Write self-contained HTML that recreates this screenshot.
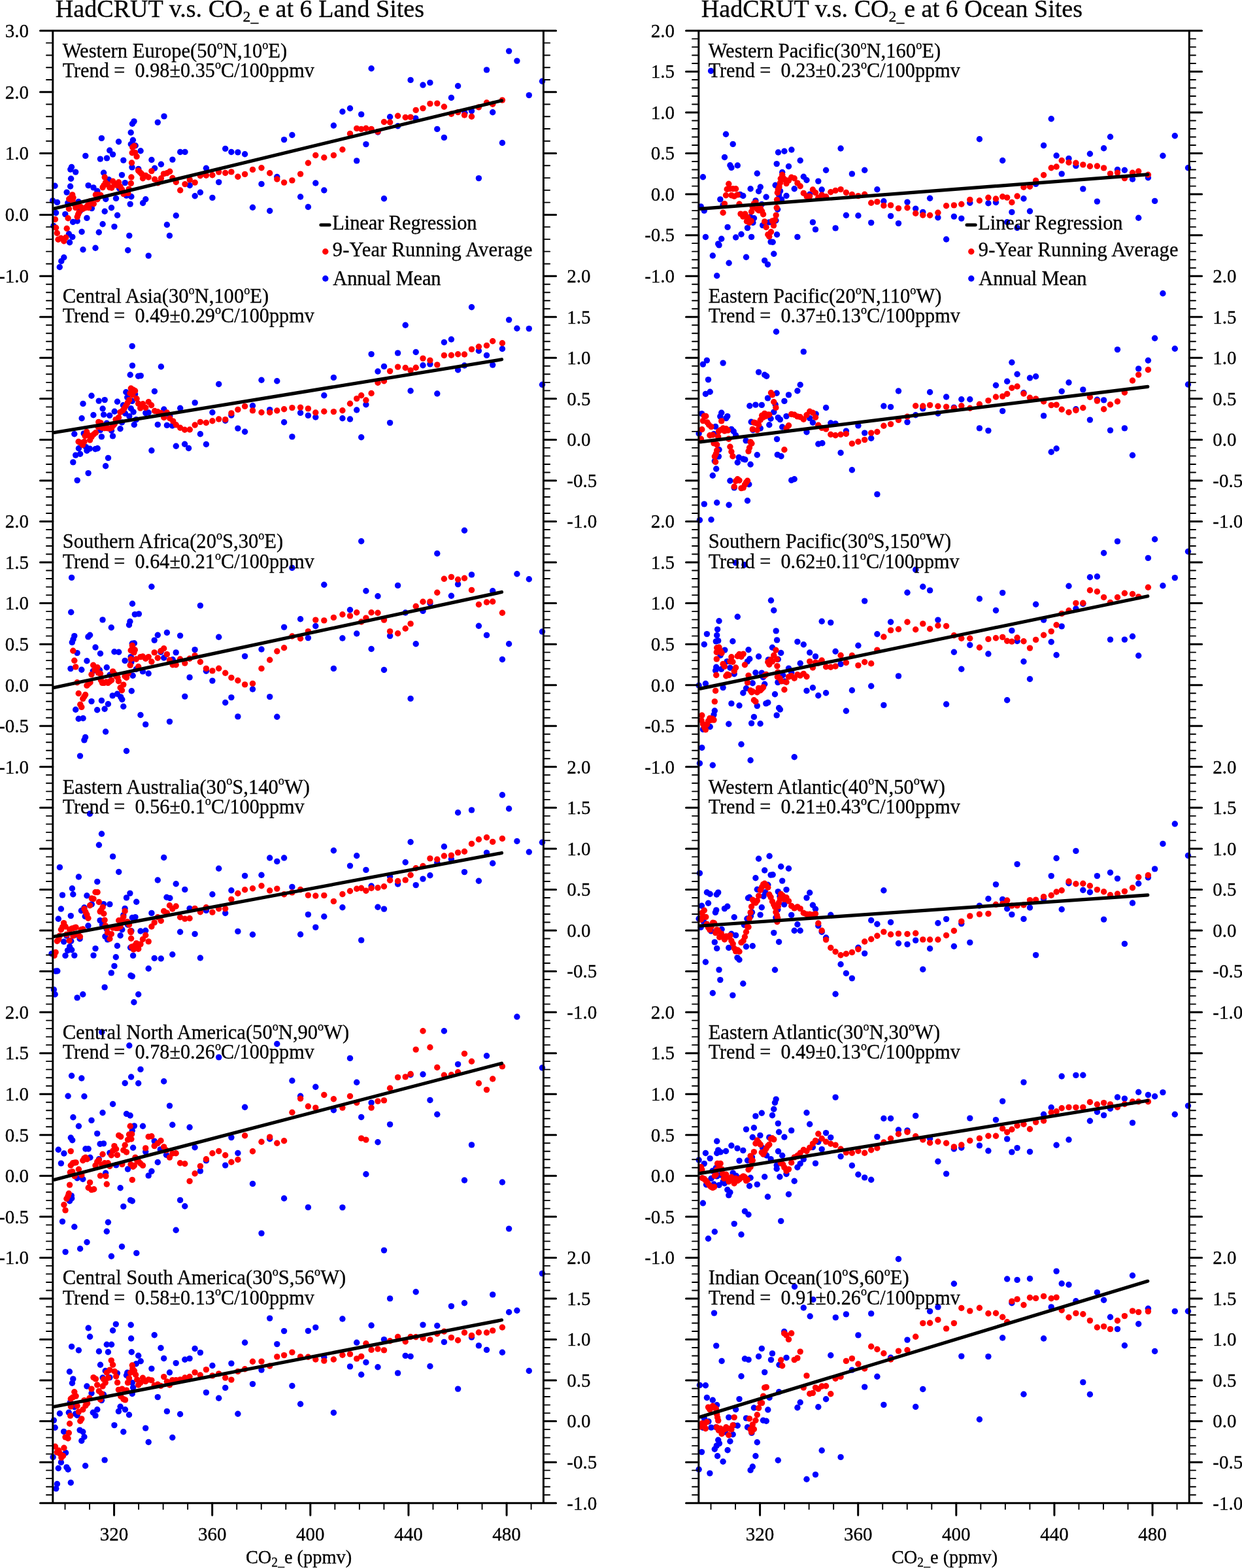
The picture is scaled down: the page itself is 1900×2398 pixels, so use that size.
<!DOCTYPE html>
<html lang="en"><head><meta charset="utf-8"><title>HadCRUT v.s. CO2_e</title>
<style>html,body{margin:0;padding:0;background:#fff}body{width:1900px;height:2398px;overflow:hidden}svg{display:block}text{font-family:"Liberation Serif","DejaVu Serif",serif;fill:#000;stroke:#000;stroke-width:0.3px}</style></head><body>
<svg width="1900" height="2398" viewBox="0 0 1900 2398">
<rect width="1900" height="2398" fill="#fff"/>
<g id="panel-L">
<g fill="#0000ff">
<circle cx="251" cy="177.9" r="4.7"/><circle cx="205.1" cy="185.6" r="4.7"/><circle cx="202.5" cy="189.3" r="4.7"/><circle cx="241.3" cy="187.1" r="4.7"/><circle cx="200.2" cy="202.7" r="4.7"/><circle cx="155.4" cy="211.4" r="4.7"/><circle cx="203.4" cy="214.2" r="4.7"/><circle cx="181.5" cy="216.8" r="4.7"/><circle cx="200.3" cy="220.5" r="4.7"/><circle cx="207.2" cy="222.7" r="4.7"/><circle cx="167.7" cy="230" r="4.7"/><circle cx="215.1" cy="230.7" r="4.7"/><circle cx="172.6" cy="236.1" r="4.7"/><circle cx="275.7" cy="232.5" r="4.7"/><circle cx="283" cy="232.4" r="4.7"/><circle cx="130.8" cy="238.4" r="4.7"/><circle cx="153.4" cy="243.1" r="4.7"/><circle cx="163.5" cy="241.9" r="4.7"/><circle cx="188.8" cy="245.1" r="4.7"/><circle cx="231.9" cy="244.5" r="4.7"/><circle cx="263.9" cy="244.1" r="4.7"/><circle cx="246.4" cy="251.3" r="4.7"/><circle cx="109.5" cy="255.5" r="4.7"/><circle cx="107.8" cy="259.1" r="4.7"/><circle cx="115.7" cy="263.1" r="4.7"/><circle cx="202" cy="255.9" r="4.7"/><circle cx="211.8" cy="258.4" r="4.7"/><circle cx="236.6" cy="257.2" r="4.7"/><circle cx="158.6" cy="264.2" r="4.7"/><circle cx="186.5" cy="267.6" r="4.7"/><circle cx="108.6" cy="273.3" r="4.7"/><circle cx="166.5" cy="274.7" r="4.7"/><circle cx="191.3" cy="279.6" r="4.7"/><circle cx="84" cy="284.2" r="4.7"/><circle cx="107.6" cy="285" r="4.7"/><circle cx="135.1" cy="283.6" r="4.7"/><circle cx="143" cy="286.9" r="4.7"/><circle cx="148.9" cy="292.3" r="4.7"/><circle cx="102.1" cy="294.1" r="4.7"/><circle cx="182.5" cy="288.1" r="4.7"/><circle cx="200.9" cy="300.8" r="4.7"/><circle cx="193.4" cy="299.1" r="4.7"/><circle cx="177.5" cy="303.4" r="4.7"/><circle cx="161.8" cy="304.5" r="4.7"/><circle cx="222.8" cy="304.7" r="4.7"/><circle cx="80.6" cy="306.9" r="4.7"/><circle cx="87.5" cy="309.4" r="4.7"/><circle cx="103.8" cy="310.4" r="4.7"/><circle cx="120.1" cy="308.5" r="4.7"/><circle cx="218.6" cy="310.5" r="4.7"/><circle cx="199.2" cy="312.1" r="4.7"/><circle cx="170.5" cy="317.8" r="4.7"/><circle cx="140.4" cy="318.6" r="4.7"/><circle cx="160.2" cy="323.3" r="4.7"/><circle cx="85.6" cy="325.5" r="4.7"/><circle cx="99.8" cy="327.6" r="4.7"/><circle cx="122.4" cy="322.7" r="4.7"/><circle cx="179.6" cy="329.2" r="4.7"/><circle cx="269.3" cy="329.7" r="4.7"/><circle cx="132.9" cy="333.4" r="4.7"/><circle cx="111.6" cy="339.5" r="4.7"/><circle cx="118.2" cy="338" r="4.7"/><circle cx="157.1" cy="342.7" r="4.7"/><circle cx="174.9" cy="346.6" r="4.7"/><circle cx="255.4" cy="343.7" r="4.7"/><circle cx="81.9" cy="345.5" r="4.7"/><circle cx="125.1" cy="354.5" r="4.7"/><circle cx="151.3" cy="355.2" r="4.7"/><circle cx="105.4" cy="357.8" r="4.7"/><circle cx="110.8" cy="362.4" r="4.7"/><circle cx="197.8" cy="360.4" r="4.7"/><circle cx="259.4" cy="360.4" r="4.7"/><circle cx="106.6" cy="370.8" r="4.7"/><circle cx="127" cy="381.7" r="4.7"/><circle cx="146" cy="379.2" r="4.7"/><circle cx="195.7" cy="382.8" r="4.7"/><circle cx="227.2" cy="391.1" r="4.7"/><circle cx="97.8" cy="393.7" r="4.7"/><circle cx="93.8" cy="399.4" r="4.7"/><circle cx="91.3" cy="408.5" r="4.7"/><circle cx="568.1" cy="104.8" r="4.7"/><circle cx="535.5" cy="165.8" r="4.7"/><circle cx="523.9" cy="170.7" r="4.7"/><circle cx="552.7" cy="174.9" r="4.7"/><circle cx="510.4" cy="192" r="4.7"/><circle cx="446.9" cy="206.5" r="4.7"/><circle cx="434.6" cy="213.6" r="4.7"/><circle cx="578" cy="202" r="4.7"/><circle cx="559.9" cy="220.6" r="4.7"/><circle cx="344.7" cy="227.4" r="4.7"/><circle cx="353.9" cy="232.5" r="4.7"/><circle cx="363.9" cy="232.9" r="4.7"/><circle cx="374.6" cy="235.7" r="4.7"/><circle cx="545.7" cy="245.9" r="4.7"/><circle cx="315.4" cy="257.3" r="4.7"/><circle cx="423.8" cy="270.5" r="4.7"/><circle cx="334.7" cy="278.6" r="4.7"/><circle cx="400" cy="281.4" r="4.7"/><circle cx="482.8" cy="280" r="4.7"/><circle cx="290.3" cy="283.5" r="4.7"/><circle cx="495.8" cy="291" r="4.7"/><circle cx="306.4" cy="294.2" r="4.7"/><circle cx="298.2" cy="299.8" r="4.7"/><circle cx="324.9" cy="302.4" r="4.7"/><circle cx="459.6" cy="301" r="4.7"/><circle cx="587.5" cy="303.7" r="4.7"/><circle cx="386.5" cy="317.2" r="4.7"/><circle cx="471.4" cy="316.5" r="4.7"/><circle cx="412.7" cy="322.5" r="4.7"/><circle cx="778.6" cy="78.1" r="4.7"/><circle cx="790.9" cy="93.1" r="4.7"/><circle cx="744.5" cy="106.9" r="4.7"/><circle cx="628.1" cy="122.4" r="4.7"/><circle cx="647" cy="130" r="4.7"/><circle cx="657.9" cy="126.4" r="4.7"/><circle cx="829.5" cy="124.2" r="4.7"/><circle cx="700.6" cy="131.5" r="4.7"/><circle cx="809.3" cy="145.6" r="4.7"/><circle cx="690.4" cy="149.5" r="4.7"/><circle cx="596.6" cy="178.8" r="4.7"/><circle cx="635.8" cy="180.9" r="4.7"/><circle cx="721.5" cy="169.8" r="4.7"/><circle cx="711" cy="172.8" r="4.7"/><circle cx="753.7" cy="171.8" r="4.7"/><circle cx="608.6" cy="192.7" r="4.7"/><circle cx="668.8" cy="197.4" r="4.7"/><circle cx="679.4" cy="210.4" r="4.7"/><circle cx="768.4" cy="218.5" r="4.7"/><circle cx="732.4" cy="272.6" r="4.7"/>
</g>
<g fill="#ff0000">
<circle cx="84.4" cy="335.5" r="4.7"/><circle cx="85.6" cy="348.3" r="4.7"/><circle cx="87.3" cy="356.5" r="4.7"/><circle cx="89" cy="366.2" r="4.7"/><circle cx="93.2" cy="364.3" r="4.7"/><circle cx="97.8" cy="368.7" r="4.7"/><circle cx="100.7" cy="363.3" r="4.7"/><circle cx="102.2" cy="349.5" r="4.7"/><circle cx="104.1" cy="333.7" r="4.7"/><circle cx="105.4" cy="319.2" r="4.7"/><circle cx="105.7" cy="304.2" r="4.7"/><circle cx="108.8" cy="301.7" r="4.7"/><circle cx="110.7" cy="297.9" r="4.7"/><circle cx="112" cy="302.3" r="4.7"/><circle cx="111.3" cy="307.9" r="4.7"/><circle cx="113.8" cy="312.3" r="4.7"/><circle cx="115.7" cy="317.6" r="4.7"/><circle cx="118.2" cy="314.8" r="4.7"/><circle cx="123.2" cy="316.1" r="4.7"/><circle cx="118.2" cy="331.7" r="4.7"/><circle cx="119.5" cy="328" r="4.7"/><circle cx="120.7" cy="325.2" r="4.7"/><circle cx="126.4" cy="319.8" r="4.7"/><circle cx="130.1" cy="317.9" r="4.7"/><circle cx="133.9" cy="314.2" r="4.7"/><circle cx="135.8" cy="317.6" r="4.7"/><circle cx="137.6" cy="307.9" r="4.7"/><circle cx="140.2" cy="310.4" r="4.7"/><circle cx="143.3" cy="311.7" r="4.7"/><circle cx="146.4" cy="297.9" r="4.7"/><circle cx="150.2" cy="297.9" r="4.7"/><circle cx="153.9" cy="298.5" r="4.7"/><circle cx="148.9" cy="304.8" r="4.7"/><circle cx="157.1" cy="286.6" r="4.7"/><circle cx="158.9" cy="283.5" r="4.7"/><circle cx="161.5" cy="279.1" r="4.7"/><circle cx="160.2" cy="271" r="4.7"/><circle cx="164.6" cy="281.6" r="4.7"/><circle cx="167.7" cy="286.6" r="4.7"/><circle cx="170.8" cy="287.2" r="4.7"/><circle cx="172.7" cy="277.2" r="4.7"/><circle cx="175.2" cy="282.2" r="4.7"/><circle cx="181.5" cy="278.8" r="4.7"/><circle cx="179" cy="283.5" r="4.7"/><circle cx="184" cy="285.4" r="4.7"/><circle cx="186.5" cy="289.7" r="4.7"/><circle cx="189" cy="296.6" r="4.7"/><circle cx="195.9" cy="295.4" r="4.7"/><circle cx="197.2" cy="289.1" r="4.7"/><circle cx="200.3" cy="280.4" r="4.7"/><circle cx="200.9" cy="271" r="4.7"/><circle cx="201.5" cy="249" r="4.7"/><circle cx="202.2" cy="233.7" r="4.7"/><circle cx="202.8" cy="225.2" r="4.7"/><circle cx="205.3" cy="223.3" r="4.7"/><circle cx="206.6" cy="233.4" r="4.7"/><circle cx="209.1" cy="239.4" r="4.7"/><circle cx="211.6" cy="260.9" r="4.7"/><circle cx="214.1" cy="263.4" r="4.7"/><circle cx="216.6" cy="265.9" r="4.7"/><circle cx="218.5" cy="272.8" r="4.7"/><circle cx="222.8" cy="268.4" r="4.7"/><circle cx="227.2" cy="271" r="4.7"/><circle cx="231.9" cy="261.6" r="4.7"/><circle cx="236.6" cy="274.1" r="4.7"/><circle cx="241.6" cy="279.7" r="4.7"/><circle cx="246.4" cy="272.8" r="4.7"/><circle cx="250.4" cy="265.9" r="4.7"/><circle cx="255.4" cy="264.7" r="4.7"/><circle cx="259.8" cy="262.2" r="4.7"/><circle cx="263.9" cy="272.2" r="4.7"/><circle cx="269.3" cy="278.5" r="4.7"/><circle cx="275.7" cy="291" r="4.7"/><circle cx="283" cy="281.6" r="4.7"/><circle cx="290.3" cy="274.9" r="4.7"/><circle cx="298.2" cy="279.1" r="4.7"/><circle cx="306.4" cy="268.7" r="4.7"/><circle cx="315.4" cy="268.2" r="4.7"/><circle cx="324.9" cy="267.7" r="4.7"/><circle cx="334.7" cy="263.1" r="4.7"/><circle cx="344.7" cy="264.5" r="4.7"/><circle cx="353.9" cy="262.9" r="4.7"/><circle cx="363.9" cy="270.3" r="4.7"/><circle cx="374.6" cy="266.4" r="4.7"/><circle cx="386.5" cy="259.4" r="4.7"/><circle cx="400" cy="256.8" r="4.7"/><circle cx="412.7" cy="264.7" r="4.7"/><circle cx="423.8" cy="274" r="4.7"/><circle cx="434.6" cy="279.1" r="4.7"/><circle cx="446.9" cy="275.9" r="4.7"/><circle cx="459.6" cy="266.1" r="4.7"/><circle cx="471.4" cy="249.2" r="4.7"/><circle cx="482.8" cy="237.5" r="4.7"/><circle cx="495.8" cy="241" r="4.7"/><circle cx="510.4" cy="237.5" r="4.7"/><circle cx="523.9" cy="228.7" r="4.7"/><circle cx="535.5" cy="204.4" r="4.7"/><circle cx="545.7" cy="196.4" r="4.7"/><circle cx="552.7" cy="197.4" r="4.7"/><circle cx="559.9" cy="196.2" r="4.7"/><circle cx="568.1" cy="197.4" r="4.7"/><circle cx="578" cy="201.4" r="4.7"/><circle cx="587.5" cy="186.5" r="4.7"/><circle cx="596.6" cy="187" r="4.7"/><circle cx="608.6" cy="177.2" r="4.7"/><circle cx="620.2" cy="179.5" r="4.7"/><circle cx="628.1" cy="179.1" r="4.7"/><circle cx="636.2" cy="168.4" r="4.7"/><circle cx="647" cy="165.6" r="4.7"/><circle cx="657.9" cy="158.6" r="4.7"/><circle cx="668.8" cy="158.1" r="4.7"/><circle cx="679.4" cy="163.3" r="4.7"/><circle cx="690.4" cy="174.2" r="4.7"/><circle cx="700.6" cy="171.6" r="4.7"/><circle cx="710.5" cy="176" r="4.7"/><circle cx="721.5" cy="178.3" r="4.7"/><circle cx="732.4" cy="164" r="4.7"/><circle cx="744.5" cy="157" r="4.7"/><circle cx="753.7" cy="159.3" r="4.7"/><circle cx="768.4" cy="153.1" r="4.7"/>
</g>
<line x1="83" y1="319" x2="767.5" y2="153.8" stroke="#000" stroke-width="5.2" stroke-linecap="round"/>
<g fill="#0000ff">
<circle cx="202.2" cy="529.4" r="4.7"/><circle cx="202.5" cy="559.1" r="4.7"/><circle cx="246.4" cy="560.8" r="4.7"/><circle cx="199.2" cy="573.2" r="4.7"/><circle cx="211.6" cy="575.2" r="4.7"/><circle cx="215.3" cy="574.6" r="4.7"/><circle cx="236.4" cy="598.5" r="4.7"/><circle cx="192.8" cy="599.8" r="4.7"/><circle cx="206.6" cy="602.8" r="4.7"/><circle cx="140" cy="605.2" r="4.7"/><circle cx="194.7" cy="607.8" r="4.7"/><circle cx="151.2" cy="613.1" r="4.7"/><circle cx="160.2" cy="611.6" r="4.7"/><circle cx="179.5" cy="614.3" r="4.7"/><circle cx="202.2" cy="613.4" r="4.7"/><circle cx="127" cy="617.4" r="4.7"/><circle cx="188.4" cy="619.7" r="4.7"/><circle cx="157.1" cy="625" r="4.7"/><circle cx="200.3" cy="624.7" r="4.7"/><circle cx="250.8" cy="626" r="4.7"/><circle cx="275.7" cy="624.3" r="4.7"/><circle cx="175.2" cy="629.3" r="4.7"/><circle cx="204.1" cy="630" r="4.7"/><circle cx="222.8" cy="631.6" r="4.7"/><circle cx="227.2" cy="631" r="4.7"/><circle cx="191.5" cy="632.2" r="4.7"/><circle cx="142.9" cy="634.7" r="4.7"/><circle cx="158.6" cy="634.1" r="4.7"/><circle cx="167.7" cy="635.4" r="4.7"/><circle cx="197.8" cy="636.6" r="4.7"/><circle cx="125.1" cy="639.7" r="4.7"/><circle cx="208.4" cy="641.6" r="4.7"/><circle cx="259.8" cy="636.6" r="4.7"/><circle cx="163.3" cy="647.3" r="4.7"/><circle cx="186.5" cy="646" r="4.7"/><circle cx="205.3" cy="649.5" r="4.7"/><circle cx="241.3" cy="649.4" r="4.7"/><circle cx="255.4" cy="650.4" r="4.7"/><circle cx="263.6" cy="651" r="4.7"/><circle cx="184" cy="655.8" r="4.7"/><circle cx="153.3" cy="657.9" r="4.7"/><circle cx="170.5" cy="658.5" r="4.7"/><circle cx="113.8" cy="663.7" r="4.7"/><circle cx="128.2" cy="662.9" r="4.7"/><circle cx="172.5" cy="666.9" r="4.7"/><circle cx="155.4" cy="667.9" r="4.7"/><circle cx="269.3" cy="682.2" r="4.7"/><circle cx="282.6" cy="679.2" r="4.7"/><circle cx="288.6" cy="685.5" r="4.7"/><circle cx="120.4" cy="685.7" r="4.7"/><circle cx="131.4" cy="683.6" r="4.7"/><circle cx="137.3" cy="686.1" r="4.7"/><circle cx="132.9" cy="689.2" r="4.7"/><circle cx="145.8" cy="686.7" r="4.7"/><circle cx="149.2" cy="685.7" r="4.7"/><circle cx="231.9" cy="689" r="4.7"/><circle cx="122.6" cy="694.3" r="4.7"/><circle cx="115.7" cy="696.1" r="4.7"/><circle cx="165.5" cy="700.4" r="4.7"/><circle cx="111.8" cy="706.9" r="4.7"/><circle cx="161.6" cy="712.7" r="4.7"/><circle cx="135.1" cy="723.6" r="4.7"/><circle cx="118.2" cy="734.6" r="4.7"/><circle cx="568.1" cy="541.6" r="4.7"/><circle cx="578" cy="568" r="4.7"/><circle cx="510.4" cy="577.4" r="4.7"/><circle cx="400" cy="581.3" r="4.7"/><circle cx="423.8" cy="582.7" r="4.7"/><circle cx="334.7" cy="587.5" r="4.7"/><circle cx="495.8" cy="604.7" r="4.7"/><circle cx="298.2" cy="615.9" r="4.7"/><circle cx="386.5" cy="620.5" r="4.7"/><circle cx="559.9" cy="618.7" r="4.7"/><circle cx="412.7" cy="626.6" r="4.7"/><circle cx="545.7" cy="627" r="4.7"/><circle cx="324.9" cy="630.8" r="4.7"/><circle cx="459.6" cy="631.4" r="4.7"/><circle cx="353.9" cy="635.1" r="4.7"/><circle cx="471.4" cy="635.4" r="4.7"/><circle cx="482.8" cy="638" r="4.7"/><circle cx="523.9" cy="639.8" r="4.7"/><circle cx="535.5" cy="641" r="4.7"/><circle cx="344.7" cy="643.3" r="4.7"/><circle cx="434.6" cy="645.8" r="4.7"/><circle cx="363.9" cy="655.1" r="4.7"/><circle cx="374.6" cy="660.3" r="4.7"/><circle cx="306.4" cy="663.7" r="4.7"/><circle cx="446.9" cy="667.9" r="4.7"/><circle cx="552.7" cy="668.8" r="4.7"/><circle cx="315.4" cy="679.5" r="4.7"/><circle cx="721.5" cy="469.8" r="4.7"/><circle cx="778.6" cy="489.1" r="4.7"/><circle cx="620.2" cy="497.2" r="4.7"/><circle cx="790.9" cy="502.3" r="4.7"/><circle cx="809.3" cy="502.6" r="4.7"/><circle cx="679.4" cy="523.5" r="4.7"/><circle cx="690.4" cy="519" r="4.7"/><circle cx="768.4" cy="533.5" r="4.7"/><circle cx="732.4" cy="536.5" r="4.7"/><circle cx="608.6" cy="539.9" r="4.7"/><circle cx="636.2" cy="538.5" r="4.7"/><circle cx="744.5" cy="543.4" r="4.7"/><circle cx="647" cy="558.7" r="4.7"/><circle cx="657.9" cy="556.9" r="4.7"/><circle cx="587.5" cy="560.4" r="4.7"/><circle cx="753.7" cy="558.1" r="4.7"/><circle cx="710.5" cy="559" r="4.7"/><circle cx="700.6" cy="565.7" r="4.7"/><circle cx="829.5" cy="588.3" r="4.7"/><circle cx="628.1" cy="597.8" r="4.7"/><circle cx="668.8" cy="602" r="4.7"/><circle cx="596.6" cy="646.6" r="4.7"/>
</g>
<g fill="#ff0000">
<circle cx="120.1" cy="675.5" r="4.7"/><circle cx="123.2" cy="677.3" r="4.7"/><circle cx="126.4" cy="680.5" r="4.7"/><circle cx="128.9" cy="675.5" r="4.7"/><circle cx="130.1" cy="666.7" r="4.7"/><circle cx="132.6" cy="660.4" r="4.7"/><circle cx="135.1" cy="665.4" r="4.7"/><circle cx="137.6" cy="673" r="4.7"/><circle cx="140.2" cy="667.9" r="4.7"/><circle cx="143.3" cy="664.2" r="4.7"/><circle cx="146.4" cy="661.7" r="4.7"/><circle cx="150.2" cy="652.9" r="4.7"/><circle cx="150.8" cy="645.4" r="4.7"/><circle cx="153.9" cy="646.6" r="4.7"/><circle cx="156.4" cy="654.2" r="4.7"/><circle cx="160.2" cy="654.8" r="4.7"/><circle cx="164" cy="654.8" r="4.7"/><circle cx="167.7" cy="655.4" r="4.7"/><circle cx="170.8" cy="654.2" r="4.7"/><circle cx="173.4" cy="650.4" r="4.7"/><circle cx="175.2" cy="648.5" r="4.7"/><circle cx="177.1" cy="641.6" r="4.7"/><circle cx="181.5" cy="638.5" r="4.7"/><circle cx="184" cy="630.4" r="4.7"/><circle cx="187.8" cy="627.8" r="4.7"/><circle cx="190.3" cy="624.1" r="4.7"/><circle cx="192.8" cy="620.3" r="4.7"/><circle cx="195.3" cy="615.9" r="4.7"/><circle cx="197.8" cy="611.6" r="4.7"/><circle cx="199" cy="601.5" r="4.7"/><circle cx="200.3" cy="594" r="4.7"/><circle cx="203.4" cy="595.9" r="4.7"/><circle cx="206.6" cy="597.8" r="4.7"/><circle cx="202.8" cy="604" r="4.7"/><circle cx="209.1" cy="609.7" r="4.7"/><circle cx="211.6" cy="617.2" r="4.7"/><circle cx="214.7" cy="624.1" r="4.7"/><circle cx="218.5" cy="617.8" r="4.7"/><circle cx="222.8" cy="623.5" r="4.7"/><circle cx="227.2" cy="614.7" r="4.7"/><circle cx="231.6" cy="619.7" r="4.7"/><circle cx="236.6" cy="628.5" r="4.7"/><circle cx="241.3" cy="629.7" r="4.7"/><circle cx="246.4" cy="631.6" r="4.7"/><circle cx="250.8" cy="638.5" r="4.7"/><circle cx="255.4" cy="631" r="4.7"/><circle cx="259.8" cy="639.7" r="4.7"/><circle cx="264.8" cy="644.1" r="4.7"/><circle cx="269.3" cy="649.8" r="4.7"/><circle cx="275.7" cy="654.2" r="4.7"/><circle cx="282.6" cy="657.3" r="4.7"/><circle cx="290.3" cy="657" r="4.7"/><circle cx="298.2" cy="650" r="4.7"/><circle cx="306.4" cy="645.4" r="4.7"/><circle cx="315.4" cy="646.5" r="4.7"/><circle cx="324.9" cy="643.8" r="4.7"/><circle cx="334.7" cy="641" r="4.7"/><circle cx="344.7" cy="641.6" r="4.7"/><circle cx="353.9" cy="631.9" r="4.7"/><circle cx="363.9" cy="626.4" r="4.7"/><circle cx="374.6" cy="621.4" r="4.7"/><circle cx="386.5" cy="627.9" r="4.7"/><circle cx="400" cy="630.7" r="4.7"/><circle cx="412.7" cy="630.7" r="4.7"/><circle cx="423.8" cy="628" r="4.7"/><circle cx="434.6" cy="625.7" r="4.7"/><circle cx="446.9" cy="623.6" r="4.7"/><circle cx="459.6" cy="623.1" r="4.7"/><circle cx="471.4" cy="624.9" r="4.7"/><circle cx="482.8" cy="631" r="4.7"/><circle cx="495.8" cy="629.3" r="4.7"/><circle cx="510.4" cy="629.6" r="4.7"/><circle cx="523.9" cy="627.7" r="4.7"/><circle cx="535.5" cy="617.3" r="4.7"/><circle cx="545.7" cy="609.6" r="4.7"/><circle cx="552.7" cy="604.7" r="4.7"/><circle cx="559.9" cy="612" r="4.7"/><circle cx="568.1" cy="601.5" r="4.7"/><circle cx="578" cy="585.3" r="4.7"/><circle cx="587.5" cy="582.7" r="4.7"/><circle cx="596.6" cy="567.6" r="4.7"/><circle cx="608.6" cy="561.1" r="4.7"/><circle cx="620.2" cy="562.5" r="4.7"/><circle cx="628.1" cy="566.4" r="4.7"/><circle cx="636.2" cy="562.3" r="4.7"/><circle cx="647" cy="548.1" r="4.7"/><circle cx="657.9" cy="551.1" r="4.7"/><circle cx="668.8" cy="557.9" r="4.7"/><circle cx="679.4" cy="543.5" r="4.7"/><circle cx="690.4" cy="543.2" r="4.7"/><circle cx="700.6" cy="541.8" r="4.7"/><circle cx="710.5" cy="542" r="4.7"/><circle cx="721.5" cy="534.1" r="4.7"/><circle cx="732.4" cy="530.2" r="4.7"/><circle cx="744.5" cy="528.4" r="4.7"/><circle cx="753.7" cy="521.8" r="4.7"/><circle cx="768.4" cy="524.8" r="4.7"/>
</g>
<line x1="83" y1="661.5" x2="767.5" y2="549.7" stroke="#000" stroke-width="5.2" stroke-linecap="round"/>
<g fill="#0000ff">
<circle cx="109.6" cy="883.4" r="4.7"/><circle cx="231.9" cy="897.3" r="4.7"/><circle cx="202.5" cy="923.3" r="4.7"/><circle cx="108.7" cy="936.2" r="4.7"/><circle cx="206.3" cy="939.6" r="4.7"/><circle cx="212.4" cy="938.9" r="4.7"/><circle cx="157" cy="947.9" r="4.7"/><circle cx="198.9" cy="950.5" r="4.7"/><circle cx="197.5" cy="955.8" r="4.7"/><circle cx="170.3" cy="959.7" r="4.7"/><circle cx="255.4" cy="967.5" r="4.7"/><circle cx="241.3" cy="971.2" r="4.7"/><circle cx="275.6" cy="972.1" r="4.7"/><circle cx="113.8" cy="972.6" r="4.7"/><circle cx="137.6" cy="971.2" r="4.7"/><circle cx="134.9" cy="973.9" r="4.7"/><circle cx="112" cy="977.7" r="4.7"/><circle cx="236.2" cy="979.1" r="4.7"/><circle cx="110.3" cy="982.4" r="4.7"/><circle cx="202.3" cy="984.2" r="4.7"/><circle cx="205.4" cy="983.8" r="4.7"/><circle cx="146" cy="990" r="4.7"/><circle cx="298.1" cy="993.6" r="4.7"/><circle cx="118.1" cy="998.6" r="4.7"/><circle cx="153.5" cy="999.5" r="4.7"/><circle cx="174.9" cy="996.8" r="4.7"/><circle cx="181.7" cy="997.2" r="4.7"/><circle cx="269.2" cy="997.9" r="4.7"/><circle cx="246" cy="997.2" r="4.7"/><circle cx="200.2" cy="1004.6" r="4.7"/><circle cx="250.7" cy="1006" r="4.7"/><circle cx="264.2" cy="1008.7" r="4.7"/><circle cx="132.9" cy="1010.7" r="4.7"/><circle cx="191.1" cy="1010.4" r="4.7"/><circle cx="200.9" cy="1012.7" r="4.7"/><circle cx="163.3" cy="1020.7" r="4.7"/><circle cx="108" cy="1022.6" r="4.7"/><circle cx="124.8" cy="1024.2" r="4.7"/><circle cx="208.3" cy="1023.5" r="4.7"/><circle cx="152.4" cy="1024.8" r="4.7"/><circle cx="142.3" cy="1026.2" r="4.7"/><circle cx="218.4" cy="1026.9" r="4.7"/><circle cx="227.2" cy="1030" r="4.7"/><circle cx="167.9" cy="1032.2" r="4.7"/><circle cx="203.2" cy="1033.2" r="4.7"/><circle cx="290.1" cy="1035.9" r="4.7"/><circle cx="201.3" cy="1056.8" r="4.7"/><circle cx="179.4" cy="1061.2" r="4.7"/><circle cx="172.2" cy="1063.9" r="4.7"/><circle cx="184.7" cy="1065.9" r="4.7"/><circle cx="186.8" cy="1069.7" r="4.7"/><circle cx="282.8" cy="1065.1" r="4.7"/><circle cx="140" cy="1072.6" r="4.7"/><circle cx="155.4" cy="1071.4" r="4.7"/><circle cx="165.4" cy="1076.7" r="4.7"/><circle cx="188.8" cy="1080.5" r="4.7"/><circle cx="115.7" cy="1085.3" r="4.7"/><circle cx="148.7" cy="1085.8" r="4.7"/><circle cx="160.1" cy="1084.2" r="4.7"/><circle cx="215" cy="1093.5" r="4.7"/><circle cx="120.2" cy="1099.2" r="4.7"/><circle cx="127.1" cy="1098.5" r="4.7"/><circle cx="259.5" cy="1103.6" r="4.7"/><circle cx="222.7" cy="1107.9" r="4.7"/><circle cx="161.6" cy="1119" r="4.7"/><circle cx="130.6" cy="1127.5" r="4.7"/><circle cx="128.9" cy="1131.9" r="4.7"/><circle cx="193.5" cy="1148.5" r="4.7"/><circle cx="122.5" cy="1156.1" r="4.7"/><circle cx="306.4" cy="926.1" r="4.7"/><circle cx="315.4" cy="1026.2" r="4.7"/><circle cx="324.9" cy="1041.1" r="4.7"/><circle cx="334.7" cy="974.2" r="4.7"/><circle cx="344.7" cy="1074.5" r="4.7"/><circle cx="353.9" cy="1066.6" r="4.7"/><circle cx="363.9" cy="1095.9" r="4.7"/><circle cx="374.6" cy="1003.6" r="4.7"/><circle cx="386.5" cy="1054" r="4.7"/><circle cx="400" cy="993" r="4.7"/><circle cx="412.7" cy="1065.6" r="4.7"/><circle cx="423.8" cy="1096.3" r="4.7"/><circle cx="434.6" cy="959.1" r="4.7"/><circle cx="446.9" cy="868.5" r="4.7"/><circle cx="459.6" cy="946.8" r="4.7"/><circle cx="471.4" cy="975.6" r="4.7"/><circle cx="482.8" cy="957.5" r="4.7"/><circle cx="495.8" cy="894.3" r="4.7"/><circle cx="510.4" cy="1022.4" r="4.7"/><circle cx="523.9" cy="976" r="4.7"/><circle cx="535.5" cy="932.8" r="4.7"/><circle cx="545.7" cy="969" r="4.7"/><circle cx="552.7" cy="827.7" r="4.7"/><circle cx="559.9" cy="903.8" r="4.7"/><circle cx="568.1" cy="992.5" r="4.7"/><circle cx="578" cy="911.7" r="4.7"/><circle cx="587.5" cy="1024.5" r="4.7"/><circle cx="596.6" cy="972.6" r="4.7"/><circle cx="608.6" cy="895.4" r="4.7"/><circle cx="620.2" cy="937" r="4.7"/><circle cx="628.1" cy="1068.4" r="4.7"/><circle cx="636.2" cy="984.8" r="4.7"/><circle cx="647" cy="934.4" r="4.7"/><circle cx="657.9" cy="922.6" r="4.7"/><circle cx="668.8" cy="846.5" r="4.7"/><circle cx="690.4" cy="911.2" r="4.7"/><circle cx="700.6" cy="893.6" r="4.7"/><circle cx="710.5" cy="811.2" r="4.7"/><circle cx="721.5" cy="878.9" r="4.7"/><circle cx="732.4" cy="957.2" r="4.7"/><circle cx="744.5" cy="971.4" r="4.7"/><circle cx="753.7" cy="903.8" r="4.7"/><circle cx="768.4" cy="1008.5" r="4.7"/><circle cx="778.6" cy="984.8" r="4.7"/><circle cx="790.9" cy="877.8" r="4.7"/><circle cx="809.3" cy="885.7" r="4.7"/><circle cx="829.5" cy="966" r="4.7"/>
</g>
<g fill="#ff0000">
<circle cx="111.8" cy="995.2" r="4.7"/><circle cx="113.8" cy="1010.3" r="4.7"/><circle cx="115.7" cy="1019.9" r="4.7"/><circle cx="118.1" cy="1043.7" r="4.7"/><circle cx="120.2" cy="1060.5" r="4.7"/><circle cx="122.8" cy="1077.4" r="4.7"/><circle cx="124.8" cy="1081.4" r="4.7"/><circle cx="126.8" cy="1068.6" r="4.7"/><circle cx="128.9" cy="1065.2" r="4.7"/><circle cx="130.6" cy="1062.5" r="4.7"/><circle cx="132.9" cy="1048.4" r="4.7"/><circle cx="135.6" cy="1045.7" r="4.7"/><circle cx="138" cy="1043.7" r="4.7"/><circle cx="140" cy="1031.6" r="4.7"/><circle cx="142.7" cy="1017.2" r="4.7"/><circle cx="145" cy="1024.2" r="4.7"/><circle cx="147" cy="1021.5" r="4.7"/><circle cx="149.1" cy="1020.8" r="4.7"/><circle cx="150.4" cy="1028.9" r="4.7"/><circle cx="153.5" cy="1030.2" r="4.7"/><circle cx="154.4" cy="1040.3" r="4.7"/><circle cx="156.5" cy="1044.4" r="4.7"/><circle cx="159.2" cy="1044.4" r="4.7"/><circle cx="162.5" cy="1043" r="4.7"/><circle cx="165.2" cy="1044.4" r="4.7"/><circle cx="167.9" cy="1042.3" r="4.7"/><circle cx="170.6" cy="1040.3" r="4.7"/><circle cx="172.6" cy="1026.9" r="4.7"/><circle cx="175.3" cy="1030.9" r="4.7"/><circle cx="178" cy="1034.3" r="4.7"/><circle cx="180" cy="1036.3" r="4.7"/><circle cx="181.4" cy="1041.7" r="4.7"/><circle cx="188.8" cy="1047.1" r="4.7"/><circle cx="184.1" cy="1051.8" r="4.7"/><circle cx="186.5" cy="1055.8" r="4.7"/><circle cx="191.1" cy="1034.3" r="4.7"/><circle cx="193.5" cy="1036.3" r="4.7"/><circle cx="196.2" cy="1029.6" r="4.7"/><circle cx="199.2" cy="1017.4" r="4.7"/><circle cx="200.2" cy="1008" r="4.7"/><circle cx="202.3" cy="987.1" r="4.7"/><circle cx="202.9" cy="990.5" r="4.7"/><circle cx="200.2" cy="994.8" r="4.7"/><circle cx="206.3" cy="993.9" r="4.7"/><circle cx="204.9" cy="997.9" r="4.7"/><circle cx="208.3" cy="1008" r="4.7"/><circle cx="215" cy="1004.6" r="4.7"/><circle cx="218.4" cy="1004" r="4.7"/><circle cx="222.7" cy="1007.3" r="4.7"/><circle cx="227.2" cy="1004.6" r="4.7"/><circle cx="231.9" cy="1012" r="4.7"/><circle cx="211.7" cy="1019.5" r="4.7"/><circle cx="236.2" cy="997.9" r="4.7"/><circle cx="241.3" cy="1006.3" r="4.7"/><circle cx="246" cy="995.5" r="4.7"/><circle cx="250.7" cy="991.8" r="4.7"/><circle cx="255.4" cy="1000.6" r="4.7"/><circle cx="259.5" cy="1009.4" r="4.7"/><circle cx="264.2" cy="1016.8" r="4.7"/><circle cx="269.2" cy="1016.8" r="4.7"/><circle cx="275.6" cy="1008" r="4.7"/><circle cx="282.8" cy="1014.1" r="4.7"/><circle cx="290.1" cy="1007.3" r="4.7"/><circle cx="298.1" cy="1002.6" r="4.7"/><circle cx="306.4" cy="1012.2" r="4.7"/><circle cx="315.4" cy="1022.4" r="4.7"/><circle cx="324.9" cy="1025.9" r="4.7"/><circle cx="334.7" cy="1022.2" r="4.7"/><circle cx="344.7" cy="1029.2" r="4.7"/><circle cx="353.9" cy="1036.4" r="4.7"/><circle cx="363.9" cy="1040.8" r="4.7"/><circle cx="374.6" cy="1046.9" r="4.7"/><circle cx="386.5" cy="1045.4" r="4.7"/><circle cx="400" cy="1022.4" r="4.7"/><circle cx="412.7" cy="1009.2" r="4.7"/><circle cx="423.8" cy="996" r="4.7"/><circle cx="434.6" cy="990.7" r="4.7"/><circle cx="446.9" cy="973" r="4.7"/><circle cx="459.6" cy="976.5" r="4.7"/><circle cx="471.4" cy="965.6" r="4.7"/><circle cx="482.8" cy="948.1" r="4.7"/><circle cx="495.8" cy="948.9" r="4.7"/><circle cx="510.4" cy="944.4" r="4.7"/><circle cx="523.9" cy="939.8" r="4.7"/><circle cx="535.5" cy="941.9" r="4.7"/><circle cx="545.7" cy="936.8" r="4.7"/><circle cx="552.7" cy="951" r="4.7"/><circle cx="559.9" cy="945.1" r="4.7"/><circle cx="568.1" cy="936.8" r="4.7"/><circle cx="578" cy="937.2" r="4.7"/><circle cx="587.5" cy="948.1" r="4.7"/><circle cx="596.6" cy="965.6" r="4.7"/><circle cx="608.6" cy="968.8" r="4.7"/><circle cx="620.2" cy="961.2" r="4.7"/><circle cx="628.1" cy="953.9" r="4.7"/><circle cx="636.2" cy="927.2" r="4.7"/><circle cx="647" cy="920.3" r="4.7"/><circle cx="657.9" cy="920.1" r="4.7"/><circle cx="668.8" cy="906.3" r="4.7"/><circle cx="679.4" cy="885.2" r="4.7"/><circle cx="690.4" cy="882.4" r="4.7"/><circle cx="700.6" cy="886.2" r="4.7"/><circle cx="710.5" cy="884.3" r="4.7"/><circle cx="721.5" cy="902.4" r="4.7"/><circle cx="732.4" cy="924.5" r="4.7"/><circle cx="744.5" cy="921" r="4.7"/><circle cx="753.7" cy="920" r="4.7"/><circle cx="768.4" cy="937.2" r="4.7"/>
</g>
<line x1="83" y1="1051.5" x2="767.5" y2="905.5" stroke="#000" stroke-width="5.2" stroke-linecap="round"/>
<g fill="#0000ff">
<circle cx="155.5" cy="1275.3" r="4.7"/><circle cx="151.4" cy="1292.3" r="4.7"/><circle cx="172.6" cy="1309.9" r="4.7"/><circle cx="250.7" cy="1311.5" r="4.7"/><circle cx="91.4" cy="1326.4" r="4.7"/><circle cx="181.7" cy="1333.5" r="4.7"/><circle cx="120.4" cy="1341" r="4.7"/><circle cx="241.3" cy="1346" r="4.7"/><circle cx="148.8" cy="1348.4" r="4.7"/><circle cx="269.2" cy="1351.7" r="4.7"/><circle cx="110.4" cy="1358.8" r="4.7"/><circle cx="282.8" cy="1360.4" r="4.7"/><circle cx="198.9" cy="1366.1" r="4.7"/><circle cx="95.5" cy="1368.9" r="4.7"/><circle cx="111.8" cy="1367.8" r="4.7"/><circle cx="132.9" cy="1369.8" r="4.7"/><circle cx="193.5" cy="1372.9" r="4.7"/><circle cx="255" cy="1372.3" r="4.7"/><circle cx="259.9" cy="1373.5" r="4.7"/><circle cx="208.7" cy="1379.3" r="4.7"/><circle cx="158.5" cy="1382.6" r="4.7"/><circle cx="167.9" cy="1382.9" r="4.7"/><circle cx="140.3" cy="1382.9" r="4.7"/><circle cx="93.4" cy="1390" r="4.7"/><circle cx="191.1" cy="1389.4" r="4.7"/><circle cx="128.9" cy="1388" r="4.7"/><circle cx="124.4" cy="1392.7" r="4.7"/><circle cx="231.9" cy="1396.4" r="4.7"/><circle cx="290.1" cy="1389.4" r="4.7"/><circle cx="108.3" cy="1400.6" r="4.7"/><circle cx="188.8" cy="1399.5" r="4.7"/><circle cx="130.2" cy="1401.5" r="4.7"/><circle cx="202.3" cy="1403.5" r="4.7"/><circle cx="207" cy="1402.6" r="4.7"/><circle cx="89.3" cy="1405.3" r="4.7"/><circle cx="153.1" cy="1407.6" r="4.7"/><circle cx="134.9" cy="1415.8" r="4.7"/><circle cx="156.5" cy="1414.3" r="4.7"/><circle cx="186.8" cy="1421.7" r="4.7"/><circle cx="195.5" cy="1414.3" r="4.7"/><circle cx="200.9" cy="1423.7" r="4.7"/><circle cx="215" cy="1424" r="4.7"/><circle cx="222.7" cy="1423.3" r="4.7"/><circle cx="163.2" cy="1421" r="4.7"/><circle cx="275.6" cy="1425.2" r="4.7"/><circle cx="298.1" cy="1428.4" r="4.7"/><circle cx="184.1" cy="1430.8" r="4.7"/><circle cx="160.9" cy="1432.1" r="4.7"/><circle cx="164.5" cy="1436.9" r="4.7"/><circle cx="122.1" cy="1435.8" r="4.7"/><circle cx="101.9" cy="1431.1" r="4.7"/><circle cx="115.4" cy="1429.8" r="4.7"/><circle cx="97.6" cy="1440.1" r="4.7"/><circle cx="108.7" cy="1439.2" r="4.7"/><circle cx="179.4" cy="1446.5" r="4.7"/><circle cx="106.6" cy="1447.7" r="4.7"/><circle cx="146" cy="1450.6" r="4.7"/><circle cx="103.5" cy="1453.6" r="4.7"/><circle cx="109.7" cy="1452.7" r="4.7"/><circle cx="199.6" cy="1449.3" r="4.7"/><circle cx="79" cy="1458.5" r="4.7"/><circle cx="100" cy="1461.4" r="4.7"/><circle cx="113.8" cy="1461.1" r="4.7"/><circle cx="143" cy="1461.1" r="4.7"/><circle cx="203.6" cy="1461.4" r="4.7"/><circle cx="177.3" cy="1463.7" r="4.7"/><circle cx="263.8" cy="1459.8" r="4.7"/><circle cx="236.2" cy="1465.5" r="4.7"/><circle cx="246.3" cy="1466" r="4.7"/><circle cx="174.9" cy="1477.4" r="4.7"/><circle cx="227.2" cy="1481.3" r="4.7"/><circle cx="85.1" cy="1485.3" r="4.7"/><circle cx="87.8" cy="1485" r="4.7"/><circle cx="170.3" cy="1487.9" r="4.7"/><circle cx="200" cy="1492" r="4.7"/><circle cx="202.3" cy="1493.1" r="4.7"/><circle cx="160.1" cy="1509.9" r="4.7"/><circle cx="82.4" cy="1513.5" r="4.7"/><circle cx="84.2" cy="1520.7" r="4.7"/><circle cx="126.8" cy="1520.8" r="4.7"/><circle cx="211.7" cy="1520.7" r="4.7"/><circle cx="118.1" cy="1525.9" r="4.7"/><circle cx="204.9" cy="1532.8" r="4.7"/><circle cx="137.4" cy="1244.5" r="4.7"/><circle cx="306.4" cy="1465" r="4.7"/><circle cx="315.4" cy="1392.4" r="4.7"/><circle cx="324.9" cy="1367.8" r="4.7"/><circle cx="334.7" cy="1328.3" r="4.7"/><circle cx="344.7" cy="1396.5" r="4.7"/><circle cx="353.9" cy="1361.7" r="4.7"/><circle cx="363.9" cy="1424.4" r="4.7"/><circle cx="374.6" cy="1339.4" r="4.7"/><circle cx="386.5" cy="1429.3" r="4.7"/><circle cx="400" cy="1338.3" r="4.7"/><circle cx="412.7" cy="1312" r="4.7"/><circle cx="423.8" cy="1317.4" r="4.7"/><circle cx="434.6" cy="1312" r="4.7"/><circle cx="446.9" cy="1356.4" r="4.7"/><circle cx="459.6" cy="1429" r="4.7"/><circle cx="471.4" cy="1398.6" r="4.7"/><circle cx="482.8" cy="1418.1" r="4.7"/><circle cx="495.8" cy="1401.7" r="4.7"/><circle cx="510.4" cy="1300.7" r="4.7"/><circle cx="523.9" cy="1387.7" r="4.7"/><circle cx="535.5" cy="1324.1" r="4.7"/><circle cx="545.7" cy="1308.7" r="4.7"/><circle cx="552.7" cy="1437.9" r="4.7"/><circle cx="559.9" cy="1330.4" r="4.7"/><circle cx="568.1" cy="1355" r="4.7"/><circle cx="578" cy="1387.2" r="4.7"/><circle cx="587.5" cy="1390.1" r="4.7"/><circle cx="596.6" cy="1340.6" r="4.7"/><circle cx="608.6" cy="1352" r="4.7"/><circle cx="620.2" cy="1318.8" r="4.7"/><circle cx="628.1" cy="1287.7" r="4.7"/><circle cx="636.2" cy="1353.6" r="4.7"/><circle cx="647" cy="1344.1" r="4.7"/><circle cx="657.9" cy="1338.7" r="4.7"/><circle cx="668.8" cy="1319.2" r="4.7"/><circle cx="679.4" cy="1294.8" r="4.7"/><circle cx="690.4" cy="1313.9" r="4.7"/><circle cx="700.6" cy="1242.8" r="4.7"/><circle cx="710.5" cy="1333.6" r="4.7"/><circle cx="721.5" cy="1238.9" r="4.7"/><circle cx="732.4" cy="1347.3" r="4.7"/><circle cx="744.5" cy="1304.1" r="4.7"/><circle cx="753.7" cy="1320.2" r="4.7"/><circle cx="768.4" cy="1215.7" r="4.7"/><circle cx="778.6" cy="1236.8" r="4.7"/><circle cx="790.9" cy="1286.5" r="4.7"/><circle cx="809.3" cy="1303" r="4.7"/><circle cx="829.5" cy="1288.3" r="4.7"/>
</g>
<g fill="#ff0000">
<circle cx="83.1" cy="1461.4" r="4.7"/><circle cx="85.1" cy="1456.4" r="4.7"/><circle cx="87.4" cy="1439.2" r="4.7"/><circle cx="89.8" cy="1436.5" r="4.7"/><circle cx="91.2" cy="1431.1" r="4.7"/><circle cx="93.4" cy="1421.7" r="4.7"/><circle cx="95.5" cy="1417.7" r="4.7"/><circle cx="97.6" cy="1411.6" r="4.7"/><circle cx="100" cy="1417" r="4.7"/><circle cx="101.9" cy="1429.1" r="4.7"/><circle cx="106" cy="1438.5" r="4.7"/><circle cx="106.6" cy="1421.4" r="4.7"/><circle cx="110.4" cy="1419.9" r="4.7"/><circle cx="111.8" cy="1431.1" r="4.7"/><circle cx="113.8" cy="1419" r="4.7"/><circle cx="116.1" cy="1418.3" r="4.7"/><circle cx="119.4" cy="1429.1" r="4.7"/><circle cx="122.4" cy="1432.5" r="4.7"/><circle cx="124.2" cy="1421.7" r="4.7"/><circle cx="126.8" cy="1421" r="4.7"/><circle cx="128.9" cy="1390" r="4.7"/><circle cx="130.9" cy="1394.8" r="4.7"/><circle cx="132.9" cy="1398.8" r="4.7"/><circle cx="134.9" cy="1404.2" r="4.7"/><circle cx="137.6" cy="1384.7" r="4.7"/><circle cx="140.3" cy="1373.9" r="4.7"/><circle cx="143" cy="1374.6" r="4.7"/><circle cx="146" cy="1364.5" r="4.7"/><circle cx="149.1" cy="1364.5" r="4.7"/><circle cx="151.4" cy="1379.5" r="4.7"/><circle cx="157.1" cy="1387.4" r="4.7"/><circle cx="154.4" cy="1392.1" r="4.7"/><circle cx="153.1" cy="1394.1" r="4.7"/><circle cx="158.8" cy="1397.2" r="4.7"/><circle cx="160.1" cy="1407.1" r="4.7"/><circle cx="161.2" cy="1415.6" r="4.7"/><circle cx="163.2" cy="1419" r="4.7"/><circle cx="164.5" cy="1426.4" r="4.7"/><circle cx="170.3" cy="1428.4" r="4.7"/><circle cx="167.9" cy="1435.8" r="4.7"/><circle cx="172.6" cy="1419" r="4.7"/><circle cx="177.3" cy="1419.4" r="4.7"/><circle cx="180" cy="1419.4" r="4.7"/><circle cx="184.1" cy="1417" r="4.7"/><circle cx="181.7" cy="1407.8" r="4.7"/><circle cx="186.8" cy="1406.9" r="4.7"/><circle cx="188.8" cy="1402.2" r="4.7"/><circle cx="191.1" cy="1393.4" r="4.7"/><circle cx="194.8" cy="1409.6" r="4.7"/><circle cx="197.5" cy="1414.3" r="4.7"/><circle cx="199.6" cy="1423.7" r="4.7"/><circle cx="200.2" cy="1425.7" r="4.7"/><circle cx="200.6" cy="1435.2" r="4.7"/><circle cx="201.6" cy="1448" r="4.7"/><circle cx="204.3" cy="1452" r="4.7"/><circle cx="206.3" cy="1445.9" r="4.7"/><circle cx="208.7" cy="1442.6" r="4.7"/><circle cx="211.7" cy="1451.3" r="4.7"/><circle cx="212.4" cy="1445.9" r="4.7"/><circle cx="215" cy="1443.9" r="4.7"/><circle cx="218.4" cy="1436.5" r="4.7"/><circle cx="222.7" cy="1430.2" r="4.7"/><circle cx="227.2" cy="1439.9" r="4.7"/><circle cx="231.9" cy="1417" r="4.7"/><circle cx="236.2" cy="1410.9" r="4.7"/><circle cx="241.3" cy="1402.8" r="4.7"/><circle cx="246.3" cy="1408.2" r="4.7"/><circle cx="250.7" cy="1393.4" r="4.7"/><circle cx="255.4" cy="1396.1" r="4.7"/><circle cx="259.5" cy="1384.7" r="4.7"/><circle cx="263.8" cy="1390" r="4.7"/><circle cx="269.2" cy="1386" r="4.7"/><circle cx="275.6" cy="1402.8" r="4.7"/><circle cx="282.8" cy="1405.1" r="4.7"/><circle cx="290.1" cy="1404.5" r="4.7"/><circle cx="298.1" cy="1389.4" r="4.7"/><circle cx="306.4" cy="1394.7" r="4.7"/><circle cx="315.4" cy="1387.7" r="4.7"/><circle cx="324.9" cy="1395.1" r="4.7"/><circle cx="334.7" cy="1389.8" r="4.7"/><circle cx="344.7" cy="1389.8" r="4.7"/><circle cx="353.9" cy="1375.4" r="4.7"/><circle cx="363.9" cy="1366.3" r="4.7"/><circle cx="374.6" cy="1360.8" r="4.7"/><circle cx="386.5" cy="1358.7" r="4.7"/><circle cx="400" cy="1354.7" r="4.7"/><circle cx="412.7" cy="1362" r="4.7"/><circle cx="423.8" cy="1359.1" r="4.7"/><circle cx="434.6" cy="1367.8" r="4.7"/><circle cx="446.9" cy="1364.9" r="4.7"/><circle cx="459.6" cy="1360.5" r="4.7"/><circle cx="471.4" cy="1369.1" r="4.7"/><circle cx="482.8" cy="1370" r="4.7"/><circle cx="495.8" cy="1369.4" r="4.7"/><circle cx="510.4" cy="1378.4" r="4.7"/><circle cx="523.9" cy="1367.5" r="4.7"/><circle cx="535.5" cy="1362.7" r="4.7"/><circle cx="545.7" cy="1359.2" r="4.7"/><circle cx="552.7" cy="1358.2" r="4.7"/><circle cx="559.9" cy="1362.2" r="4.7"/><circle cx="568.1" cy="1358.2" r="4.7"/><circle cx="578" cy="1357.8" r="4.7"/><circle cx="587.5" cy="1355.7" r="4.7"/><circle cx="596.6" cy="1346.2" r="4.7"/><circle cx="608.6" cy="1347.5" r="4.7"/><circle cx="620.2" cy="1345.9" r="4.7"/><circle cx="628.1" cy="1338.3" r="4.7"/><circle cx="636.2" cy="1327.8" r="4.7"/><circle cx="647" cy="1324.5" r="4.7"/><circle cx="657.9" cy="1312.9" r="4.7"/><circle cx="668.8" cy="1314.3" r="4.7"/><circle cx="679.4" cy="1309" r="4.7"/><circle cx="690.4" cy="1308.1" r="4.7"/><circle cx="700.6" cy="1303.9" r="4.7"/><circle cx="710.5" cy="1302.2" r="4.7"/><circle cx="721.5" cy="1290.4" r="4.7"/><circle cx="732.4" cy="1283.7" r="4.7"/><circle cx="744.5" cy="1280.7" r="4.7"/><circle cx="753.7" cy="1287.4" r="4.7"/><circle cx="768.4" cy="1282.5" r="4.7"/>
</g>
<line x1="83" y1="1432.3" x2="767.5" y2="1304.5" stroke="#000" stroke-width="5.2" stroke-linecap="round"/>
<g fill="#0000ff">
<circle cx="197.8" cy="1599" r="4.7"/><circle cx="215" cy="1635.4" r="4.7"/><circle cx="109.6" cy="1645.2" r="4.7"/><circle cx="124.8" cy="1649" r="4.7"/><circle cx="200.6" cy="1647" r="4.7"/><circle cx="191.2" cy="1656.5" r="4.7"/><circle cx="211.7" cy="1656.7" r="4.7"/><circle cx="250.7" cy="1653.8" r="4.7"/><circle cx="104.1" cy="1676.3" r="4.7"/><circle cx="128.9" cy="1676.7" r="4.7"/><circle cx="172.6" cy="1688.5" r="4.7"/><circle cx="259.5" cy="1691.1" r="4.7"/><circle cx="157" cy="1701.7" r="4.7"/><circle cx="193.5" cy="1703.5" r="4.7"/><circle cx="199.2" cy="1706" r="4.7"/><circle cx="111.9" cy="1708.8" r="4.7"/><circle cx="140" cy="1713.4" r="4.7"/><circle cx="120.4" cy="1722.3" r="4.7"/><circle cx="205.4" cy="1721.9" r="4.7"/><circle cx="218.5" cy="1722.3" r="4.7"/><circle cx="263.8" cy="1720.2" r="4.7"/><circle cx="290.1" cy="1724" r="4.7"/><circle cx="202.3" cy="1729" r="4.7"/><circle cx="148.7" cy="1733.6" r="4.7"/><circle cx="108.3" cy="1740" r="4.7"/><circle cx="110.7" cy="1743.8" r="4.7"/><circle cx="236.2" cy="1745.1" r="4.7"/><circle cx="153.1" cy="1749.5" r="4.7"/><circle cx="158.5" cy="1748.9" r="4.7"/><circle cx="203.6" cy="1755.2" r="4.7"/><circle cx="89.3" cy="1758.2" r="4.7"/><circle cx="130.9" cy="1757" r="4.7"/><circle cx="135.2" cy="1757" r="4.7"/><circle cx="298.1" cy="1754.8" r="4.7"/><circle cx="245.3" cy="1757.9" r="4.7"/><circle cx="97.9" cy="1764" r="4.7"/><circle cx="167.9" cy="1763.1" r="4.7"/><circle cx="222.7" cy="1761.6" r="4.7"/><circle cx="254.5" cy="1766.3" r="4.7"/><circle cx="137.9" cy="1770.2" r="4.7"/><circle cx="151.4" cy="1772.8" r="4.7"/><circle cx="93.4" cy="1779.1" r="4.7"/><circle cx="241.3" cy="1777.5" r="4.7"/><circle cx="177.6" cy="1781.9" r="4.7"/><circle cx="195.5" cy="1788" r="4.7"/><circle cx="231.9" cy="1791.2" r="4.7"/><circle cx="161.6" cy="1794" r="4.7"/><circle cx="227.2" cy="1797.9" r="4.7"/><circle cx="118.1" cy="1801.7" r="4.7"/><circle cx="126.8" cy="1803.3" r="4.7"/><circle cx="184.1" cy="1816.7" r="4.7"/><circle cx="109.3" cy="1828.6" r="4.7"/><circle cx="109.7" cy="1832.7" r="4.7"/><circle cx="106.6" cy="1836.7" r="4.7"/><circle cx="199.6" cy="1835.4" r="4.7"/><circle cx="202.3" cy="1836.7" r="4.7"/><circle cx="275.6" cy="1835.4" r="4.7"/><circle cx="188.8" cy="1845.1" r="4.7"/><circle cx="282.8" cy="1844.8" r="4.7"/><circle cx="95.5" cy="1868.1" r="4.7"/><circle cx="165.4" cy="1869.3" r="4.7"/><circle cx="113.8" cy="1876.3" r="4.7"/><circle cx="163.3" cy="1883.2" r="4.7"/><circle cx="269.2" cy="1881.2" r="4.7"/><circle cx="306.4" cy="1790.9" r="4.7"/><circle cx="315.4" cy="1774.9" r="4.7"/><circle cx="334.7" cy="1616.9" r="4.7"/><circle cx="344.7" cy="1782.1" r="4.7"/><circle cx="353.9" cy="1739.6" r="4.7"/><circle cx="363.9" cy="1763.5" r="4.7"/><circle cx="374.6" cy="1693.3" r="4.7"/><circle cx="386.5" cy="1810.4" r="4.7"/><circle cx="400" cy="1886.1" r="4.7"/><circle cx="412.7" cy="1741.7" r="4.7"/><circle cx="423.8" cy="1596.5" r="4.7"/><circle cx="434.6" cy="1832.7" r="4.7"/><circle cx="446.9" cy="1652.7" r="4.7"/><circle cx="459.6" cy="1676.2" r="4.7"/><circle cx="471.4" cy="1846.4" r="4.7"/><circle cx="482.8" cy="1662.3" r="4.7"/><circle cx="510.4" cy="1697.8" r="4.7"/><circle cx="523.9" cy="1846.6" r="4.7"/><circle cx="535.5" cy="1618.4" r="4.7"/><circle cx="545.7" cy="1655.3" r="4.7"/><circle cx="552.7" cy="1708.5" r="4.7"/><circle cx="559.9" cy="1795.7" r="4.7"/><circle cx="568.1" cy="1686.4" r="4.7"/><circle cx="578" cy="1746.8" r="4.7"/><circle cx="587.5" cy="1912.1" r="4.7"/><circle cx="596.6" cy="1719.6" r="4.7"/><circle cx="628.1" cy="1643.7" r="4.7"/><circle cx="647" cy="1643" r="4.7"/><circle cx="657.9" cy="1682.5" r="4.7"/><circle cx="668.8" cy="1704.3" r="4.7"/><circle cx="679.4" cy="1576.8" r="4.7"/><circle cx="700.6" cy="1627.6" r="4.7"/><circle cx="710.5" cy="1805" r="4.7"/><circle cx="721.5" cy="1750.9" r="4.7"/><circle cx="744.5" cy="1614.7" r="4.7"/><circle cx="768.4" cy="1808" r="4.7"/><circle cx="778.6" cy="1879.1" r="4.7"/><circle cx="790.9" cy="1555" r="4.7"/><circle cx="829.5" cy="1633" r="4.7"/><circle cx="133" cy="1899.7" r="4.7"/><circle cx="122.6" cy="1909.7" r="4.7"/><circle cx="100.1" cy="1914.6" r="4.7"/><circle cx="186.5" cy="1906.5" r="4.7"/><circle cx="208.8" cy="1916.4" r="4.7"/><circle cx="170.4" cy="1921.3" r="4.7"/><circle cx="155.8" cy="1578.4" r="4.7"/>
</g>
<g fill="#ff0000">
<circle cx="108.3" cy="1760.6" r="4.7"/><circle cx="106.6" cy="1812.1" r="4.7"/><circle cx="105.3" cy="1825.3" r="4.7"/><circle cx="104" cy="1829.3" r="4.7"/><circle cx="101.9" cy="1833.3" r="4.7"/><circle cx="97.9" cy="1842.5" r="4.7"/><circle cx="100" cy="1850.9" r="4.7"/><circle cx="108.3" cy="1782.2" r="4.7"/><circle cx="111.4" cy="1778.8" r="4.7"/><circle cx="113.8" cy="1778.1" r="4.7"/><circle cx="116.1" cy="1777.9" r="4.7"/><circle cx="107.3" cy="1793" r="4.7"/><circle cx="110.7" cy="1791.9" r="4.7"/><circle cx="120.4" cy="1788.2" r="4.7"/><circle cx="114.1" cy="1798.6" r="4.7"/><circle cx="124.8" cy="1797" r="4.7"/><circle cx="126.8" cy="1774.8" r="4.7"/><circle cx="128.9" cy="1771.4" r="4.7"/><circle cx="130.9" cy="1770.1" r="4.7"/><circle cx="133.2" cy="1772.8" r="4.7"/><circle cx="137.6" cy="1808.4" r="4.7"/><circle cx="135.2" cy="1816.5" r="4.7"/><circle cx="140" cy="1819.6" r="4.7"/><circle cx="143.7" cy="1818.8" r="4.7"/><circle cx="146" cy="1782.4" r="4.7"/><circle cx="148.7" cy="1776.8" r="4.7"/><circle cx="151.4" cy="1774.1" r="4.7"/><circle cx="153.5" cy="1798.1" r="4.7"/><circle cx="155.8" cy="1781.5" r="4.7"/><circle cx="157" cy="1765.3" r="4.7"/><circle cx="160.1" cy="1778.8" r="4.7"/><circle cx="161.9" cy="1798.6" r="4.7"/><circle cx="163.3" cy="1811" r="4.7"/><circle cx="165.2" cy="1778.8" r="4.7"/><circle cx="167.9" cy="1783.5" r="4.7"/><circle cx="170.3" cy="1766.7" r="4.7"/><circle cx="172.6" cy="1760" r="4.7"/><circle cx="174.9" cy="1752.6" r="4.7"/><circle cx="177.6" cy="1757.3" r="4.7"/><circle cx="179.4" cy="1766.4" r="4.7"/><circle cx="181.7" cy="1736.4" r="4.7"/><circle cx="184.7" cy="1738.4" r="4.7"/><circle cx="186.8" cy="1780.6" r="4.7"/><circle cx="188.8" cy="1759" r="4.7"/><circle cx="191.2" cy="1751.2" r="4.7"/><circle cx="193.5" cy="1762" r="4.7"/><circle cx="195.5" cy="1743.1" r="4.7"/><circle cx="197.5" cy="1735" r="4.7"/><circle cx="199.2" cy="1722.3" r="4.7"/><circle cx="201.6" cy="1734.4" r="4.7"/><circle cx="200.9" cy="1742" r="4.7"/><circle cx="200" cy="1780.8" r="4.7"/><circle cx="202.3" cy="1804.4" r="4.7"/><circle cx="203.6" cy="1784.2" r="4.7"/><circle cx="205.4" cy="1782.4" r="4.7"/><circle cx="207" cy="1770.1" r="4.7"/><circle cx="209.7" cy="1774.8" r="4.7"/><circle cx="212.4" cy="1776.8" r="4.7"/><circle cx="215" cy="1779.5" r="4.7"/><circle cx="218.5" cy="1782.4" r="4.7"/><circle cx="222.7" cy="1755.9" r="4.7"/><circle cx="227.2" cy="1738.4" r="4.7"/><circle cx="231.9" cy="1737.7" r="4.7"/><circle cx="236.2" cy="1752.6" r="4.7"/><circle cx="241.3" cy="1748.5" r="4.7"/><circle cx="246" cy="1744.5" r="4.7"/><circle cx="250.7" cy="1753.9" r="4.7"/><circle cx="254.5" cy="1759.3" r="4.7"/><circle cx="259.5" cy="1770.1" r="4.7"/><circle cx="263.8" cy="1764" r="4.7"/><circle cx="269.2" cy="1763.7" r="4.7"/><circle cx="275.6" cy="1778.8" r="4.7"/><circle cx="282.8" cy="1779.8" r="4.7"/><circle cx="290.1" cy="1806.4" r="4.7"/><circle cx="298.1" cy="1794.7" r="4.7"/><circle cx="306.4" cy="1783.4" r="4.7"/><circle cx="315.4" cy="1772.8" r="4.7"/><circle cx="324.9" cy="1763.7" r="4.7"/><circle cx="334.7" cy="1760.5" r="4.7"/><circle cx="344.7" cy="1766.7" r="4.7"/><circle cx="353.9" cy="1777.2" r="4.7"/><circle cx="363.9" cy="1773.5" r="4.7"/><circle cx="374.6" cy="1736.8" r="4.7"/><circle cx="386.5" cy="1760.7" r="4.7"/><circle cx="400" cy="1746.3" r="4.7"/><circle cx="412.7" cy="1738.9" r="4.7"/><circle cx="423.8" cy="1748.2" r="4.7"/><circle cx="434.6" cy="1744.7" r="4.7"/><circle cx="446.9" cy="1701.2" r="4.7"/><circle cx="459.6" cy="1680.1" r="4.7"/><circle cx="471.4" cy="1692" r="4.7"/><circle cx="482.8" cy="1694.1" r="4.7"/><circle cx="495.8" cy="1674.5" r="4.7"/><circle cx="510.4" cy="1680.8" r="4.7"/><circle cx="523.9" cy="1694.1" r="4.7"/><circle cx="535.5" cy="1676.4" r="4.7"/><circle cx="545.7" cy="1686.4" r="4.7"/><circle cx="552.7" cy="1740.9" r="4.7"/><circle cx="559.9" cy="1743.1" r="4.7"/><circle cx="568.1" cy="1694.1" r="4.7"/><circle cx="578" cy="1684.1" r="4.7"/><circle cx="587.5" cy="1682.9" r="4.7"/><circle cx="596.6" cy="1664.3" r="4.7"/><circle cx="608.6" cy="1647.6" r="4.7"/><circle cx="620.2" cy="1646.9" r="4.7"/><circle cx="628.1" cy="1642.5" r="4.7"/><circle cx="636.2" cy="1605.1" r="4.7"/><circle cx="647" cy="1576.8" r="4.7"/><circle cx="657.9" cy="1601.7" r="4.7"/><circle cx="668.8" cy="1632.5" r="4.7"/><circle cx="679.4" cy="1644.3" r="4.7"/><circle cx="690.4" cy="1643.7" r="4.7"/><circle cx="700.6" cy="1639.7" r="4.7"/><circle cx="710.5" cy="1611.4" r="4.7"/><circle cx="721.5" cy="1623.2" r="4.7"/><circle cx="732.4" cy="1656.7" r="4.7"/><circle cx="744.5" cy="1666.6" r="4.7"/><circle cx="753.7" cy="1650" r="4.7"/><circle cx="768.4" cy="1630.9" r="4.7"/>
</g>
<line x1="83" y1="1804.2" x2="767.5" y2="1626.2" stroke="#000" stroke-width="5.2" stroke-linecap="round"/>
<g fill="#0000ff">
<circle cx="177.3" cy="2025.1" r="4.7"/><circle cx="200.2" cy="2026.2" r="4.7"/><circle cx="135.2" cy="2031" r="4.7"/><circle cx="172.6" cy="2034.7" r="4.7"/><circle cx="236.2" cy="2041.7" r="4.7"/><circle cx="137.6" cy="2044.2" r="4.7"/><circle cx="200.6" cy="2047" r="4.7"/><circle cx="163.3" cy="2056.2" r="4.7"/><circle cx="170.6" cy="2056.2" r="4.7"/><circle cx="109.6" cy="2059.4" r="4.7"/><circle cx="120.4" cy="2065" r="4.7"/><circle cx="246" cy="2061.5" r="4.7"/><circle cx="151.4" cy="2066.8" r="4.7"/><circle cx="165.4" cy="2067.7" r="4.7"/><circle cx="201.3" cy="2067.8" r="4.7"/><circle cx="298.1" cy="2062.5" r="4.7"/><circle cx="211.7" cy="2073.2" r="4.7"/><circle cx="250.7" cy="2077.5" r="4.7"/><circle cx="282.8" cy="2079.2" r="4.7"/><circle cx="290.1" cy="2077.6" r="4.7"/><circle cx="215.3" cy="2081.7" r="4.7"/><circle cx="208.3" cy="2085.7" r="4.7"/><circle cx="269.2" cy="2084.6" r="4.7"/><circle cx="153.5" cy="2087.3" r="4.7"/><circle cx="231.9" cy="2093.1" r="4.7"/><circle cx="106.4" cy="2097.8" r="4.7"/><circle cx="161.2" cy="2096.5" r="4.7"/><circle cx="179.4" cy="2100.1" r="4.7"/><circle cx="194.8" cy="2099.2" r="4.7"/><circle cx="259.5" cy="2099" r="4.7"/><circle cx="193.5" cy="2103.2" r="4.7"/><circle cx="157.1" cy="2107" r="4.7"/><circle cx="167.9" cy="2106.6" r="4.7"/><circle cx="111.8" cy="2108.9" r="4.7"/><circle cx="110.4" cy="2115.3" r="4.7"/><circle cx="132.9" cy="2120" r="4.7"/><circle cx="202.3" cy="2114.6" r="4.7"/><circle cx="203.6" cy="2122.1" r="4.7"/><circle cx="140" cy="2130.8" r="4.7"/><circle cx="158.5" cy="2132.8" r="4.7"/><circle cx="202.3" cy="2131.5" r="4.7"/><circle cx="241.3" cy="2136.6" r="4.7"/><circle cx="155.5" cy="2141.6" r="4.7"/><circle cx="107.3" cy="2144.9" r="4.7"/><circle cx="113.8" cy="2151.7" r="4.7"/><circle cx="184.1" cy="2151.3" r="4.7"/><circle cx="148.8" cy="2155.7" r="4.7"/><circle cx="191.5" cy="2155.7" r="4.7"/><circle cx="181.4" cy="2158.4" r="4.7"/><circle cx="142.3" cy="2160.2" r="4.7"/><circle cx="91.4" cy="2161.8" r="4.7"/><circle cx="105.3" cy="2160.2" r="4.7"/><circle cx="115.4" cy="2162.2" r="4.7"/><circle cx="118.1" cy="2164.5" r="4.7"/><circle cx="146" cy="2164.9" r="4.7"/><circle cx="197.5" cy="2163.8" r="4.7"/><circle cx="255.4" cy="2158.4" r="4.7"/><circle cx="275.6" cy="2162.7" r="4.7"/><circle cx="82.4" cy="2172.1" r="4.7"/><circle cx="174.9" cy="2179.6" r="4.7"/><circle cx="84.2" cy="2183.3" r="4.7"/><circle cx="222.7" cy="2184.1" r="4.7"/><circle cx="97.6" cy="2189.4" r="4.7"/><circle cx="122.1" cy="2187.1" r="4.7"/><circle cx="126.8" cy="2189.8" r="4.7"/><circle cx="188.8" cy="2189.8" r="4.7"/><circle cx="128.9" cy="2197.5" r="4.7"/><circle cx="263.8" cy="2198.5" r="4.7"/><circle cx="124.8" cy="2203.5" r="4.7"/><circle cx="227.2" cy="2205.5" r="4.7"/><circle cx="100.6" cy="2221.7" r="4.7"/><circle cx="81.1" cy="2228.4" r="4.7"/><circle cx="93.4" cy="2236.5" r="4.7"/><circle cx="160.1" cy="2232.9" r="4.7"/><circle cx="130.6" cy="2241.8" r="4.7"/><circle cx="89.3" cy="2245.5" r="4.7"/><circle cx="101.9" cy="2243.9" r="4.7"/><circle cx="104.1" cy="2247.3" r="4.7"/><circle cx="108.3" cy="2267.5" r="4.7"/><circle cx="87.4" cy="2269.5" r="4.7"/><circle cx="85.8" cy="2276.6" r="4.7"/><circle cx="306.4" cy="2068.6" r="4.7"/><circle cx="315.4" cy="2129.6" r="4.7"/><circle cx="324.9" cy="2088.5" r="4.7"/><circle cx="334.7" cy="2138.3" r="4.7"/><circle cx="344.7" cy="2122.4" r="4.7"/><circle cx="353.9" cy="2085.1" r="4.7"/><circle cx="363.9" cy="2162.2" r="4.7"/><circle cx="374.6" cy="2053.2" r="4.7"/><circle cx="386.5" cy="2116.6" r="4.7"/><circle cx="400" cy="2095.1" r="4.7"/><circle cx="412.7" cy="2016.1" r="4.7"/><circle cx="423.8" cy="2055.6" r="4.7"/><circle cx="434.6" cy="2035.6" r="4.7"/><circle cx="446.9" cy="2119.5" r="4.7"/><circle cx="459.6" cy="2147.3" r="4.7"/><circle cx="471.4" cy="2035.4" r="4.7"/><circle cx="482.8" cy="2030.1" r="4.7"/><circle cx="495.8" cy="2075.5" r="4.7"/><circle cx="510.4" cy="2160.5" r="4.7"/><circle cx="523.9" cy="2017" r="4.7"/><circle cx="535.5" cy="2089.9" r="4.7"/><circle cx="545.7" cy="2053.3" r="4.7"/><circle cx="552.7" cy="2102.3" r="4.7"/><circle cx="559.9" cy="2083.5" r="4.7"/><circle cx="568.1" cy="2027" r="4.7"/><circle cx="578" cy="2090.7" r="4.7"/><circle cx="587.5" cy="2048.6" r="4.7"/><circle cx="596.6" cy="1985.9" r="4.7"/><circle cx="608.6" cy="2099.9" r="4.7"/><circle cx="620.2" cy="2073.4" r="4.7"/><circle cx="628.1" cy="2074.4" r="4.7"/><circle cx="636.2" cy="1975.7" r="4.7"/><circle cx="647" cy="2026.1" r="4.7"/><circle cx="657.9" cy="2089.5" r="4.7"/><circle cx="668.8" cy="2027.5" r="4.7"/><circle cx="679.4" cy="2052.4" r="4.7"/><circle cx="690.4" cy="1997.6" r="4.7"/><circle cx="700.6" cy="2124.1" r="4.7"/><circle cx="710.5" cy="1992.7" r="4.7"/><circle cx="721.5" cy="2045.1" r="4.7"/><circle cx="732.4" cy="2057.9" r="4.7"/><circle cx="744.5" cy="2064.4" r="4.7"/><circle cx="753.7" cy="1979.9" r="4.7"/><circle cx="768.4" cy="2068.3" r="4.7"/><circle cx="778.6" cy="2006.8" r="4.7"/><circle cx="790.9" cy="2004.3" r="4.7"/><circle cx="809.3" cy="2096.5" r="4.7"/><circle cx="829.5" cy="1947.6" r="4.7"/>
</g>
<g fill="#ff0000">
<circle cx="84.4" cy="2212.3" r="4.7"/><circle cx="87.1" cy="2221" r="4.7"/><circle cx="89.8" cy="2218.3" r="4.7"/><circle cx="91.8" cy="2223.1" r="4.7"/><circle cx="93.9" cy="2229.1" r="4.7"/><circle cx="96.5" cy="2226.4" r="4.7"/><circle cx="97.9" cy="2214.3" r="4.7"/><circle cx="100" cy="2197.9" r="4.7"/><circle cx="104.1" cy="2199.8" r="4.7"/><circle cx="105.3" cy="2191.4" r="4.7"/><circle cx="106.6" cy="2177.3" r="4.7"/><circle cx="107.6" cy="2165.1" r="4.7"/><circle cx="108.3" cy="2151" r="4.7"/><circle cx="108.3" cy="2139.2" r="4.7"/><circle cx="111.4" cy="2136.9" r="4.7"/><circle cx="113.8" cy="2128.8" r="4.7"/><circle cx="116.1" cy="2135.1" r="4.7"/><circle cx="118.1" cy="2150.1" r="4.7"/><circle cx="120.4" cy="2159.1" r="4.7"/><circle cx="122.8" cy="2173.2" r="4.7"/><circle cx="124.8" cy="2169.9" r="4.7"/><circle cx="126.8" cy="2155.7" r="4.7"/><circle cx="128.9" cy="2141.6" r="4.7"/><circle cx="130.9" cy="2149.7" r="4.7"/><circle cx="133.6" cy="2146.3" r="4.7"/><circle cx="136.9" cy="2138.2" r="4.7"/><circle cx="140" cy="2124.1" r="4.7"/><circle cx="143" cy="2106.6" r="4.7"/><circle cx="146.4" cy="2108.9" r="4.7"/><circle cx="148.7" cy="2118" r="4.7"/><circle cx="151.4" cy="2127.4" r="4.7"/><circle cx="153.5" cy="2140.2" r="4.7"/><circle cx="155.5" cy="2131.5" r="4.7"/><circle cx="157.1" cy="2120" r="4.7"/><circle cx="158.5" cy="2109.3" r="4.7"/><circle cx="161.2" cy="2114.6" r="4.7"/><circle cx="163.3" cy="2099.2" r="4.7"/><circle cx="165.4" cy="2107.2" r="4.7"/><circle cx="167.9" cy="2095.1" r="4.7"/><circle cx="170.3" cy="2080.6" r="4.7"/><circle cx="172.6" cy="2087.3" r="4.7"/><circle cx="175.3" cy="2097.4" r="4.7"/><circle cx="177.6" cy="2105" r="4.7"/><circle cx="179.6" cy="2114.4" r="4.7"/><circle cx="181.4" cy="2125.4" r="4.7"/><circle cx="184.7" cy="2135.5" r="4.7"/><circle cx="186.8" cy="2124.1" r="4.7"/><circle cx="188.8" cy="2139.6" r="4.7"/><circle cx="191.5" cy="2140.9" r="4.7"/><circle cx="193.5" cy="2126.1" r="4.7"/><circle cx="195.5" cy="2114.6" r="4.7"/><circle cx="197.5" cy="2107.9" r="4.7"/><circle cx="199.6" cy="2099.2" r="4.7"/><circle cx="202.3" cy="2088" r="4.7"/><circle cx="202.9" cy="2093.1" r="4.7"/><circle cx="205.4" cy="2096.5" r="4.7"/><circle cx="207.6" cy="2102.5" r="4.7"/><circle cx="209.7" cy="2109.9" r="4.7"/><circle cx="211.7" cy="2118" r="4.7"/><circle cx="215" cy="2114.6" r="4.7"/><circle cx="218.4" cy="2107.2" r="4.7"/><circle cx="222.7" cy="2112.6" r="4.7"/><circle cx="227.2" cy="2109.9" r="4.7"/><circle cx="231.9" cy="2110.9" r="4.7"/><circle cx="236.2" cy="2118.7" r="4.7"/><circle cx="241.3" cy="2117.3" r="4.7"/><circle cx="246" cy="2119.4" r="4.7"/><circle cx="250.7" cy="2105.6" r="4.7"/><circle cx="255.4" cy="2112.9" r="4.7"/><circle cx="259.5" cy="2118" r="4.7"/><circle cx="263.8" cy="2110.6" r="4.7"/><circle cx="269.2" cy="2110.6" r="4.7"/><circle cx="275.6" cy="2109.9" r="4.7"/><circle cx="282.8" cy="2107" r="4.7"/><circle cx="290.1" cy="2105.5" r="4.7"/><circle cx="298.1" cy="2098.9" r="4.7"/><circle cx="306.4" cy="2103" r="4.7"/><circle cx="315.4" cy="2094.6" r="4.7"/><circle cx="324.9" cy="2103.9" r="4.7"/><circle cx="334.7" cy="2100.9" r="4.7"/><circle cx="344.7" cy="2107.1" r="4.7"/><circle cx="353.9" cy="2110.1" r="4.7"/><circle cx="363.9" cy="2097.4" r="4.7"/><circle cx="374.6" cy="2093.7" r="4.7"/><circle cx="386.5" cy="2082.3" r="4.7"/><circle cx="400" cy="2082.1" r="4.7"/><circle cx="412.7" cy="2089" r="4.7"/><circle cx="423.8" cy="2074.9" r="4.7"/><circle cx="434.6" cy="2072.6" r="4.7"/><circle cx="446.9" cy="2068.1" r="4.7"/><circle cx="459.6" cy="2074.9" r="4.7"/><circle cx="471.4" cy="2075.3" r="4.7"/><circle cx="482.8" cy="2079" r="4.7"/><circle cx="495.8" cy="2081.1" r="4.7"/><circle cx="510.4" cy="2079" r="4.7"/><circle cx="523.9" cy="2072.3" r="4.7"/><circle cx="535.5" cy="2070.9" r="4.7"/><circle cx="545.7" cy="2077.9" r="4.7"/><circle cx="552.7" cy="2074.4" r="4.7"/><circle cx="559.9" cy="2054.7" r="4.7"/><circle cx="568.1" cy="2064.4" r="4.7"/><circle cx="578" cy="2063" r="4.7"/><circle cx="587.5" cy="2064.9" r="4.7"/><circle cx="596.6" cy="2050.7" r="4.7"/><circle cx="608.6" cy="2044.5" r="4.7"/><circle cx="620.2" cy="2051.7" r="4.7"/><circle cx="628.1" cy="2044.5" r="4.7"/><circle cx="636.2" cy="2044.7" r="4.7"/><circle cx="647" cy="2046.5" r="4.7"/><circle cx="657.9" cy="2048.9" r="4.7"/><circle cx="668.8" cy="2039.8" r="4.7"/><circle cx="679.4" cy="2036.3" r="4.7"/><circle cx="690.4" cy="2045.6" r="4.7"/><circle cx="700.6" cy="2049.8" r="4.7"/><circle cx="710.5" cy="2038" r="4.7"/><circle cx="721.5" cy="2042.4" r="4.7"/><circle cx="732.4" cy="2037.7" r="4.7"/><circle cx="744.5" cy="2038" r="4.7"/><circle cx="753.7" cy="2034.9" r="4.7"/><circle cx="768.4" cy="2030" r="4.7"/>
</g>
<line x1="83" y1="2151.2" x2="767.5" y2="2018.8" stroke="#000" stroke-width="5.2" stroke-linecap="round"/>
<g stroke="#000" fill="none">
<path stroke-width="3" d="M80.8 46.9V2298.7M831.4 46.9V2298.7M61.5 46.9H850.6M61.5 2298.7H850.6" stroke-linecap="round"/>
<path stroke-width="3" stroke-linecap="round" d="M61.5 140.72H80.8M831.4 140.72H850.6M61.5 234.55H80.8M831.4 234.55H850.6M61.5 328.38H80.8M831.4 328.38H850.6M61.5 422.20H80.8M831.4 422.20H850.6M61.5 484.75H80.8M831.4 484.75H850.6M61.5 547.30H80.8M831.4 547.30H850.6M61.5 609.85H80.8M831.4 609.85H850.6M61.5 672.40H80.8M831.4 672.40H850.6M61.5 734.95H80.8M831.4 734.95H850.6M61.5 797.50H80.8M831.4 797.50H850.6M61.5 860.05H80.8M831.4 860.05H850.6M61.5 922.60H80.8M831.4 922.60H850.6M61.5 985.15H80.8M831.4 985.15H850.6M61.5 1047.70H80.8M831.4 1047.70H850.6M61.5 1110.25H80.8M831.4 1110.25H850.6M61.5 1172.80H80.8M831.4 1172.80H850.6M61.5 1235.35H80.8M831.4 1235.35H850.6M61.5 1297.90H80.8M831.4 1297.90H850.6M61.5 1360.45H80.8M831.4 1360.45H850.6M61.5 1423.00H80.8M831.4 1423.00H850.6M61.5 1485.55H80.8M831.4 1485.55H850.6M61.5 1548.10H80.8M831.4 1548.10H850.6M61.5 1610.65H80.8M831.4 1610.65H850.6M61.5 1673.20H80.8M831.4 1673.20H850.6M61.5 1735.75H80.8M831.4 1735.75H850.6M61.5 1798.30H80.8M831.4 1798.30H850.6M61.5 1860.85H80.8M831.4 1860.85H850.6M61.5 1923.40H80.8M831.4 1923.40H850.6M61.5 1985.95H80.8M831.4 1985.95H850.6M61.5 2048.50H80.8M831.4 2048.50H850.6M61.5 2111.05H80.8M831.4 2111.05H850.6M61.5 2173.60H80.8M831.4 2173.60H850.6M61.5 2236.15H80.8M831.4 2236.15H850.6M174.57 2298.7V2317.3M324.69 2298.7V2317.3M474.81 2298.7V2317.3M624.94 2298.7V2317.3M775.06 2298.7V2317.3"/>
<path stroke-width="1.9" stroke-linecap="round" d="M71 65.66H80.8M831.4 65.66H841.1M71 84.43H80.8M831.4 84.43H841.1M71 103.19H80.8M831.4 103.19H841.1M71 121.96H80.8M831.4 121.96H841.1M71 159.49H80.8M831.4 159.49H841.1M71 178.25H80.8M831.4 178.25H841.1M71 197.02H80.8M831.4 197.02H841.1M71 215.79H80.8M831.4 215.79H841.1M71 253.32H80.8M831.4 253.32H841.1M71 272.08H80.8M831.4 272.08H841.1M71 290.85H80.8M831.4 290.85H841.1M71 309.61H80.8M831.4 309.61H841.1M71 347.14H80.8M831.4 347.14H841.1M71 365.90H80.8M831.4 365.90H841.1M71 384.67H80.8M831.4 384.67H841.1M71 403.43H80.8M831.4 403.43H841.1M71 434.71H80.8M831.4 434.71H841.1M71 447.22H80.8M831.4 447.22H841.1M71 459.73H80.8M831.4 459.73H841.1M71 472.24H80.8M831.4 472.24H841.1M71 497.26H80.8M831.4 497.26H841.1M71 509.77H80.8M831.4 509.77H841.1M71 522.28H80.8M831.4 522.28H841.1M71 534.79H80.8M831.4 534.79H841.1M71 559.81H80.8M831.4 559.81H841.1M71 572.32H80.8M831.4 572.32H841.1M71 584.83H80.8M831.4 584.83H841.1M71 597.34H80.8M831.4 597.34H841.1M71 622.36H80.8M831.4 622.36H841.1M71 634.87H80.8M831.4 634.87H841.1M71 647.38H80.8M831.4 647.38H841.1M71 659.89H80.8M831.4 659.89H841.1M71 684.91H80.8M831.4 684.91H841.1M71 697.42H80.8M831.4 697.42H841.1M71 709.93H80.8M831.4 709.93H841.1M71 722.44H80.8M831.4 722.44H841.1M71 747.46H80.8M831.4 747.46H841.1M71 759.97H80.8M831.4 759.97H841.1M71 772.48H80.8M831.4 772.48H841.1M71 784.99H80.8M831.4 784.99H841.1M71 810.01H80.8M831.4 810.01H841.1M71 822.52H80.8M831.4 822.52H841.1M71 835.03H80.8M831.4 835.03H841.1M71 847.54H80.8M831.4 847.54H841.1M71 872.56H80.8M831.4 872.56H841.1M71 885.07H80.8M831.4 885.07H841.1M71 897.58H80.8M831.4 897.58H841.1M71 910.09H80.8M831.4 910.09H841.1M71 935.11H80.8M831.4 935.11H841.1M71 947.62H80.8M831.4 947.62H841.1M71 960.13H80.8M831.4 960.13H841.1M71 972.64H80.8M831.4 972.64H841.1M71 997.66H80.8M831.4 997.66H841.1M71 1010.17H80.8M831.4 1010.17H841.1M71 1022.68H80.8M831.4 1022.68H841.1M71 1035.19H80.8M831.4 1035.19H841.1M71 1060.21H80.8M831.4 1060.21H841.1M71 1072.72H80.8M831.4 1072.72H841.1M71 1085.23H80.8M831.4 1085.23H841.1M71 1097.74H80.8M831.4 1097.74H841.1M71 1122.76H80.8M831.4 1122.76H841.1M71 1135.27H80.8M831.4 1135.27H841.1M71 1147.78H80.8M831.4 1147.78H841.1M71 1160.29H80.8M831.4 1160.29H841.1M71 1185.31H80.8M831.4 1185.31H841.1M71 1197.82H80.8M831.4 1197.82H841.1M71 1210.33H80.8M831.4 1210.33H841.1M71 1222.84H80.8M831.4 1222.84H841.1M71 1247.86H80.8M831.4 1247.86H841.1M71 1260.37H80.8M831.4 1260.37H841.1M71 1272.88H80.8M831.4 1272.88H841.1M71 1285.39H80.8M831.4 1285.39H841.1M71 1310.41H80.8M831.4 1310.41H841.1M71 1322.92H80.8M831.4 1322.92H841.1M71 1335.43H80.8M831.4 1335.43H841.1M71 1347.94H80.8M831.4 1347.94H841.1M71 1372.96H80.8M831.4 1372.96H841.1M71 1385.47H80.8M831.4 1385.47H841.1M71 1397.98H80.8M831.4 1397.98H841.1M71 1410.49H80.8M831.4 1410.49H841.1M71 1435.51H80.8M831.4 1435.51H841.1M71 1448.02H80.8M831.4 1448.02H841.1M71 1460.53H80.8M831.4 1460.53H841.1M71 1473.04H80.8M831.4 1473.04H841.1M71 1498.06H80.8M831.4 1498.06H841.1M71 1510.57H80.8M831.4 1510.57H841.1M71 1523.08H80.8M831.4 1523.08H841.1M71 1535.59H80.8M831.4 1535.59H841.1M71 1560.61H80.8M831.4 1560.61H841.1M71 1573.12H80.8M831.4 1573.12H841.1M71 1585.63H80.8M831.4 1585.63H841.1M71 1598.14H80.8M831.4 1598.14H841.1M71 1623.16H80.8M831.4 1623.16H841.1M71 1635.67H80.8M831.4 1635.67H841.1M71 1648.18H80.8M831.4 1648.18H841.1M71 1660.69H80.8M831.4 1660.69H841.1M71 1685.71H80.8M831.4 1685.71H841.1M71 1698.22H80.8M831.4 1698.22H841.1M71 1710.73H80.8M831.4 1710.73H841.1M71 1723.24H80.8M831.4 1723.24H841.1M71 1748.26H80.8M831.4 1748.26H841.1M71 1760.77H80.8M831.4 1760.77H841.1M71 1773.28H80.8M831.4 1773.28H841.1M71 1785.79H80.8M831.4 1785.79H841.1M71 1810.81H80.8M831.4 1810.81H841.1M71 1823.32H80.8M831.4 1823.32H841.1M71 1835.83H80.8M831.4 1835.83H841.1M71 1848.34H80.8M831.4 1848.34H841.1M71 1873.36H80.8M831.4 1873.36H841.1M71 1885.87H80.8M831.4 1885.87H841.1M71 1898.38H80.8M831.4 1898.38H841.1M71 1910.89H80.8M831.4 1910.89H841.1M71 1935.91H80.8M831.4 1935.91H841.1M71 1948.42H80.8M831.4 1948.42H841.1M71 1960.93H80.8M831.4 1960.93H841.1M71 1973.44H80.8M831.4 1973.44H841.1M71 1998.46H80.8M831.4 1998.46H841.1M71 2010.97H80.8M831.4 2010.97H841.1M71 2023.48H80.8M831.4 2023.48H841.1M71 2035.99H80.8M831.4 2035.99H841.1M71 2061.01H80.8M831.4 2061.01H841.1M71 2073.52H80.8M831.4 2073.52H841.1M71 2086.03H80.8M831.4 2086.03H841.1M71 2098.54H80.8M831.4 2098.54H841.1M71 2123.56H80.8M831.4 2123.56H841.1M71 2136.07H80.8M831.4 2136.07H841.1M71 2148.58H80.8M831.4 2148.58H841.1M71 2161.09H80.8M831.4 2161.09H841.1M71 2186.11H80.8M831.4 2186.11H841.1M71 2198.62H80.8M831.4 2198.62H841.1M71 2211.13H80.8M831.4 2211.13H841.1M71 2223.64H80.8M831.4 2223.64H841.1M71 2248.66H80.8M831.4 2248.66H841.1M71 2261.17H80.8M831.4 2261.17H841.1M71 2273.68H80.8M831.4 2273.68H841.1M71 2286.19H80.8M831.4 2286.19H841.1M99.52 2298.7V2308M137.05 2298.7V2308M212.11 2298.7V2308M249.63 2298.7V2308M287.17 2298.7V2308M362.23 2298.7V2308M399.75 2298.7V2308M437.29 2298.7V2308M512.35 2298.7V2308M549.88 2298.7V2308M587.40 2298.7V2308M662.47 2298.7V2308M700.00 2298.7V2308M737.52 2298.7V2308M812.59 2298.7V2308"/>
</g>
<g class="ticklabels">
<text transform="translate(44.05 56.7) scale(0.9709 1)" font-size="29.87" text-anchor="end">3.0</text>
<text transform="translate(44.05 150.53) scale(0.9709 1)" font-size="29.87" text-anchor="end">2.0</text>
<text transform="translate(44.05 244.35) scale(0.9709 1)" font-size="29.87" text-anchor="end">1.0</text>
<text transform="translate(44.05 338.18) scale(0.9709 1)" font-size="29.87" text-anchor="end">0.0</text>
<text transform="translate(44.05 432) scale(0.9709 1)" font-size="29.87" text-anchor="end">-1.0</text>
<text transform="translate(867.35 432) scale(0.9709 1)" font-size="29.87">2.0</text>
<text transform="translate(867.35 494.55) scale(0.9709 1)" font-size="29.87">1.5</text>
<text transform="translate(867.35 557.1) scale(0.9709 1)" font-size="29.87">1.0</text>
<text transform="translate(867.35 619.65) scale(0.9709 1)" font-size="29.87">0.5</text>
<text transform="translate(867.35 682.2) scale(0.9709 1)" font-size="29.87">0.0</text>
<text transform="translate(867.35 744.75) scale(0.9709 1)" font-size="29.87">-0.5</text>
<text transform="translate(867.35 807.3) scale(0.9709 1)" font-size="29.87">-1.0</text>
<text transform="translate(44.05 807.3) scale(0.9709 1)" font-size="29.87" text-anchor="end">2.0</text>
<text transform="translate(44.05 869.85) scale(0.9709 1)" font-size="29.87" text-anchor="end">1.5</text>
<text transform="translate(44.05 932.4) scale(0.9709 1)" font-size="29.87" text-anchor="end">1.0</text>
<text transform="translate(44.05 994.95) scale(0.9709 1)" font-size="29.87" text-anchor="end">0.5</text>
<text transform="translate(44.05 1057.5) scale(0.9709 1)" font-size="29.87" text-anchor="end">0.0</text>
<text transform="translate(44.05 1120.05) scale(0.9709 1)" font-size="29.87" text-anchor="end">-0.5</text>
<text transform="translate(44.05 1182.6) scale(0.9709 1)" font-size="29.87" text-anchor="end">-1.0</text>
<text transform="translate(867.35 1182.6) scale(0.9709 1)" font-size="29.87">2.0</text>
<text transform="translate(867.35 1245.15) scale(0.9709 1)" font-size="29.87">1.5</text>
<text transform="translate(867.35 1307.7) scale(0.9709 1)" font-size="29.87">1.0</text>
<text transform="translate(867.35 1370.25) scale(0.9709 1)" font-size="29.87">0.5</text>
<text transform="translate(867.35 1432.8) scale(0.9709 1)" font-size="29.87">0.0</text>
<text transform="translate(867.35 1495.35) scale(0.9709 1)" font-size="29.87">-0.5</text>
<text transform="translate(867.35 1557.9) scale(0.9709 1)" font-size="29.87">-1.0</text>
<text transform="translate(44.05 1557.9) scale(0.9709 1)" font-size="29.87" text-anchor="end">2.0</text>
<text transform="translate(44.05 1620.45) scale(0.9709 1)" font-size="29.87" text-anchor="end">1.5</text>
<text transform="translate(44.05 1683) scale(0.9709 1)" font-size="29.87" text-anchor="end">1.0</text>
<text transform="translate(44.05 1745.55) scale(0.9709 1)" font-size="29.87" text-anchor="end">0.5</text>
<text transform="translate(44.05 1808.1) scale(0.9709 1)" font-size="29.87" text-anchor="end">0.0</text>
<text transform="translate(44.05 1870.65) scale(0.9709 1)" font-size="29.87" text-anchor="end">-0.5</text>
<text transform="translate(44.05 1933.2) scale(0.9709 1)" font-size="29.87" text-anchor="end">-1.0</text>
<text transform="translate(867.35 1933.2) scale(0.9709 1)" font-size="29.87">2.0</text>
<text transform="translate(867.35 1995.75) scale(0.9709 1)" font-size="29.87">1.5</text>
<text transform="translate(867.35 2058.3) scale(0.9709 1)" font-size="29.87">1.0</text>
<text transform="translate(867.35 2120.85) scale(0.9709 1)" font-size="29.87">0.5</text>
<text transform="translate(867.35 2183.4) scale(0.9709 1)" font-size="29.87">0.0</text>
<text transform="translate(867.35 2245.95) scale(0.9709 1)" font-size="29.87">-0.5</text>
<text transform="translate(867.35 2308.5) scale(0.9709 1)" font-size="29.87">-1.0</text>
<text transform="translate(174.57 2356.3) scale(0.9709 1)" font-size="29.87" text-anchor="middle">320</text>
<text transform="translate(324.69 2356.3) scale(0.9709 1)" font-size="29.87" text-anchor="middle">360</text>
<text transform="translate(474.81 2356.3) scale(0.9709 1)" font-size="29.87" text-anchor="middle">400</text>
<text transform="translate(624.94 2356.3) scale(0.9709 1)" font-size="29.87" text-anchor="middle">440</text>
<text transform="translate(775.06 2356.3) scale(0.9709 1)" font-size="29.87" text-anchor="middle">480</text>
</g>
<text transform="translate(457.05 2391.2) scale(0.9709 1)" font-size="29.25" text-anchor="middle">CO<tspan font-size="20.18" dy="4.5">2</tspan><tspan font-size="20.18" dy="-1.7">_</tspan><tspan dy="-2.8">e (ppmv)</tspan></text>
<text transform="translate(84.85 26.3) scale(0.9804 1)" font-size="38.86">HadCRUT v.s. CO<tspan font-size="24.09" dy="7">2_</tspan><tspan dy="-7">e at 6 Land Sites</tspan></text>
<g class="annotations">
<text transform="translate(95.65 87.7) scale(0.9709 1)" font-size="31.51">Western Europe(50<tspan font-size="18.76" dy="-13.2">o</tspan><tspan dy="13.2">N,10</tspan><tspan font-size="18.76" dy="-13.2">o</tspan><tspan dy="13.2">E)</tspan></text>
<text transform="translate(95.65 118.1) scale(0.9709 1)" font-size="31.14" xml:space="preserve">Trend =  0.98±0.35<tspan font-size="18.76" dy="-13.2">o</tspan><tspan dy="13.2">C/100ppmv</tspan></text>
<text transform="translate(95.65 463) scale(0.9709 1)" font-size="31.51">Central Asia(30<tspan font-size="18.76" dy="-13.2">o</tspan><tspan dy="13.2">N,100</tspan><tspan font-size="18.76" dy="-13.2">o</tspan><tspan dy="13.2">E)</tspan></text>
<text transform="translate(95.65 493.4) scale(0.9709 1)" font-size="31.14" xml:space="preserve">Trend =  0.49±0.29<tspan font-size="18.76" dy="-13.2">o</tspan><tspan dy="13.2">C/100ppmv</tspan></text>
<text transform="translate(95.65 838.3) scale(0.9709 1)" font-size="31.51">Southern Africa(20<tspan font-size="18.76" dy="-13.2">o</tspan><tspan dy="13.2">S,30</tspan><tspan font-size="18.76" dy="-13.2">o</tspan><tspan dy="13.2">E)</tspan></text>
<text transform="translate(95.65 868.7) scale(0.9709 1)" font-size="31.14" xml:space="preserve">Trend =  0.64±0.21<tspan font-size="18.76" dy="-13.2">o</tspan><tspan dy="13.2">C/100ppmv</tspan></text>
<text transform="translate(95.65 1213.6) scale(0.9709 1)" font-size="31.51">Eastern Australia(30<tspan font-size="18.76" dy="-13.2">o</tspan><tspan dy="13.2">S,140</tspan><tspan font-size="18.76" dy="-13.2">o</tspan><tspan dy="13.2">W)</tspan></text>
<text transform="translate(95.65 1244) scale(0.9709 1)" font-size="31.14" xml:space="preserve">Trend =  0.56±0.1<tspan font-size="18.76" dy="-13.2">o</tspan><tspan dy="13.2">C/100ppmv</tspan></text>
<text transform="translate(95.65 1588.9) scale(0.9709 1)" font-size="31.51">Central North America(50<tspan font-size="18.76" dy="-13.2">o</tspan><tspan dy="13.2">N,90</tspan><tspan font-size="18.76" dy="-13.2">o</tspan><tspan dy="13.2">W)</tspan></text>
<text transform="translate(95.65 1619.3) scale(0.9709 1)" font-size="31.14" xml:space="preserve">Trend =  0.78±0.26<tspan font-size="18.76" dy="-13.2">o</tspan><tspan dy="13.2">C/100ppmv</tspan></text>
<text transform="translate(95.65 1964.2) scale(0.9709 1)" font-size="31.51">Central South America(30<tspan font-size="18.76" dy="-13.2">o</tspan><tspan dy="13.2">S,56</tspan><tspan font-size="18.76" dy="-13.2">o</tspan><tspan dy="13.2">W)</tspan></text>
<text transform="translate(95.65 1994.6) scale(0.9709 1)" font-size="31.14" xml:space="preserve">Trend =  0.58±0.13<tspan font-size="18.76" dy="-13.2">o</tspan><tspan dy="13.2">C/100ppmv</tspan></text>
</g>
<g class="legend">
<line x1="490.9" y1="343.9" x2="504.1" y2="343.9" stroke="#000" stroke-width="5" stroke-linecap="round"/>
<text transform="translate(508.25 351) scale(1.0000 1)" font-size="30.50" letter-spacing="-0.09">Linear Regression</text>
<circle cx="497.8" cy="384.8" r="4.7" fill="#ff0000"/>
<text transform="translate(508.75 392.4) scale(1.0000 1)" font-size="30.50" letter-spacing="0.21">9-Year Running Average</text>
<circle cx="497.8" cy="426" r="4.7" fill="#0000ff"/>
<text transform="translate(509.25 436.4) scale(1.0000 1)" font-size="30.50" letter-spacing="-0.15">Annual Mean</text>
</g>
</g>
<g id="panel-R">
<g fill="#0000ff">
<circle cx="1110.5" cy="205.3" r="4.7"/><circle cx="1121.2" cy="220.4" r="4.7"/><circle cx="1286.1" cy="227" r="4.7"/><circle cx="1190.5" cy="233" r="4.7"/><circle cx="1199.9" cy="231.2" r="4.7"/><circle cx="1210.9" cy="229" r="4.7"/><circle cx="1108.5" cy="240.5" r="4.7"/><circle cx="1224.2" cy="245.5" r="4.7"/><circle cx="1188.2" cy="250.6" r="4.7"/><circle cx="1116.9" cy="252.7" r="4.7"/><circle cx="1118.9" cy="256.4" r="4.7"/><circle cx="1128.3" cy="253" r="4.7"/><circle cx="1206.5" cy="254.5" r="4.7"/><circle cx="1263.6" cy="260.3" r="4.7"/><circle cx="1196.7" cy="263.5" r="4.7"/><circle cx="1158.3" cy="265.3" r="4.7"/><circle cx="1075.4" cy="270.8" r="4.7"/><circle cx="1229.3" cy="270.3" r="4.7"/><circle cx="1234" cy="275.5" r="4.7"/><circle cx="1251.8" cy="277.1" r="4.7"/><circle cx="1186.2" cy="283.3" r="4.7"/><circle cx="1163.3" cy="286" r="4.7"/><circle cx="1148.1" cy="288.7" r="4.7"/><circle cx="1160.6" cy="292.5" r="4.7"/><circle cx="1215.2" cy="288.7" r="4.7"/><circle cx="1257.2" cy="290" r="4.7"/><circle cx="1193.6" cy="292.1" r="4.7"/><circle cx="1132.4" cy="297.5" r="4.7"/><circle cx="1136.8" cy="299.5" r="4.7"/><circle cx="1203" cy="299.5" r="4.7"/><circle cx="1238.7" cy="297.2" r="4.7"/><circle cx="1172.1" cy="301.2" r="4.7"/><circle cx="1191.6" cy="298.1" r="4.7"/><circle cx="1101.8" cy="304.9" r="4.7"/><circle cx="1195.6" cy="304.9" r="4.7"/><circle cx="1155.9" cy="306.9" r="4.7"/><circle cx="1165.3" cy="312.5" r="4.7"/><circle cx="1072.2" cy="315.9" r="4.7"/><circle cx="1106.1" cy="313.6" r="4.7"/><circle cx="1077.3" cy="322.1" r="4.7"/><circle cx="1189.6" cy="320.3" r="4.7"/><circle cx="1147.8" cy="331.8" r="4.7"/><circle cx="1153.5" cy="333.8" r="4.7"/><circle cx="1151.9" cy="340.5" r="4.7"/><circle cx="1186.9" cy="337.2" r="4.7"/><circle cx="1176.8" cy="339.9" r="4.7"/><circle cx="1243.4" cy="339.9" r="4.7"/><circle cx="1166.7" cy="344.6" r="4.7"/><circle cx="1113.1" cy="347.4" r="4.7"/><circle cx="1143.5" cy="348.6" r="4.7"/><circle cx="1247.5" cy="350.9" r="4.7"/><circle cx="1278.1" cy="348.9" r="4.7"/><circle cx="1134" cy="358.3" r="4.7"/><circle cx="1188.6" cy="358.7" r="4.7"/><circle cx="1079.4" cy="362.5" r="4.7"/><circle cx="1125.6" cy="363" r="4.7"/><circle cx="1149.6" cy="362.4" r="4.7"/><circle cx="1219.9" cy="362.4" r="4.7"/><circle cx="1103.7" cy="365.2" r="4.7"/><circle cx="1179.1" cy="369.9" r="4.7"/><circle cx="1182.2" cy="370.2" r="4.7"/><circle cx="1098.7" cy="372.9" r="4.7"/><circle cx="1100" cy="374.9" r="4.7"/><circle cx="1090.3" cy="391" r="4.7"/><circle cx="1183.8" cy="388.3" r="4.7"/><circle cx="1141.5" cy="393.2" r="4.7"/><circle cx="1169.7" cy="398.4" r="4.7"/><circle cx="1115.1" cy="402.2" r="4.7"/><circle cx="1174.5" cy="404.5" r="4.7"/><circle cx="1096.7" cy="421.7" r="4.7"/><circle cx="1087.6" cy="108.5" r="4.7"/><circle cx="1294.4" cy="329.3" r="4.7"/><circle cx="1303.4" cy="265.9" r="4.7"/><circle cx="1312.9" cy="329.8" r="4.7"/><circle cx="1322.7" cy="260.3" r="4.7"/><circle cx="1332.7" cy="340.6" r="4.7"/><circle cx="1341.9" cy="289.8" r="4.7"/><circle cx="1351.9" cy="307.7" r="4.7"/><circle cx="1362.6" cy="330.4" r="4.7"/><circle cx="1374.5" cy="341.6" r="4.7"/><circle cx="1388" cy="309.1" r="4.7"/><circle cx="1400.7" cy="319.1" r="4.7"/><circle cx="1411.8" cy="324.4" r="4.7"/><circle cx="1422.6" cy="303.3" r="4.7"/><circle cx="1434.9" cy="332.7" r="4.7"/><circle cx="1447.6" cy="366" r="4.7"/><circle cx="1459.4" cy="331.1" r="4.7"/><circle cx="1470.8" cy="334.1" r="4.7"/><circle cx="1483.8" cy="310.3" r="4.7"/><circle cx="1498.4" cy="212.7" r="4.7"/><circle cx="1511.9" cy="310.7" r="4.7"/><circle cx="1523.5" cy="309.5" r="4.7"/><circle cx="1533.7" cy="245.5" r="4.7"/><circle cx="1540.7" cy="339.7" r="4.7"/><circle cx="1547.9" cy="324.4" r="4.7"/><circle cx="1556.1" cy="348.5" r="4.7"/><circle cx="1566" cy="303.7" r="4.7"/><circle cx="1575.5" cy="323" r="4.7"/><circle cx="1584.6" cy="281.4" r="4.7"/><circle cx="1596.6" cy="222.5" r="4.7"/><circle cx="1608.2" cy="181.8" r="4.7"/><circle cx="1616.1" cy="238" r="4.7"/><circle cx="1624.2" cy="265.9" r="4.7"/><circle cx="1635" cy="242.4" r="4.7"/><circle cx="1645.9" cy="253.6" r="4.7"/><circle cx="1656.8" cy="288.9" r="4.7"/><circle cx="1667.4" cy="235.2" r="4.7"/><circle cx="1678.4" cy="308.1" r="4.7"/><circle cx="1688.6" cy="226.7" r="4.7"/><circle cx="1698.5" cy="209.3" r="4.7"/><circle cx="1709.5" cy="259.4" r="4.7"/><circle cx="1720.4" cy="260.3" r="4.7"/><circle cx="1732.5" cy="274" r="4.7"/><circle cx="1741.7" cy="333.2" r="4.7"/><circle cx="1756.4" cy="271.7" r="4.7"/><circle cx="1766.6" cy="307.4" r="4.7"/><circle cx="1778.9" cy="238.3" r="4.7"/><circle cx="1797.3" cy="207.8" r="4.7"/><circle cx="1817.5" cy="256.8" r="4.7"/>
</g>
<g fill="#ff0000">
<circle cx="1106.1" cy="325.3" r="4.7"/><circle cx="1108.4" cy="311.6" r="4.7"/><circle cx="1110.5" cy="298.8" r="4.7"/><circle cx="1112.2" cy="289.4" r="4.7"/><circle cx="1114.8" cy="281.3" r="4.7"/><circle cx="1116.9" cy="288.7" r="4.7"/><circle cx="1118.9" cy="298.8" r="4.7"/><circle cx="1121.2" cy="288.7" r="4.7"/><circle cx="1123.2" cy="300.1" r="4.7"/><circle cx="1125.6" cy="288.7" r="4.7"/><circle cx="1128.3" cy="297.9" r="4.7"/><circle cx="1131" cy="312" r="4.7"/><circle cx="1133" cy="327.1" r="4.7"/><circle cx="1136.7" cy="331.1" r="4.7"/><circle cx="1139.8" cy="327.1" r="4.7"/><circle cx="1142.4" cy="338.5" r="4.7"/><circle cx="1143.8" cy="332.5" r="4.7"/><circle cx="1146.5" cy="340.5" r="4.7"/><circle cx="1149.2" cy="337.9" r="4.7"/><circle cx="1149.6" cy="323.7" r="4.7"/><circle cx="1151.3" cy="317" r="4.7"/><circle cx="1153.4" cy="311.6" r="4.7"/><circle cx="1155.9" cy="309.6" r="4.7"/><circle cx="1158.3" cy="319.7" r="4.7"/><circle cx="1160.6" cy="321.7" r="4.7"/><circle cx="1163.3" cy="318.3" r="4.7"/><circle cx="1165.6" cy="323" r="4.7"/><circle cx="1167.6" cy="327.8" r="4.7"/><circle cx="1169.7" cy="338.9" r="4.7"/><circle cx="1172.1" cy="347.5" r="4.7"/><circle cx="1174.8" cy="358.7" r="4.7"/><circle cx="1176.8" cy="361.7" r="4.7"/><circle cx="1179.5" cy="354.7" r="4.7"/><circle cx="1181.5" cy="337.9" r="4.7"/><circle cx="1183.5" cy="344.9" r="4.7"/><circle cx="1185.5" cy="336.5" r="4.7"/><circle cx="1187.2" cy="329.1" r="4.7"/><circle cx="1188.2" cy="317.7" r="4.7"/><circle cx="1188.6" cy="305.5" r="4.7"/><circle cx="1189.3" cy="294.8" r="4.7"/><circle cx="1190.3" cy="290" r="4.7"/><circle cx="1192" cy="286" r="4.7"/><circle cx="1193.4" cy="279.9" r="4.7"/><circle cx="1194.3" cy="273.2" r="4.7"/><circle cx="1196.7" cy="267.2" r="4.7"/><circle cx="1198.3" cy="272.5" r="4.7"/><circle cx="1200.4" cy="274.6" r="4.7"/><circle cx="1203" cy="280.6" r="4.7"/><circle cx="1206.5" cy="275.9" r="4.7"/><circle cx="1210.7" cy="271.2" r="4.7"/><circle cx="1215.2" cy="272.8" r="4.7"/><circle cx="1219.9" cy="279.9" r="4.7"/><circle cx="1224.2" cy="284.7" r="4.7"/><circle cx="1229.3" cy="295.4" r="4.7"/><circle cx="1234" cy="300.1" r="4.7"/><circle cx="1238.7" cy="300.1" r="4.7"/><circle cx="1243.4" cy="290" r="4.7"/><circle cx="1247.5" cy="294.8" r="4.7"/><circle cx="1251.8" cy="302.2" r="4.7"/><circle cx="1257.2" cy="298.1" r="4.7"/><circle cx="1263.6" cy="300.8" r="4.7"/><circle cx="1270.8" cy="293.8" r="4.7"/><circle cx="1278.1" cy="291.4" r="4.7"/><circle cx="1286.1" cy="289.6" r="4.7"/><circle cx="1294.4" cy="294.5" r="4.7"/><circle cx="1303.4" cy="297.5" r="4.7"/><circle cx="1312.9" cy="299.6" r="4.7"/><circle cx="1322.7" cy="297.2" r="4.7"/><circle cx="1332.7" cy="310.3" r="4.7"/><circle cx="1341.9" cy="308.6" r="4.7"/><circle cx="1351.9" cy="314.4" r="4.7"/><circle cx="1362.6" cy="313.9" r="4.7"/><circle cx="1374.5" cy="318.6" r="4.7"/><circle cx="1388" cy="317.7" r="4.7"/><circle cx="1400.7" cy="326.3" r="4.7"/><circle cx="1411.8" cy="329" r="4.7"/><circle cx="1422.6" cy="329.3" r="4.7"/><circle cx="1434.9" cy="325.3" r="4.7"/><circle cx="1447.6" cy="314.7" r="4.7"/><circle cx="1459.4" cy="313.9" r="4.7"/><circle cx="1470.8" cy="312.3" r="4.7"/><circle cx="1483.8" cy="305.4" r="4.7"/><circle cx="1498.4" cy="306.7" r="4.7"/><circle cx="1511.9" cy="302.3" r="4.7"/><circle cx="1523.5" cy="304" r="4.7"/><circle cx="1533.7" cy="300.7" r="4.7"/><circle cx="1540.7" cy="302.1" r="4.7"/><circle cx="1547.9" cy="309.5" r="4.7"/><circle cx="1556.1" cy="300" r="4.7"/><circle cx="1566" cy="286.3" r="4.7"/><circle cx="1575.5" cy="285.2" r="4.7"/><circle cx="1584.6" cy="276.1" r="4.7"/><circle cx="1596.6" cy="267.8" r="4.7"/><circle cx="1608.2" cy="256.8" r="4.7"/><circle cx="1616.1" cy="255" r="4.7"/><circle cx="1624.2" cy="245.5" r="4.7"/><circle cx="1635" cy="248.5" r="4.7"/><circle cx="1645.9" cy="249.2" r="4.7"/><circle cx="1656.8" cy="251.9" r="4.7"/><circle cx="1667.4" cy="254.3" r="4.7"/><circle cx="1678.4" cy="254" r="4.7"/><circle cx="1688.6" cy="256.9" r="4.7"/><circle cx="1698.5" cy="265.6" r="4.7"/><circle cx="1709.5" cy="264.1" r="4.7"/><circle cx="1720.4" cy="272.6" r="4.7"/><circle cx="1732.5" cy="264.3" r="4.7"/><circle cx="1741.7" cy="262" r="4.7"/><circle cx="1756.4" cy="267.3" r="4.7"/>
</g>
<line x1="1071.2" y1="319.3" x2="1755.8" y2="266.8" stroke="#000" stroke-width="5.2" stroke-linecap="round"/>
<g fill="#0000ff">
<circle cx="1229.3" cy="537.9" r="4.7"/><circle cx="1081.4" cy="551.1" r="4.7"/><circle cx="1075.4" cy="557.1" r="4.7"/><circle cx="1106.1" cy="555.1" r="4.7"/><circle cx="1160.6" cy="569.1" r="4.7"/><circle cx="1169.7" cy="573.2" r="4.7"/><circle cx="1172.7" cy="575.2" r="4.7"/><circle cx="1083.5" cy="580.6" r="4.7"/><circle cx="1224.2" cy="588.5" r="4.7"/><circle cx="1219.9" cy="597.8" r="4.7"/><circle cx="1086.2" cy="599.2" r="4.7"/><circle cx="1079.4" cy="602.5" r="4.7"/><circle cx="1188.2" cy="601.2" r="4.7"/><circle cx="1206.5" cy="603.9" r="4.7"/><circle cx="1174.5" cy="608.9" r="4.7"/><circle cx="1199.9" cy="613.4" r="4.7"/><circle cx="1186.2" cy="618.7" r="4.7"/><circle cx="1146.8" cy="620.8" r="4.7"/><circle cx="1155.9" cy="619.1" r="4.7"/><circle cx="1165.3" cy="619.4" r="4.7"/><circle cx="1263.6" cy="623.5" r="4.7"/><circle cx="1183.8" cy="630.1" r="4.7"/><circle cx="1073.5" cy="632.6" r="4.7"/><circle cx="1103.7" cy="631.2" r="4.7"/><circle cx="1101.8" cy="636.9" r="4.7"/><circle cx="1112.8" cy="636.6" r="4.7"/><circle cx="1110.8" cy="639.6" r="4.7"/><circle cx="1248.2" cy="633.1" r="4.7"/><circle cx="1203" cy="636.6" r="4.7"/><circle cx="1190.3" cy="638.6" r="4.7"/><circle cx="1193.4" cy="641.6" r="4.7"/><circle cx="1179.1" cy="640.2" r="4.7"/><circle cx="1238.7" cy="639.6" r="4.7"/><circle cx="1149.2" cy="645.2" r="4.7"/><circle cx="1243.4" cy="646.3" r="4.7"/><circle cx="1270.8" cy="647" r="4.7"/><circle cx="1278.1" cy="647.9" r="4.7"/><circle cx="1176.8" cy="649.7" r="4.7"/><circle cx="1094.6" cy="652.4" r="4.7"/><circle cx="1196.7" cy="653" r="4.7"/><circle cx="1118.9" cy="656.4" r="4.7"/><circle cx="1163.3" cy="655" r="4.7"/><circle cx="1151.9" cy="657.7" r="4.7"/><circle cx="1122.3" cy="659.8" r="4.7"/><circle cx="1069.1" cy="662.9" r="4.7"/><circle cx="1092" cy="663.8" r="4.7"/><circle cx="1125.6" cy="665.8" r="4.7"/><circle cx="1234" cy="660.8" r="4.7"/><circle cx="1188.6" cy="671.6" r="4.7"/><circle cx="1141.1" cy="673.9" r="4.7"/><circle cx="1251.8" cy="679" r="4.7"/><circle cx="1257.9" cy="677.7" r="4.7"/><circle cx="1100" cy="687.8" r="4.7"/><circle cx="1286.1" cy="692.5" r="4.7"/><circle cx="1158.3" cy="695.7" r="4.7"/><circle cx="1189.3" cy="695.4" r="4.7"/><circle cx="1195" cy="697.7" r="4.7"/><circle cx="1099.4" cy="698.1" r="4.7"/><circle cx="1130.3" cy="699.5" r="4.7"/><circle cx="1136.8" cy="701.9" r="4.7"/><circle cx="1139.8" cy="702.9" r="4.7"/><circle cx="1093.3" cy="705.1" r="4.7"/><circle cx="1128.3" cy="707.3" r="4.7"/><circle cx="1148.1" cy="710.3" r="4.7"/><circle cx="1095.7" cy="717" r="4.7"/><circle cx="1090.3" cy="727.2" r="4.7"/><circle cx="1116.9" cy="735.2" r="4.7"/><circle cx="1210.7" cy="734.5" r="4.7"/><circle cx="1215.2" cy="732.7" r="4.7"/><circle cx="1145.8" cy="740.8" r="4.7"/><circle cx="1123.2" cy="745.9" r="4.7"/><circle cx="1143.5" cy="765.7" r="4.7"/><circle cx="1096.7" cy="768.8" r="4.7"/><circle cx="1077.3" cy="770.9" r="4.7"/><circle cx="1115.1" cy="772.2" r="4.7"/><circle cx="1070.4" cy="795.4" r="4.7"/><circle cx="1088" cy="794.7" r="4.7"/><circle cx="1187.5" cy="507.2" r="4.7"/><circle cx="1294.4" cy="659.1" r="4.7"/><circle cx="1303.4" cy="718.8" r="4.7"/><circle cx="1312.9" cy="650.9" r="4.7"/><circle cx="1322.7" cy="662.1" r="4.7"/><circle cx="1332.7" cy="670.2" r="4.7"/><circle cx="1341.9" cy="755.9" r="4.7"/><circle cx="1351.9" cy="621" r="4.7"/><circle cx="1362.6" cy="622.4" r="4.7"/><circle cx="1374.5" cy="598" r="4.7"/><circle cx="1388" cy="645.6" r="4.7"/><circle cx="1400.7" cy="634.7" r="4.7"/><circle cx="1411.8" cy="624.9" r="4.7"/><circle cx="1422.6" cy="599.8" r="4.7"/><circle cx="1434.9" cy="632.2" r="4.7"/><circle cx="1447.6" cy="607" r="4.7"/><circle cx="1459.4" cy="623.1" r="4.7"/><circle cx="1470.8" cy="610.8" r="4.7"/><circle cx="1483.8" cy="610.8" r="4.7"/><circle cx="1498.4" cy="654.9" r="4.7"/><circle cx="1511.9" cy="658.6" r="4.7"/><circle cx="1523.5" cy="589.2" r="4.7"/><circle cx="1533.7" cy="628.6" r="4.7"/><circle cx="1540.7" cy="583.2" r="4.7"/><circle cx="1547.9" cy="554.3" r="4.7"/><circle cx="1556.1" cy="572.2" r="4.7"/><circle cx="1566" cy="600.8" r="4.7"/><circle cx="1575.5" cy="578" r="4.7"/><circle cx="1584.6" cy="575.7" r="4.7"/><circle cx="1596.6" cy="635.9" r="4.7"/><circle cx="1608.2" cy="691.3" r="4.7"/><circle cx="1616.1" cy="686" r="4.7"/><circle cx="1624.2" cy="598.5" r="4.7"/><circle cx="1635" cy="585" r="4.7"/><circle cx="1645.9" cy="625.7" r="4.7"/><circle cx="1656.8" cy="595.9" r="4.7"/><circle cx="1667.4" cy="642.1" r="4.7"/><circle cx="1678.4" cy="611.3" r="4.7"/><circle cx="1688.6" cy="611.9" r="4.7"/><circle cx="1698.5" cy="658.1" r="4.7"/><circle cx="1709.5" cy="534.6" r="4.7"/><circle cx="1720.4" cy="654.9" r="4.7"/><circle cx="1732.5" cy="696.2" r="4.7"/><circle cx="1741.7" cy="563.9" r="4.7"/><circle cx="1756.4" cy="551.3" r="4.7"/><circle cx="1766.6" cy="517.2" r="4.7"/><circle cx="1778.9" cy="448.7" r="4.7"/><circle cx="1797.3" cy="533.2" r="4.7"/><circle cx="1817.5" cy="588" r="4.7"/>
</g>
<g fill="#ff0000">
<circle cx="1072.4" cy="671.2" r="4.7"/><circle cx="1073.8" cy="656.7" r="4.7"/><circle cx="1075.4" cy="643.6" r="4.7"/><circle cx="1077.3" cy="636.2" r="4.7"/><circle cx="1079.8" cy="636.5" r="4.7"/><circle cx="1081.9" cy="645.9" r="4.7"/><circle cx="1084.5" cy="649.7" r="4.7"/><circle cx="1088" cy="652.6" r="4.7"/><circle cx="1085.9" cy="665.8" r="4.7"/><circle cx="1090.3" cy="665.1" r="4.7"/><circle cx="1092" cy="677.9" r="4.7"/><circle cx="1096.7" cy="680" r="4.7"/><circle cx="1098.7" cy="667.8" r="4.7"/><circle cx="1099.4" cy="659.8" r="4.7"/><circle cx="1102.1" cy="657.7" r="4.7"/><circle cx="1103.7" cy="643.9" r="4.7"/><circle cx="1106.1" cy="655" r="4.7"/><circle cx="1108.4" cy="659.1" r="4.7"/><circle cx="1110.8" cy="655.7" r="4.7"/><circle cx="1113.5" cy="658.1" r="4.7"/><circle cx="1114.8" cy="671.2" r="4.7"/><circle cx="1116.9" cy="683.3" r="4.7"/><circle cx="1118.9" cy="690.7" r="4.7"/><circle cx="1120.9" cy="697.7" r="4.7"/><circle cx="1123.2" cy="744.3" r="4.7"/><circle cx="1125.6" cy="735.8" r="4.7"/><circle cx="1128.3" cy="732.7" r="4.7"/><circle cx="1131" cy="734.8" r="4.7"/><circle cx="1134" cy="746.6" r="4.7"/><circle cx="1137.1" cy="745.9" r="4.7"/><circle cx="1139.4" cy="741.2" r="4.7"/><circle cx="1141.5" cy="737.9" r="4.7"/><circle cx="1143.5" cy="735.2" r="4.7"/><circle cx="1145" cy="690.1" r="4.7"/><circle cx="1146.5" cy="684.7" r="4.7"/><circle cx="1148.1" cy="675.9" r="4.7"/><circle cx="1149.9" cy="678.3" r="4.7"/><circle cx="1151.3" cy="656.4" r="4.7"/><circle cx="1153.4" cy="646.3" r="4.7"/><circle cx="1155.9" cy="647" r="4.7"/><circle cx="1158.3" cy="657.7" r="4.7"/><circle cx="1160.6" cy="649.7" r="4.7"/><circle cx="1163.3" cy="642.3" r="4.7"/><circle cx="1165.6" cy="635.5" r="4.7"/><circle cx="1167.6" cy="638.2" r="4.7"/><circle cx="1169.7" cy="632.4" r="4.7"/><circle cx="1172.1" cy="636.2" r="4.7"/><circle cx="1174.8" cy="634.2" r="4.7"/><circle cx="1176.8" cy="634.2" r="4.7"/><circle cx="1179.5" cy="600.8" r="4.7"/><circle cx="1181.5" cy="603.9" r="4.7"/><circle cx="1183.8" cy="614.8" r="4.7"/><circle cx="1186.9" cy="623.4" r="4.7"/><circle cx="1199.9" cy="687.8" r="4.7"/><circle cx="1203" cy="655" r="4.7"/><circle cx="1206.5" cy="650.7" r="4.7"/><circle cx="1210.7" cy="633.5" r="4.7"/><circle cx="1215.2" cy="634.2" r="4.7"/><circle cx="1219.9" cy="636.9" r="4.7"/><circle cx="1224.2" cy="637.8" r="4.7"/><circle cx="1229.3" cy="641.2" r="4.7"/><circle cx="1234" cy="634.8" r="4.7"/><circle cx="1238.7" cy="629.2" r="4.7"/><circle cx="1243.4" cy="631.2" r="4.7"/><circle cx="1247.5" cy="638.2" r="4.7"/><circle cx="1251.8" cy="650.3" r="4.7"/><circle cx="1257.2" cy="654.4" r="4.7"/><circle cx="1263.6" cy="656.1" r="4.7"/><circle cx="1270.8" cy="664.5" r="4.7"/><circle cx="1278.1" cy="665.8" r="4.7"/><circle cx="1286.1" cy="664.5" r="4.7"/><circle cx="1094.6" cy="706.5" r="4.7"/><circle cx="1093.3" cy="698.1" r="4.7"/><circle cx="1095.3" cy="694.1" r="4.7"/><circle cx="1096.7" cy="688.7" r="4.7"/><circle cx="1294.4" cy="663.5" r="4.7"/><circle cx="1303.4" cy="678.4" r="4.7"/><circle cx="1312.9" cy="675.5" r="4.7"/><circle cx="1322.7" cy="672.6" r="4.7"/><circle cx="1332.7" cy="662.1" r="4.7"/><circle cx="1341.9" cy="660.5" r="4.7"/><circle cx="1351.9" cy="651.2" r="4.7"/><circle cx="1362.6" cy="648.6" r="4.7"/><circle cx="1374.5" cy="642.4" r="4.7"/><circle cx="1388" cy="637.2" r="4.7"/><circle cx="1400.7" cy="620.7" r="4.7"/><circle cx="1411.8" cy="621" r="4.7"/><circle cx="1422.6" cy="619.6" r="4.7"/><circle cx="1434.9" cy="621.2" r="4.7"/><circle cx="1447.6" cy="622.1" r="4.7"/><circle cx="1459.4" cy="624.2" r="4.7"/><circle cx="1470.8" cy="620.7" r="4.7"/><circle cx="1483.8" cy="624.3" r="4.7"/><circle cx="1498.4" cy="618.2" r="4.7"/><circle cx="1511.9" cy="612.6" r="4.7"/><circle cx="1523.5" cy="607" r="4.7"/><circle cx="1533.7" cy="606.1" r="4.7"/><circle cx="1540.7" cy="602.4" r="4.7"/><circle cx="1547.9" cy="593.3" r="4.7"/><circle cx="1556.1" cy="591" r="4.7"/><circle cx="1566" cy="602" r="4.7"/><circle cx="1575.5" cy="608.2" r="4.7"/><circle cx="1584.6" cy="609.9" r="4.7"/><circle cx="1596.6" cy="614" r="4.7"/><circle cx="1608.2" cy="619.6" r="4.7"/><circle cx="1616.1" cy="619.1" r="4.7"/><circle cx="1624.2" cy="626.3" r="4.7"/><circle cx="1635" cy="630.5" r="4.7"/><circle cx="1645.9" cy="627.5" r="4.7"/><circle cx="1656.8" cy="623.8" r="4.7"/><circle cx="1667.4" cy="607.3" r="4.7"/><circle cx="1678.4" cy="613.1" r="4.7"/><circle cx="1688.6" cy="625.7" r="4.7"/><circle cx="1698.5" cy="618.7" r="4.7"/><circle cx="1709.5" cy="614" r="4.7"/><circle cx="1720.4" cy="600.3" r="4.7"/><circle cx="1732.5" cy="582" r="4.7"/><circle cx="1741.7" cy="573.1" r="4.7"/><circle cx="1756.4" cy="565.5" r="4.7"/>
</g>
<line x1="1071.2" y1="675.8" x2="1755.8" y2="591.4" stroke="#000" stroke-width="5.2" stroke-linecap="round"/>
<g fill="#0000ff">
<circle cx="1179.5" cy="918.3" r="4.7"/><circle cx="1183.8" cy="933.5" r="4.7"/><circle cx="1128.3" cy="943.2" r="4.7"/><circle cx="1100" cy="949.8" r="4.7"/><circle cx="1257.2" cy="950.2" r="4.7"/><circle cx="1270.8" cy="952.1" r="4.7"/><circle cx="1097.6" cy="962.6" r="4.7"/><circle cx="1187.2" cy="964.9" r="4.7"/><circle cx="1081.4" cy="969.6" r="4.7"/><circle cx="1096.7" cy="971.6" r="4.7"/><circle cx="1098.7" cy="979.9" r="4.7"/><circle cx="1095.3" cy="980.9" r="4.7"/><circle cx="1188.6" cy="978.9" r="4.7"/><circle cx="1120.9" cy="980.7" r="4.7"/><circle cx="1219.9" cy="981.4" r="4.7"/><circle cx="1229.3" cy="985.7" r="4.7"/><circle cx="1077.3" cy="985.5" r="4.7"/><circle cx="1181.5" cy="990.3" r="4.7"/><circle cx="1108.8" cy="994.1" r="4.7"/><circle cx="1145" cy="993.8" r="4.7"/><circle cx="1194.7" cy="998.5" r="4.7"/><circle cx="1238.7" cy="998" r="4.7"/><circle cx="1278.1" cy="996.2" r="4.7"/><circle cx="1247.5" cy="1003.9" r="4.7"/><circle cx="1160.6" cy="1004" r="4.7"/><circle cx="1102.1" cy="1002.2" r="4.7"/><circle cx="1146.8" cy="1007.8" r="4.7"/><circle cx="1143.5" cy="1011.6" r="4.7"/><circle cx="1190.3" cy="1008.2" r="4.7"/><circle cx="1175.4" cy="1008.9" r="4.7"/><circle cx="1112.2" cy="1011.6" r="4.7"/><circle cx="1224.2" cy="1014.5" r="4.7"/><circle cx="1286.1" cy="1015.6" r="4.7"/><circle cx="1095.7" cy="1020.3" r="4.7"/><circle cx="1116.9" cy="1021.3" r="4.7"/><circle cx="1103.4" cy="1023.4" r="4.7"/><circle cx="1094.6" cy="1025.5" r="4.7"/><circle cx="1206.5" cy="1022.1" r="4.7"/><circle cx="1155.9" cy="1028.8" r="4.7"/><circle cx="1165.3" cy="1029.1" r="4.7"/><circle cx="1123.2" cy="1030.8" r="4.7"/><circle cx="1210.7" cy="1028.4" r="4.7"/><circle cx="1197.7" cy="1032.5" r="4.7"/><circle cx="1167.4" cy="1035.8" r="4.7"/><circle cx="1079.4" cy="1045.5" r="4.7"/><circle cx="1069.1" cy="1048.3" r="4.7"/><circle cx="1151.3" cy="1044.8" r="4.7"/><circle cx="1169.7" cy="1046.2" r="4.7"/><circle cx="1189.9" cy="1043.6" r="4.7"/><circle cx="1200.4" cy="1041.9" r="4.7"/><circle cx="1106.1" cy="1051.6" r="4.7"/><circle cx="1141.5" cy="1052.7" r="4.7"/><circle cx="1243.4" cy="1051.7" r="4.7"/><circle cx="1234" cy="1056.4" r="4.7"/><circle cx="1136.8" cy="1059.7" r="4.7"/><circle cx="1263.6" cy="1059.7" r="4.7"/><circle cx="1185.5" cy="1061.8" r="4.7"/><circle cx="1251.8" cy="1063.8" r="4.7"/><circle cx="1118.9" cy="1075.9" r="4.7"/><circle cx="1131" cy="1079" r="4.7"/><circle cx="1174.8" cy="1074.5" r="4.7"/><circle cx="1171.8" cy="1075.9" r="4.7"/><circle cx="1158.3" cy="1079.6" r="4.7"/><circle cx="1191.6" cy="1082.7" r="4.7"/><circle cx="1193.4" cy="1085" r="4.7"/><circle cx="1093.3" cy="1087" r="4.7"/><circle cx="1092" cy="1093.1" r="4.7"/><circle cx="1188.2" cy="1093.9" r="4.7"/><circle cx="1153.4" cy="1096.4" r="4.7"/><circle cx="1114.8" cy="1107.2" r="4.7"/><circle cx="1149.6" cy="1106.1" r="4.7"/><circle cx="1163.1" cy="1106.8" r="4.7"/><circle cx="1086.2" cy="1111.5" r="4.7"/><circle cx="1075.4" cy="1115.5" r="4.7"/><circle cx="1134" cy="1138.2" r="4.7"/><circle cx="1073.8" cy="1143.5" r="4.7"/><circle cx="1215.2" cy="1157.7" r="4.7"/><circle cx="1148.1" cy="1162.7" r="4.7"/><circle cx="1070.4" cy="1167.4" r="4.7"/><circle cx="1090.3" cy="1170.2" r="4.7"/><circle cx="1125.4" cy="860.6" r="4.7"/><circle cx="1138.9" cy="863.7" r="4.7"/><circle cx="1294.4" cy="1087.2" r="4.7"/><circle cx="1303.4" cy="1055.7" r="4.7"/><circle cx="1312.9" cy="987.2" r="4.7"/><circle cx="1322.7" cy="919.1" r="4.7"/><circle cx="1332.7" cy="1049.2" r="4.7"/><circle cx="1341.9" cy="969.7" r="4.7"/><circle cx="1351.9" cy="1078.4" r="4.7"/><circle cx="1362.6" cy="951.2" r="4.7"/><circle cx="1374.5" cy="1033.9" r="4.7"/><circle cx="1388" cy="906.3" r="4.7"/><circle cx="1400.7" cy="871.3" r="4.7"/><circle cx="1411.8" cy="897.3" r="4.7"/><circle cx="1422.6" cy="902.9" r="4.7"/><circle cx="1434.9" cy="948.1" r="4.7"/><circle cx="1447.6" cy="1077" r="4.7"/><circle cx="1459.4" cy="997.2" r="4.7"/><circle cx="1470.8" cy="1023.2" r="4.7"/><circle cx="1483.8" cy="986.5" r="4.7"/><circle cx="1498.4" cy="915.7" r="4.7"/><circle cx="1511.9" cy="1000" r="4.7"/><circle cx="1523.5" cy="933.5" r="4.7"/><circle cx="1533.7" cy="906.6" r="4.7"/><circle cx="1540.7" cy="1070.7" r="4.7"/><circle cx="1547.9" cy="964.4" r="4.7"/><circle cx="1556.1" cy="980.5" r="4.7"/><circle cx="1566" cy="1011.8" r="4.7"/><circle cx="1575.5" cy="1038.5" r="4.7"/><circle cx="1584.6" cy="924.3" r="4.7"/><circle cx="1596.6" cy="948.1" r="4.7"/><circle cx="1608.2" cy="981.8" r="4.7"/><circle cx="1616.1" cy="1001.8" r="4.7"/><circle cx="1624.2" cy="957.9" r="4.7"/><circle cx="1635" cy="896.2" r="4.7"/><circle cx="1645.9" cy="930.8" r="4.7"/><circle cx="1656.8" cy="923.5" r="4.7"/><circle cx="1667.4" cy="882.7" r="4.7"/><circle cx="1678.4" cy="881.7" r="4.7"/><circle cx="1688.6" cy="845.7" r="4.7"/><circle cx="1698.5" cy="978.1" r="4.7"/><circle cx="1709.5" cy="827.9" r="4.7"/><circle cx="1720.4" cy="978.1" r="4.7"/><circle cx="1732.5" cy="973.2" r="4.7"/><circle cx="1741.7" cy="1002.7" r="4.7"/><circle cx="1756.4" cy="853.4" r="4.7"/><circle cx="1766.6" cy="824.8" r="4.7"/><circle cx="1778.9" cy="895.7" r="4.7"/><circle cx="1797.3" cy="883.6" r="4.7"/><circle cx="1817.5" cy="843.5" r="4.7"/>
</g>
<g fill="#ff0000">
<circle cx="1073.8" cy="1094" r="4.7"/><circle cx="1073.1" cy="1101.8" r="4.7"/><circle cx="1075.4" cy="1107.2" r="4.7"/><circle cx="1077.3" cy="1111.9" r="4.7"/><circle cx="1079.4" cy="1115.9" r="4.7"/><circle cx="1081.4" cy="1107.9" r="4.7"/><circle cx="1083.5" cy="1102.9" r="4.7"/><circle cx="1085.9" cy="1098.4" r="4.7"/><circle cx="1088" cy="1101.1" r="4.7"/><circle cx="1092" cy="1101.1" r="4.7"/><circle cx="1089.9" cy="1099.1" r="4.7"/><circle cx="1093.3" cy="1072.9" r="4.7"/><circle cx="1094.6" cy="1056.4" r="4.7"/><circle cx="1095.7" cy="1032.5" r="4.7"/><circle cx="1096.3" cy="1007.9" r="4.7"/><circle cx="1096.3" cy="997.4" r="4.7"/><circle cx="1096.7" cy="990.7" r="4.7"/><circle cx="1100" cy="990" r="4.7"/><circle cx="1102.1" cy="995.4" r="4.7"/><circle cx="1104.1" cy="998.8" r="4.7"/><circle cx="1106.1" cy="1015.4" r="4.7"/><circle cx="1108.4" cy="1019.3" r="4.7"/><circle cx="1110.8" cy="1033.8" r="4.7"/><circle cx="1112.8" cy="1031.4" r="4.7"/><circle cx="1115.1" cy="1032.5" r="4.7"/><circle cx="1116.9" cy="1011.6" r="4.7"/><circle cx="1118.9" cy="1004.8" r="4.7"/><circle cx="1120.9" cy="1012.3" r="4.7"/><circle cx="1123.2" cy="1026.4" r="4.7"/><circle cx="1125.6" cy="1021" r="4.7"/><circle cx="1128.3" cy="1003.5" r="4.7"/><circle cx="1131" cy="1000.5" r="4.7"/><circle cx="1134" cy="1004.2" r="4.7"/><circle cx="1137.1" cy="1000.1" r="4.7"/><circle cx="1139.4" cy="1016.7" r="4.7"/><circle cx="1143.5" cy="1043.9" r="4.7"/><circle cx="1145" cy="1033.1" r="4.7"/><circle cx="1148.1" cy="1056" r="4.7"/><circle cx="1149.9" cy="1058.7" r="4.7"/><circle cx="1153.4" cy="1070.8" r="4.7"/><circle cx="1155.9" cy="1072.9" r="4.7"/><circle cx="1151.3" cy="1057.4" r="4.7"/><circle cx="1158.3" cy="1058.7" r="4.7"/><circle cx="1160.6" cy="1052.4" r="4.7"/><circle cx="1163.3" cy="1055.7" r="4.7"/><circle cx="1165.6" cy="1053.3" r="4.7"/><circle cx="1167.6" cy="1050.9" r="4.7"/><circle cx="1169.7" cy="1033.1" r="4.7"/><circle cx="1172.1" cy="1031.5" r="4.7"/><circle cx="1174.8" cy="1012.5" r="4.7"/><circle cx="1176.8" cy="1016.3" r="4.7"/><circle cx="1179.1" cy="1008.9" r="4.7"/><circle cx="1181.5" cy="1011.6" r="4.7"/><circle cx="1183.8" cy="1002.2" r="4.7"/><circle cx="1186.9" cy="994.3" r="4.7"/><circle cx="1188.6" cy="1008.2" r="4.7"/><circle cx="1188.9" cy="1018.6" r="4.7"/><circle cx="1189.9" cy="1028.1" r="4.7"/><circle cx="1189.3" cy="1035.1" r="4.7"/><circle cx="1192.9" cy="1037.2" r="4.7"/><circle cx="1195.6" cy="1041.9" r="4.7"/><circle cx="1199.9" cy="1054.7" r="4.7"/><circle cx="1203" cy="1043.2" r="4.7"/><circle cx="1206.5" cy="1035.1" r="4.7"/><circle cx="1210.7" cy="1033.8" r="4.7"/><circle cx="1215.2" cy="1037.2" r="4.7"/><circle cx="1219.9" cy="1031.8" r="4.7"/><circle cx="1224.2" cy="1033.1" r="4.7"/><circle cx="1229.3" cy="1030.4" r="4.7"/><circle cx="1234" cy="1034.7" r="4.7"/><circle cx="1238.7" cy="1011.6" r="4.7"/><circle cx="1243.4" cy="1021" r="4.7"/><circle cx="1247.5" cy="1013.2" r="4.7"/><circle cx="1251.8" cy="1014.3" r="4.7"/><circle cx="1257.2" cy="1010" r="4.7"/><circle cx="1263.6" cy="1019.7" r="4.7"/><circle cx="1270.8" cy="1020.3" r="4.7"/><circle cx="1278.1" cy="1019" r="4.7"/><circle cx="1286.1" cy="1002.2" r="4.7"/><circle cx="1294.4" cy="1013.4" r="4.7"/><circle cx="1303.4" cy="1002.5" r="4.7"/><circle cx="1312.9" cy="1017.6" r="4.7"/><circle cx="1322.7" cy="1012.5" r="4.7"/><circle cx="1332.7" cy="1014.8" r="4.7"/><circle cx="1341.9" cy="994.1" r="4.7"/><circle cx="1351.9" cy="974" r="4.7"/><circle cx="1362.6" cy="963.9" r="4.7"/><circle cx="1374.5" cy="962.3" r="4.7"/><circle cx="1388" cy="951.2" r="4.7"/><circle cx="1400.7" cy="962.8" r="4.7"/><circle cx="1411.8" cy="953.9" r="4.7"/><circle cx="1422.6" cy="961.8" r="4.7"/><circle cx="1434.9" cy="956.8" r="4.7"/><circle cx="1447.6" cy="957.5" r="4.7"/><circle cx="1459.4" cy="971.8" r="4.7"/><circle cx="1470.8" cy="976.2" r="4.7"/><circle cx="1483.8" cy="976.3" r="4.7"/><circle cx="1498.4" cy="990.2" r="4.7"/><circle cx="1511.9" cy="977.4" r="4.7"/><circle cx="1523.5" cy="975.8" r="4.7"/><circle cx="1533.7" cy="974.4" r="4.7"/><circle cx="1540.7" cy="980.2" r="4.7"/><circle cx="1547.9" cy="981.1" r="4.7"/><circle cx="1556.1" cy="975.3" r="4.7"/><circle cx="1566" cy="980.7" r="4.7"/><circle cx="1575.5" cy="991.1" r="4.7"/><circle cx="1584.6" cy="978.4" r="4.7"/><circle cx="1596.6" cy="971.2" r="4.7"/><circle cx="1608.2" cy="965.6" r="4.7"/><circle cx="1616.1" cy="955.8" r="4.7"/><circle cx="1624.2" cy="938.4" r="4.7"/><circle cx="1635" cy="933.7" r="4.7"/><circle cx="1645.9" cy="922.4" r="4.7"/><circle cx="1656.8" cy="922.2" r="4.7"/><circle cx="1667.4" cy="902.7" r="4.7"/><circle cx="1678.4" cy="904.7" r="4.7"/><circle cx="1688.6" cy="913.5" r="4.7"/><circle cx="1698.5" cy="921.4" r="4.7"/><circle cx="1709.5" cy="913.5" r="4.7"/><circle cx="1720.4" cy="907.3" r="4.7"/><circle cx="1732.5" cy="908.5" r="4.7"/><circle cx="1741.7" cy="912.6" r="4.7"/><circle cx="1756.4" cy="898.2" r="4.7"/>
</g>
<line x1="1071.2" y1="1053.1" x2="1755.8" y2="911.7" stroke="#000" stroke-width="5.2" stroke-linecap="round"/>
<g fill="#0000ff">
<circle cx="1177.1" cy="1309.2" r="4.7"/><circle cx="1160.6" cy="1313.2" r="4.7"/><circle cx="1194.7" cy="1325.2" r="4.7"/><circle cx="1206.5" cy="1328.2" r="4.7"/><circle cx="1169.7" cy="1331" r="4.7"/><circle cx="1070.4" cy="1335.4" r="4.7"/><circle cx="1179.1" cy="1338.1" r="4.7"/><circle cx="1182.2" cy="1337.7" r="4.7"/><circle cx="1155.9" cy="1342.8" r="4.7"/><circle cx="1196.7" cy="1347.1" r="4.7"/><circle cx="1174.8" cy="1353.2" r="4.7"/><circle cx="1158.3" cy="1360.3" r="4.7"/><circle cx="1203" cy="1360.6" r="4.7"/><circle cx="1190.3" cy="1363.6" r="4.7"/><circle cx="1081.4" cy="1364.8" r="4.7"/><circle cx="1086.2" cy="1367.3" r="4.7"/><circle cx="1098.7" cy="1364.9" r="4.7"/><circle cx="1096.3" cy="1368" r="4.7"/><circle cx="1238.7" cy="1365.3" r="4.7"/><circle cx="1170.7" cy="1364.6" r="4.7"/><circle cx="1168" cy="1370.7" r="4.7"/><circle cx="1146.5" cy="1372.3" r="4.7"/><circle cx="1144.5" cy="1373.4" r="4.7"/><circle cx="1234" cy="1373.1" r="4.7"/><circle cx="1192.9" cy="1370.7" r="4.7"/><circle cx="1083.5" cy="1381.2" r="4.7"/><circle cx="1243.4" cy="1384.2" r="4.7"/><circle cx="1073.5" cy="1385.3" r="4.7"/><circle cx="1112.8" cy="1386.2" r="4.7"/><circle cx="1108.4" cy="1389.6" r="4.7"/><circle cx="1165.3" cy="1387.8" r="4.7"/><circle cx="1199.7" cy="1383.1" r="4.7"/><circle cx="1247.5" cy="1390.2" r="4.7"/><circle cx="1095.7" cy="1391.9" r="4.7"/><circle cx="1094.4" cy="1395.4" r="4.7"/><circle cx="1189.9" cy="1390.9" r="4.7"/><circle cx="1150.5" cy="1395.2" r="4.7"/><circle cx="1163.1" cy="1399.1" r="4.7"/><circle cx="1210.7" cy="1399.4" r="4.7"/><circle cx="1270.8" cy="1399.3" r="4.7"/><circle cx="1123.2" cy="1402.8" r="4.7"/><circle cx="1148.5" cy="1401" r="4.7"/><circle cx="1142.9" cy="1405" r="4.7"/><circle cx="1069.1" cy="1405" r="4.7"/><circle cx="1186.9" cy="1403.4" r="4.7"/><circle cx="1076.5" cy="1409.8" r="4.7"/><circle cx="1219.9" cy="1413.8" r="4.7"/><circle cx="1138.4" cy="1414.5" r="4.7"/><circle cx="1251.8" cy="1415.8" r="4.7"/><circle cx="1072.2" cy="1418.1" r="4.7"/><circle cx="1104.1" cy="1421.2" r="4.7"/><circle cx="1215.2" cy="1423.2" r="4.7"/><circle cx="1224.2" cy="1423.2" r="4.7"/><circle cx="1087.9" cy="1423.9" r="4.7"/><circle cx="1183.8" cy="1426.6" r="4.7"/><circle cx="1118.9" cy="1428.2" r="4.7"/><circle cx="1125.6" cy="1430.4" r="4.7"/><circle cx="1257.2" cy="1425.2" r="4.7"/><circle cx="1263.6" cy="1434" r="4.7"/><circle cx="1093.3" cy="1440.9" r="4.7"/><circle cx="1191.6" cy="1440.5" r="4.7"/><circle cx="1096.7" cy="1450.4" r="4.7"/><circle cx="1114.8" cy="1449.5" r="4.7"/><circle cx="1141.5" cy="1447.7" r="4.7"/><circle cx="1151.3" cy="1446.8" r="4.7"/><circle cx="1128" cy="1464.6" r="4.7"/><circle cx="1131" cy="1467.7" r="4.7"/><circle cx="1079.4" cy="1471.2" r="4.7"/><circle cx="1286.1" cy="1474.7" r="4.7"/><circle cx="1100" cy="1483.1" r="4.7"/><circle cx="1185.5" cy="1483.3" r="4.7"/><circle cx="1101.8" cy="1498.6" r="4.7"/><circle cx="1136.8" cy="1504.3" r="4.7"/><circle cx="1090.3" cy="1518.8" r="4.7"/><circle cx="1120.9" cy="1522.1" r="4.7"/><circle cx="1278.1" cy="1520.2" r="4.7"/><circle cx="1294.4" cy="1488.5" r="4.7"/><circle cx="1303.4" cy="1496.1" r="4.7"/><circle cx="1312.9" cy="1449.2" r="4.7"/><circle cx="1322.7" cy="1458.1" r="4.7"/><circle cx="1332.7" cy="1407.5" r="4.7"/><circle cx="1341.9" cy="1413.3" r="4.7"/><circle cx="1351.9" cy="1361.7" r="4.7"/><circle cx="1362.6" cy="1410.5" r="4.7"/><circle cx="1374.5" cy="1442.7" r="4.7"/><circle cx="1388" cy="1444.1" r="4.7"/><circle cx="1400.7" cy="1438.1" r="4.7"/><circle cx="1411.8" cy="1482.5" r="4.7"/><circle cx="1422.6" cy="1450.7" r="4.7"/><circle cx="1434.9" cy="1411.8" r="4.7"/><circle cx="1447.6" cy="1405.6" r="4.7"/><circle cx="1459.4" cy="1447.2" r="4.7"/><circle cx="1470.8" cy="1412.6" r="4.7"/><circle cx="1483.8" cy="1441.4" r="4.7"/><circle cx="1498.4" cy="1385.1" r="4.7"/><circle cx="1511.9" cy="1374.5" r="4.7"/><circle cx="1523.5" cy="1352.6" r="4.7"/><circle cx="1533.7" cy="1375.4" r="4.7"/><circle cx="1540.7" cy="1389.8" r="4.7"/><circle cx="1547.9" cy="1398.6" r="4.7"/><circle cx="1556.1" cy="1321.6" r="4.7"/><circle cx="1566" cy="1405.4" r="4.7"/><circle cx="1575.5" cy="1388" r="4.7"/><circle cx="1584.6" cy="1460.6" r="4.7"/><circle cx="1596.6" cy="1374.5" r="4.7"/><circle cx="1608.2" cy="1339.6" r="4.7"/><circle cx="1616.1" cy="1312.5" r="4.7"/><circle cx="1624.2" cy="1390.7" r="4.7"/><circle cx="1635" cy="1350.8" r="4.7"/><circle cx="1645.9" cy="1301.4" r="4.7"/><circle cx="1656.8" cy="1361.3" r="4.7"/><circle cx="1667.4" cy="1364.5" r="4.7"/><circle cx="1678.4" cy="1339.6" r="4.7"/><circle cx="1688.6" cy="1406.1" r="4.7"/><circle cx="1698.5" cy="1334.5" r="4.7"/><circle cx="1709.5" cy="1343.6" r="4.7"/><circle cx="1720.4" cy="1443.4" r="4.7"/><circle cx="1732.5" cy="1381" r="4.7"/><circle cx="1741.7" cy="1351.2" r="4.7"/><circle cx="1756.4" cy="1342" r="4.7"/><circle cx="1766.6" cy="1328.9" r="4.7"/><circle cx="1778.9" cy="1290.4" r="4.7"/><circle cx="1797.3" cy="1260" r="4.7"/><circle cx="1817.5" cy="1308.5" r="4.7"/>
</g>
<g fill="#ff0000">
<circle cx="1072.4" cy="1406.4" r="4.7"/><circle cx="1073.8" cy="1396.3" r="4.7"/><circle cx="1075.4" cy="1401" r="4.7"/><circle cx="1077.3" cy="1392.3" r="4.7"/><circle cx="1079.8" cy="1402.4" r="4.7"/><circle cx="1081.4" cy="1413.1" r="4.7"/><circle cx="1083.5" cy="1418.5" r="4.7"/><circle cx="1085.9" cy="1421.9" r="4.7"/><circle cx="1088" cy="1417.2" r="4.7"/><circle cx="1090.6" cy="1411.1" r="4.7"/><circle cx="1092.6" cy="1411.8" r="4.7"/><circle cx="1094.6" cy="1426.6" r="4.7"/><circle cx="1096.7" cy="1421.9" r="4.7"/><circle cx="1098.7" cy="1423.2" r="4.7"/><circle cx="1100.7" cy="1433.3" r="4.7"/><circle cx="1103.4" cy="1427.9" r="4.7"/><circle cx="1106.1" cy="1433.3" r="4.7"/><circle cx="1108.4" cy="1436.7" r="4.7"/><circle cx="1110.8" cy="1432" r="4.7"/><circle cx="1114.2" cy="1432.7" r="4.7"/><circle cx="1116.9" cy="1430.6" r="4.7"/><circle cx="1118.9" cy="1438.7" r="4.7"/><circle cx="1121.2" cy="1443.4" r="4.7"/><circle cx="1123.2" cy="1450.2" r="4.7"/><circle cx="1125.6" cy="1454.9" r="4.7"/><circle cx="1128.3" cy="1452.9" r="4.7"/><circle cx="1131" cy="1455.3" r="4.7"/><circle cx="1134" cy="1441.4" r="4.7"/><circle cx="1137.1" cy="1438.7" r="4.7"/><circle cx="1139.4" cy="1432.7" r="4.7"/><circle cx="1141.5" cy="1425.2" r="4.7"/><circle cx="1143.5" cy="1417.2" r="4.7"/><circle cx="1145" cy="1417.8" r="4.7"/><circle cx="1146.5" cy="1404.4" r="4.7"/><circle cx="1148.1" cy="1395.6" r="4.7"/><circle cx="1149.6" cy="1386.6" r="4.7"/><circle cx="1151.3" cy="1376.1" r="4.7"/><circle cx="1153.4" cy="1379.5" r="4.7"/><circle cx="1155.9" cy="1380.8" r="4.7"/><circle cx="1158.3" cy="1377.4" r="4.7"/><circle cx="1160.6" cy="1370" r="4.7"/><circle cx="1163.3" cy="1361.3" r="4.7"/><circle cx="1165.6" cy="1356.6" r="4.7"/><circle cx="1167.6" cy="1352.5" r="4.7"/><circle cx="1169.7" cy="1351.2" r="4.7"/><circle cx="1172.1" cy="1353.9" r="4.7"/><circle cx="1174.8" cy="1357.2" r="4.7"/><circle cx="1176.8" cy="1368" r="4.7"/><circle cx="1179.1" cy="1372.1" r="4.7"/><circle cx="1181.5" cy="1378.8" r="4.7"/><circle cx="1183.8" cy="1383.5" r="4.7"/><circle cx="1185.5" cy="1386.9" r="4.7"/><circle cx="1186.9" cy="1394.9" r="4.7"/><circle cx="1188.6" cy="1399.7" r="4.7"/><circle cx="1189.6" cy="1403.7" r="4.7"/><circle cx="1188.9" cy="1409.8" r="4.7"/><circle cx="1190.3" cy="1386.2" r="4.7"/><circle cx="1191.6" cy="1380.1" r="4.7"/><circle cx="1193.4" cy="1374.1" r="4.7"/><circle cx="1194.7" cy="1367.3" r="4.7"/><circle cx="1197.7" cy="1370" r="4.7"/><circle cx="1199.7" cy="1375.4" r="4.7"/><circle cx="1203" cy="1372.7" r="4.7"/><circle cx="1206.5" cy="1378.1" r="4.7"/><circle cx="1210.7" cy="1385.5" r="4.7"/><circle cx="1215.2" cy="1388.9" r="4.7"/><circle cx="1219.9" cy="1386.9" r="4.7"/><circle cx="1224.2" cy="1389.6" r="4.7"/><circle cx="1229.3" cy="1396.3" r="4.7"/><circle cx="1234" cy="1398.3" r="4.7"/><circle cx="1238.7" cy="1398.3" r="4.7"/><circle cx="1243.4" cy="1399" r="4.7"/><circle cx="1247.5" cy="1397.6" r="4.7"/><circle cx="1251.8" cy="1412" r="4.7"/><circle cx="1257.2" cy="1423.2" r="4.7"/><circle cx="1263.6" cy="1437.1" r="4.7"/><circle cx="1270.8" cy="1449.5" r="4.7"/><circle cx="1278.1" cy="1455.5" r="4.7"/><circle cx="1286.1" cy="1460.7" r="4.7"/><circle cx="1294.4" cy="1458.8" r="4.7"/><circle cx="1303.4" cy="1456.4" r="4.7"/><circle cx="1312.9" cy="1451.8" r="4.7"/><circle cx="1322.7" cy="1440" r="4.7"/><circle cx="1332.7" cy="1436.2" r="4.7"/><circle cx="1341.9" cy="1431.3" r="4.7"/><circle cx="1351.9" cy="1425.1" r="4.7"/><circle cx="1362.6" cy="1429" r="4.7"/><circle cx="1374.5" cy="1427.9" r="4.7"/><circle cx="1388" cy="1428.4" r="4.7"/><circle cx="1400.7" cy="1427.2" r="4.7"/><circle cx="1411.8" cy="1436.9" r="4.7"/><circle cx="1422.6" cy="1437" r="4.7"/><circle cx="1434.9" cy="1437" r="4.7"/><circle cx="1447.6" cy="1430.5" r="4.7"/><circle cx="1459.4" cy="1423.5" r="4.7"/><circle cx="1470.8" cy="1409.1" r="4.7"/><circle cx="1483.8" cy="1400.9" r="4.7"/><circle cx="1498.4" cy="1398.1" r="4.7"/><circle cx="1511.9" cy="1397.4" r="4.7"/><circle cx="1523.5" cy="1383.3" r="4.7"/><circle cx="1533.7" cy="1382.1" r="4.7"/><circle cx="1540.7" cy="1377" r="4.7"/><circle cx="1547.9" cy="1385.1" r="4.7"/><circle cx="1556.1" cy="1384.9" r="4.7"/><circle cx="1566" cy="1384" r="4.7"/><circle cx="1575.5" cy="1376.6" r="4.7"/><circle cx="1584.6" cy="1376.1" r="4.7"/><circle cx="1596.6" cy="1371.4" r="4.7"/><circle cx="1608.2" cy="1369.2" r="4.7"/><circle cx="1616.1" cy="1364" r="4.7"/><circle cx="1624.2" cy="1361.7" r="4.7"/><circle cx="1635" cy="1348" r="4.7"/><circle cx="1645.9" cy="1351.7" r="4.7"/><circle cx="1656.8" cy="1351.2" r="4.7"/><circle cx="1667.4" cy="1354.7" r="4.7"/><circle cx="1678.4" cy="1360.6" r="4.7"/><circle cx="1688.6" cy="1363.8" r="4.7"/><circle cx="1698.5" cy="1368.7" r="4.7"/><circle cx="1709.5" cy="1367" r="4.7"/><circle cx="1720.4" cy="1363.1" r="4.7"/><circle cx="1732.5" cy="1357.8" r="4.7"/><circle cx="1741.7" cy="1341.5" r="4.7"/><circle cx="1756.4" cy="1338.5" r="4.7"/>
</g>
<line x1="1071.2" y1="1416" x2="1755.8" y2="1368.8" stroke="#000" stroke-width="5.2" stroke-linecap="round"/>
<g fill="#0000ff">
<circle cx="1278.1" cy="1678.1" r="4.7"/><circle cx="1187.2" cy="1681.1" r="4.7"/><circle cx="1185.5" cy="1686.2" r="4.7"/><circle cx="1183.8" cy="1696.3" r="4.7"/><circle cx="1234" cy="1701.7" r="4.7"/><circle cx="1165.3" cy="1702.2" r="4.7"/><circle cx="1181.5" cy="1705.7" r="4.7"/><circle cx="1155.9" cy="1706.9" r="4.7"/><circle cx="1190.3" cy="1718.1" r="4.7"/><circle cx="1238.7" cy="1719.2" r="4.7"/><circle cx="1153.4" cy="1724.8" r="4.7"/><circle cx="1141.5" cy="1727.1" r="4.7"/><circle cx="1210.7" cy="1728.9" r="4.7"/><circle cx="1191.6" cy="1731.3" r="4.7"/><circle cx="1263.6" cy="1732.6" r="4.7"/><circle cx="1162.9" cy="1736.4" r="4.7"/><circle cx="1151.3" cy="1739.2" r="4.7"/><circle cx="1176.8" cy="1739.4" r="4.7"/><circle cx="1199.9" cy="1739" r="4.7"/><circle cx="1270.8" cy="1739.6" r="4.7"/><circle cx="1096.7" cy="1745.3" r="4.7"/><circle cx="1251.8" cy="1746.4" r="4.7"/><circle cx="1118.9" cy="1752" r="4.7"/><circle cx="1128" cy="1756.1" r="4.7"/><circle cx="1243.4" cy="1754.5" r="4.7"/><circle cx="1136.8" cy="1759.4" r="4.7"/><circle cx="1257.2" cy="1757.6" r="4.7"/><circle cx="1098.7" cy="1758.9" r="4.7"/><circle cx="1110.5" cy="1760.5" r="4.7"/><circle cx="1102.1" cy="1761.9" r="4.7"/><circle cx="1079.4" cy="1763.5" r="4.7"/><circle cx="1096.7" cy="1763.5" r="4.7"/><circle cx="1190.5" cy="1760.8" r="4.7"/><circle cx="1166.7" cy="1755.8" r="4.7"/><circle cx="1196.7" cy="1767.3" r="4.7"/><circle cx="1172.7" cy="1767" r="4.7"/><circle cx="1286.1" cy="1768.6" r="4.7"/><circle cx="1086.2" cy="1771.6" r="4.7"/><circle cx="1150.5" cy="1769.9" r="4.7"/><circle cx="1069.1" cy="1774" r="4.7"/><circle cx="1131" cy="1775.1" r="4.7"/><circle cx="1143.5" cy="1774.7" r="4.7"/><circle cx="1179.1" cy="1772.6" r="4.7"/><circle cx="1229.3" cy="1772.9" r="4.7"/><circle cx="1077.3" cy="1779.6" r="4.7"/><circle cx="1247.5" cy="1779.1" r="4.7"/><circle cx="1224.2" cy="1779.6" r="4.7"/><circle cx="1188.2" cy="1782.1" r="4.7"/><circle cx="1095.3" cy="1786.1" r="4.7"/><circle cx="1219.9" cy="1785.2" r="4.7"/><circle cx="1188.2" cy="1787.5" r="4.7"/><circle cx="1089.9" cy="1790.8" r="4.7"/><circle cx="1121.2" cy="1793.9" r="4.7"/><circle cx="1203" cy="1795.5" r="4.7"/><circle cx="1126.3" cy="1798.2" r="4.7"/><circle cx="1169.7" cy="1799.8" r="4.7"/><circle cx="1192.9" cy="1799.8" r="4.7"/><circle cx="1148.1" cy="1801.2" r="4.7"/><circle cx="1102.1" cy="1796.9" r="4.7"/><circle cx="1088" cy="1802.3" r="4.7"/><circle cx="1096.7" cy="1798.9" r="4.7"/><circle cx="1215.2" cy="1806.3" r="4.7"/><circle cx="1106.1" cy="1807" r="4.7"/><circle cx="1108.4" cy="1809.7" r="4.7"/><circle cx="1092" cy="1811" r="4.7"/><circle cx="1080.5" cy="1811.7" r="4.7"/><circle cx="1100" cy="1812.4" r="4.7"/><circle cx="1158.3" cy="1811.4" r="4.7"/><circle cx="1146.5" cy="1813.7" r="4.7"/><circle cx="1112.8" cy="1819.5" r="4.7"/><circle cx="1116.9" cy="1823.5" r="4.7"/><circle cx="1114.8" cy="1827.9" r="4.7"/><circle cx="1206.5" cy="1826.5" r="4.7"/><circle cx="1174.5" cy="1830.3" r="4.7"/><circle cx="1075.4" cy="1840" r="4.7"/><circle cx="1139.4" cy="1852.5" r="4.7"/><circle cx="1145" cy="1857.5" r="4.7"/><circle cx="1194.7" cy="1867.4" r="4.7"/><circle cx="1123.2" cy="1871.6" r="4.7"/><circle cx="1093.3" cy="1883.7" r="4.7"/><circle cx="1134" cy="1888" r="4.7"/><circle cx="1083.5" cy="1894.2" r="4.7"/><circle cx="1303.4" cy="1782.5" r="4.7"/><circle cx="1312.9" cy="1796.2" r="4.7"/><circle cx="1322.7" cy="1800.9" r="4.7"/><circle cx="1332.7" cy="1804.3" r="4.7"/><circle cx="1341.9" cy="1738.6" r="4.7"/><circle cx="1351.9" cy="1710.5" r="4.7"/><circle cx="1362.6" cy="1710.5" r="4.7"/><circle cx="1374.5" cy="1728" r="4.7"/><circle cx="1388" cy="1728.9" r="4.7"/><circle cx="1400.7" cy="1706.4" r="4.7"/><circle cx="1422.6" cy="1741.2" r="4.7"/><circle cx="1434.9" cy="1776.2" r="4.7"/><circle cx="1447.6" cy="1795.1" r="4.7"/><circle cx="1459.4" cy="1757" r="4.7"/><circle cx="1470.8" cy="1755.3" r="4.7"/><circle cx="1483.8" cy="1710.1" r="4.7"/><circle cx="1498.4" cy="1751.9" r="4.7"/><circle cx="1511.9" cy="1760" r="4.7"/><circle cx="1523.5" cy="1712.6" r="4.7"/><circle cx="1533.7" cy="1684.1" r="4.7"/><circle cx="1540.7" cy="1741.9" r="4.7"/><circle cx="1547.9" cy="1761.9" r="4.7"/><circle cx="1556.1" cy="1755.6" r="4.7"/><circle cx="1566" cy="1655.1" r="4.7"/><circle cx="1575.5" cy="1761.4" r="4.7"/><circle cx="1596.6" cy="1704.3" r="4.7"/><circle cx="1608.2" cy="1693.8" r="4.7"/><circle cx="1616.1" cy="1751.2" r="4.7"/><circle cx="1624.2" cy="1646" r="4.7"/><circle cx="1635" cy="1743" r="4.7"/><circle cx="1645.9" cy="1644.4" r="4.7"/><circle cx="1656.8" cy="1644.3" r="4.7"/><circle cx="1667.4" cy="1714.3" r="4.7"/><circle cx="1678.4" cy="1700.5" r="4.7"/><circle cx="1688.6" cy="1705.6" r="4.7"/><circle cx="1698.5" cy="1695.5" r="4.7"/><circle cx="1709.5" cy="1678" r="4.7"/><circle cx="1720.4" cy="1680.1" r="4.7"/><circle cx="1732.5" cy="1717.1" r="4.7"/><circle cx="1741.7" cy="1670.2" r="4.7"/><circle cx="1756.4" cy="1674.5" r="4.7"/><circle cx="1766.6" cy="1676.7" r="4.7"/><circle cx="1778.9" cy="1670.6" r="4.7"/><circle cx="1797.3" cy="1704.3" r="4.7"/><circle cx="1817.5" cy="1691.1" r="4.7"/>
</g>
<g fill="#ff0000">
<circle cx="1072.4" cy="1784.8" r="4.7"/><circle cx="1073.8" cy="1788.8" r="4.7"/><circle cx="1074.4" cy="1801.6" r="4.7"/><circle cx="1077.3" cy="1802.9" r="4.7"/><circle cx="1079.8" cy="1805.6" r="4.7"/><circle cx="1081.9" cy="1808.3" r="4.7"/><circle cx="1084.5" cy="1811.7" r="4.7"/><circle cx="1086.2" cy="1813.7" r="4.7"/><circle cx="1088" cy="1815.1" r="4.7"/><circle cx="1090.3" cy="1816.4" r="4.7"/><circle cx="1092.6" cy="1815.1" r="4.7"/><circle cx="1093.3" cy="1798.2" r="4.7"/><circle cx="1095.3" cy="1796.2" r="4.7"/><circle cx="1096.7" cy="1788.8" r="4.7"/><circle cx="1097.6" cy="1779.4" r="4.7"/><circle cx="1102.1" cy="1779.4" r="4.7"/><circle cx="1100.7" cy="1786.8" r="4.7"/><circle cx="1104.1" cy="1788.1" r="4.7"/><circle cx="1105.4" cy="1794.9" r="4.7"/><circle cx="1108.4" cy="1796.9" r="4.7"/><circle cx="1107.4" cy="1802.3" r="4.7"/><circle cx="1110.8" cy="1796.2" r="4.7"/><circle cx="1112.8" cy="1801.6" r="4.7"/><circle cx="1114.8" cy="1807" r="4.7"/><circle cx="1116.9" cy="1803.6" r="4.7"/><circle cx="1118.9" cy="1800.2" r="4.7"/><circle cx="1121.2" cy="1804.3" r="4.7"/><circle cx="1123.2" cy="1809.7" r="4.7"/><circle cx="1125.6" cy="1802.3" r="4.7"/><circle cx="1128.3" cy="1805.6" r="4.7"/><circle cx="1131" cy="1803.6" r="4.7"/><circle cx="1134" cy="1800.9" r="4.7"/><circle cx="1137.1" cy="1798.9" r="4.7"/><circle cx="1139.4" cy="1800.2" r="4.7"/><circle cx="1141.5" cy="1805.6" r="4.7"/><circle cx="1143.5" cy="1804.3" r="4.7"/><circle cx="1145" cy="1788.8" r="4.7"/><circle cx="1148.1" cy="1784.8" r="4.7"/><circle cx="1149.6" cy="1776" r="4.7"/><circle cx="1151.3" cy="1774.7" r="4.7"/><circle cx="1148.1" cy="1767.9" r="4.7"/><circle cx="1153.4" cy="1761.6" r="4.7"/><circle cx="1155.9" cy="1748.8" r="4.7"/><circle cx="1158.3" cy="1744" r="4.7"/><circle cx="1160.6" cy="1747.1" r="4.7"/><circle cx="1163.3" cy="1750.4" r="4.7"/><circle cx="1165.3" cy="1762.5" r="4.7"/><circle cx="1167.6" cy="1765.2" r="4.7"/><circle cx="1169.7" cy="1761.2" r="4.7"/><circle cx="1172.1" cy="1756.5" r="4.7"/><circle cx="1174.8" cy="1752.4" r="4.7"/><circle cx="1176.8" cy="1750.4" r="4.7"/><circle cx="1179.1" cy="1741.7" r="4.7"/><circle cx="1181.5" cy="1740.7" r="4.7"/><circle cx="1183.8" cy="1742.6" r="4.7"/><circle cx="1194.3" cy="1778.7" r="4.7"/><circle cx="1197.7" cy="1780.7" r="4.7"/><circle cx="1199.9" cy="1785.4" r="4.7"/><circle cx="1203" cy="1790.8" r="4.7"/><circle cx="1206.5" cy="1788.1" r="4.7"/><circle cx="1210.7" cy="1778" r="4.7"/><circle cx="1215.2" cy="1769.9" r="4.7"/><circle cx="1219.9" cy="1767.3" r="4.7"/><circle cx="1224.2" cy="1763.2" r="4.7"/><circle cx="1229.3" cy="1758.5" r="4.7"/><circle cx="1234" cy="1760.5" r="4.7"/><circle cx="1238.7" cy="1755.1" r="4.7"/><circle cx="1243.4" cy="1749.1" r="4.7"/><circle cx="1247.5" cy="1744.4" r="4.7"/><circle cx="1251.8" cy="1734" r="4.7"/><circle cx="1257.2" cy="1741.3" r="4.7"/><circle cx="1263.6" cy="1746.1" r="4.7"/><circle cx="1270.8" cy="1749.3" r="4.7"/><circle cx="1278.1" cy="1751.1" r="4.7"/><circle cx="1286.1" cy="1757.2" r="4.7"/><circle cx="1294.4" cy="1762.6" r="4.7"/><circle cx="1303.4" cy="1763.2" r="4.7"/><circle cx="1312.9" cy="1760.2" r="4.7"/><circle cx="1322.7" cy="1763.2" r="4.7"/><circle cx="1332.7" cy="1758.8" r="4.7"/><circle cx="1341.9" cy="1755.8" r="4.7"/><circle cx="1351.9" cy="1747" r="4.7"/><circle cx="1362.6" cy="1741.2" r="4.7"/><circle cx="1374.5" cy="1734.2" r="4.7"/><circle cx="1388" cy="1731.2" r="4.7"/><circle cx="1400.7" cy="1737.7" r="4.7"/><circle cx="1411.8" cy="1743" r="4.7"/><circle cx="1422.6" cy="1747.7" r="4.7"/><circle cx="1434.9" cy="1746" r="4.7"/><circle cx="1447.6" cy="1748.2" r="4.7"/><circle cx="1459.4" cy="1753.9" r="4.7"/><circle cx="1470.8" cy="1751" r="4.7"/><circle cx="1483.8" cy="1744.4" r="4.7"/><circle cx="1498.4" cy="1740.9" r="4.7"/><circle cx="1511.9" cy="1737.2" r="4.7"/><circle cx="1523.5" cy="1737.2" r="4.7"/><circle cx="1533.7" cy="1725.9" r="4.7"/><circle cx="1540.7" cy="1731.5" r="4.7"/><circle cx="1547.9" cy="1727.3" r="4.7"/><circle cx="1556.1" cy="1721.5" r="4.7"/><circle cx="1566" cy="1719.3" r="4.7"/><circle cx="1575.5" cy="1726.8" r="4.7"/><circle cx="1584.6" cy="1716.1" r="4.7"/><circle cx="1596.6" cy="1714" r="4.7"/><circle cx="1608.2" cy="1701.3" r="4.7"/><circle cx="1616.1" cy="1699.8" r="4.7"/><circle cx="1624.2" cy="1694.8" r="4.7"/><circle cx="1635" cy="1693.4" r="4.7"/><circle cx="1645.9" cy="1693.6" r="4.7"/><circle cx="1656.8" cy="1693.4" r="4.7"/><circle cx="1667.4" cy="1685.5" r="4.7"/><circle cx="1678.4" cy="1689" r="4.7"/><circle cx="1688.6" cy="1686.6" r="4.7"/><circle cx="1698.5" cy="1688.9" r="4.7"/><circle cx="1709.5" cy="1693.3" r="4.7"/><circle cx="1720.4" cy="1688.5" r="4.7"/><circle cx="1732.5" cy="1684.8" r="4.7"/><circle cx="1741.7" cy="1684.7" r="4.7"/><circle cx="1756.4" cy="1684.7" r="4.7"/>
</g>
<line x1="1071.2" y1="1794.4" x2="1755.8" y2="1683.3" stroke="#000" stroke-width="5.2" stroke-linecap="round"/>
<g fill="#0000ff">
<circle cx="1199.7" cy="2036.5" r="4.7"/><circle cx="1095.7" cy="2058.1" r="4.7"/><circle cx="1165.3" cy="2062.4" r="4.7"/><circle cx="1181.5" cy="2069.9" r="4.7"/><circle cx="1160.6" cy="2074.5" r="4.7"/><circle cx="1203" cy="2076.4" r="4.7"/><circle cx="1139.4" cy="2078" r="4.7"/><circle cx="1145.1" cy="2079.4" r="4.7"/><circle cx="1179.5" cy="2079.6" r="4.7"/><circle cx="1104.1" cy="2081.5" r="4.7"/><circle cx="1270.8" cy="2072.8" r="4.7"/><circle cx="1192" cy="2087.3" r="4.7"/><circle cx="1169.7" cy="2098.6" r="4.7"/><circle cx="1134" cy="2104.7" r="4.7"/><circle cx="1070.4" cy="2118.4" r="4.7"/><circle cx="1079.4" cy="2118.7" r="4.7"/><circle cx="1191.6" cy="2128.8" r="4.7"/><circle cx="1081.4" cy="2137.5" r="4.7"/><circle cx="1090.3" cy="2141.2" r="4.7"/><circle cx="1131" cy="2139.6" r="4.7"/><circle cx="1177.1" cy="2137.5" r="4.7"/><circle cx="1263.6" cy="2139.8" r="4.7"/><circle cx="1224.2" cy="2144.7" r="4.7"/><circle cx="1096.7" cy="2148.7" r="4.7"/><circle cx="1153.4" cy="2153" r="4.7"/><circle cx="1219.9" cy="2152.8" r="4.7"/><circle cx="1251.8" cy="2151.8" r="4.7"/><circle cx="1125.6" cy="2155.5" r="4.7"/><circle cx="1174.8" cy="2156" r="4.7"/><circle cx="1114.8" cy="2167.6" r="4.7"/><circle cx="1077.3" cy="2168.9" r="4.7"/><circle cx="1141.5" cy="2168.9" r="4.7"/><circle cx="1167.4" cy="2172.3" r="4.7"/><circle cx="1172.3" cy="2173.2" r="4.7"/><circle cx="1083.9" cy="2173.9" r="4.7"/><circle cx="1128.3" cy="2180.2" r="4.7"/><circle cx="1122.3" cy="2179.6" r="4.7"/><circle cx="1088" cy="2183.1" r="4.7"/><circle cx="1143.5" cy="2182.7" r="4.7"/><circle cx="1095.3" cy="2182.7" r="4.7"/><circle cx="1075.1" cy="2183.3" r="4.7"/><circle cx="1121.2" cy="2193.8" r="4.7"/><circle cx="1149.9" cy="2191.4" r="4.7"/><circle cx="1109.5" cy="2190.1" r="4.7"/><circle cx="1098.7" cy="2202.2" r="4.7"/><circle cx="1116.9" cy="2204.2" r="4.7"/><circle cx="1158.3" cy="2205.8" r="4.7"/><circle cx="1100.4" cy="2207.6" r="4.7"/><circle cx="1096.3" cy="2210.9" r="4.7"/><circle cx="1093.3" cy="2216.3" r="4.7"/><circle cx="1113.1" cy="2217.7" r="4.7"/><circle cx="1073.5" cy="2220.6" r="4.7"/><circle cx="1257.2" cy="2218.3" r="4.7"/><circle cx="1097.6" cy="2226.7" r="4.7"/><circle cx="1155.9" cy="2226.8" r="4.7"/><circle cx="1286.1" cy="2228.4" r="4.7"/><circle cx="1190.3" cy="2233.3" r="4.7"/><circle cx="1106.1" cy="2235.3" r="4.7"/><circle cx="1151.3" cy="2243" r="4.7"/><circle cx="1148.1" cy="2248.4" r="4.7"/><circle cx="1069.1" cy="2247.3" r="4.7"/><circle cx="1085.9" cy="2253.1" r="4.7"/><circle cx="1247.5" cy="2255.1" r="4.7"/><circle cx="1234" cy="2262.2" r="4.7"/><circle cx="1278.3" cy="2014.9" r="4.7"/><circle cx="1294.4" cy="2009.9" r="4.7"/><circle cx="1303.4" cy="2095.1" r="4.7"/><circle cx="1312.9" cy="2041.9" r="4.7"/><circle cx="1322.7" cy="2121.1" r="4.7"/><circle cx="1332.7" cy="2008.9" r="4.7"/><circle cx="1341.9" cy="2105.3" r="4.7"/><circle cx="1351.9" cy="2148.4" r="4.7"/><circle cx="1362.6" cy="2076.2" r="4.7"/><circle cx="1374.5" cy="1925.5" r="4.7"/><circle cx="1388" cy="2049.1" r="4.7"/><circle cx="1400.7" cy="2151.5" r="4.7"/><circle cx="1411.8" cy="2124.5" r="4.7"/><circle cx="1422.6" cy="2005.4" r="4.7"/><circle cx="1434.9" cy="1998.9" r="4.7"/><circle cx="1459.4" cy="1963.2" r="4.7"/><circle cx="1470.8" cy="2074.1" r="4.7"/><circle cx="1498.4" cy="2170.8" r="4.7"/><circle cx="1511.9" cy="2074.6" r="4.7"/><circle cx="1533.7" cy="2046" r="4.7"/><circle cx="1540.7" cy="1956" r="4.7"/><circle cx="1547.9" cy="1992.7" r="4.7"/><circle cx="1556.1" cy="1957.4" r="4.7"/><circle cx="1566" cy="2132.2" r="4.7"/><circle cx="1575.5" cy="1955.5" r="4.7"/><circle cx="1596.6" cy="2047" r="4.7"/><circle cx="1608.2" cy="1998.9" r="4.7"/><circle cx="1616.1" cy="1944.1" r="4.7"/><circle cx="1624.2" cy="1963" r="4.7"/><circle cx="1635" cy="1964.8" r="4.7"/><circle cx="1645.9" cy="1989.7" r="4.7"/><circle cx="1656.8" cy="2113.9" r="4.7"/><circle cx="1667.4" cy="2132.5" r="4.7"/><circle cx="1678.4" cy="1976.6" r="4.7"/><circle cx="1688.6" cy="1988.3" r="4.7"/><circle cx="1698.5" cy="2014.3" r="4.7"/><circle cx="1709.5" cy="2032.6" r="4.7"/><circle cx="1720.4" cy="2057.7" r="4.7"/><circle cx="1732.5" cy="1950.8" r="4.7"/><circle cx="1741.7" cy="2024.7" r="4.7"/><circle cx="1756.4" cy="2001.2" r="4.7"/><circle cx="1766.6" cy="2066.5" r="4.7"/><circle cx="1797.3" cy="2005.4" r="4.7"/><circle cx="1817.5" cy="2005.2" r="4.7"/><circle cx="1215.5" cy="1967.7" r="4.7"/><circle cx="1243.9" cy="1987.4" r="4.7"/><circle cx="1229.3" cy="2000" r="4.7"/><circle cx="1092.5" cy="2008.1" r="4.7"/><circle cx="1239.2" cy="2013" r="4.7"/>
</g>
<g fill="#ff0000">
<circle cx="1072.4" cy="2182" r="4.7"/><circle cx="1074.4" cy="2176.6" r="4.7"/><circle cx="1077.3" cy="2178.6" r="4.7"/><circle cx="1079.4" cy="2184.7" r="4.7"/><circle cx="1081.4" cy="2174.6" r="4.7"/><circle cx="1083.5" cy="2152.1" r="4.7"/><circle cx="1085.9" cy="2155.7" r="4.7"/><circle cx="1088" cy="2152.4" r="4.7"/><circle cx="1090.3" cy="2150.3" r="4.7"/><circle cx="1092.6" cy="2152.4" r="4.7"/><circle cx="1095.3" cy="2154.4" r="4.7"/><circle cx="1096.7" cy="2163.1" r="4.7"/><circle cx="1097.6" cy="2167.8" r="4.7"/><circle cx="1098.7" cy="2172.6" r="4.7"/><circle cx="1096.3" cy="2182.7" r="4.7"/><circle cx="1099.4" cy="2187.4" r="4.7"/><circle cx="1102.1" cy="2184.7" r="4.7"/><circle cx="1104.1" cy="2192.8" r="4.7"/><circle cx="1106.1" cy="2186.7" r="4.7"/><circle cx="1108.4" cy="2186" r="4.7"/><circle cx="1110.8" cy="2182.7" r="4.7"/><circle cx="1113.5" cy="2184.7" r="4.7"/><circle cx="1114.8" cy="2194.8" r="4.7"/><circle cx="1116.9" cy="2185.3" r="4.7"/><circle cx="1118.9" cy="2186" r="4.7"/><circle cx="1121.2" cy="2179.6" r="4.7"/><circle cx="1123.2" cy="2167.6" r="4.7"/><circle cx="1146.5" cy="2169.6" r="4.7"/><circle cx="1148.1" cy="2186" r="4.7"/><circle cx="1149.6" cy="2190.1" r="4.7"/><circle cx="1151.3" cy="2178.6" r="4.7"/><circle cx="1153.4" cy="2185.7" r="4.7"/><circle cx="1155.9" cy="2172.3" r="4.7"/><circle cx="1158.3" cy="2163.8" r="4.7"/><circle cx="1160.6" cy="2153.4" r="4.7"/><circle cx="1163.3" cy="2145.4" r="4.7"/><circle cx="1165.6" cy="2145.6" r="4.7"/><circle cx="1167.6" cy="2135.1" r="4.7"/><circle cx="1169.7" cy="2122.1" r="4.7"/><circle cx="1172.3" cy="2121.4" r="4.7"/><circle cx="1194.7" cy="2080" r="4.7"/><circle cx="1196.7" cy="2088.7" r="4.7"/><circle cx="1199.7" cy="2039.2" r="4.7"/><circle cx="1203" cy="2041.9" r="4.7"/><circle cx="1206.5" cy="2048.4" r="4.7"/><circle cx="1210.7" cy="2039" r="4.7"/><circle cx="1215.2" cy="2079.6" r="4.7"/><circle cx="1219.9" cy="2076.9" r="4.7"/><circle cx="1224.2" cy="2067.1" r="4.7"/><circle cx="1229.3" cy="2122.1" r="4.7"/><circle cx="1234" cy="2103.9" r="4.7"/><circle cx="1238.7" cy="2131.5" r="4.7"/><circle cx="1243.4" cy="2130.4" r="4.7"/><circle cx="1247.5" cy="2122.1" r="4.7"/><circle cx="1251.8" cy="2124.1" r="4.7"/><circle cx="1257.2" cy="2120" r="4.7"/><circle cx="1263.6" cy="2119.8" r="4.7"/><circle cx="1270.8" cy="2131.8" r="4.7"/><circle cx="1278.1" cy="2108.2" r="4.7"/><circle cx="1286.1" cy="2105.5" r="4.7"/><circle cx="1294.4" cy="2081.4" r="4.7"/><circle cx="1303.4" cy="2077.6" r="4.7"/><circle cx="1312.9" cy="2086" r="4.7"/><circle cx="1322.7" cy="2093" r="4.7"/><circle cx="1332.7" cy="2059.3" r="4.7"/><circle cx="1341.9" cy="2063.5" r="4.7"/><circle cx="1351.9" cy="2069.7" r="4.7"/><circle cx="1362.6" cy="2079" r="4.7"/><circle cx="1374.5" cy="2066.1" r="4.7"/><circle cx="1388" cy="2064.7" r="4.7"/><circle cx="1400.7" cy="2044.2" r="4.7"/><circle cx="1411.8" cy="2023.6" r="4.7"/><circle cx="1422.6" cy="2023.3" r="4.7"/><circle cx="1434.9" cy="2018.4" r="4.7"/><circle cx="1447.6" cy="2031.9" r="4.7"/><circle cx="1459.4" cy="2023.6" r="4.7"/><circle cx="1470.8" cy="2000.5" r="4.7"/><circle cx="1483.8" cy="2004.9" r="4.7"/><circle cx="1498.4" cy="2000.3" r="4.7"/><circle cx="1511.9" cy="2008.7" r="4.7"/><circle cx="1523.5" cy="2008.2" r="4.7"/><circle cx="1533.7" cy="2014.3" r="4.7"/><circle cx="1540.7" cy="2021.7" r="4.7"/><circle cx="1547.9" cy="1990.1" r="4.7"/><circle cx="1556.1" cy="1986.9" r="4.7"/><circle cx="1566" cy="1995.7" r="4.7"/><circle cx="1575.5" cy="1984.5" r="4.7"/><circle cx="1584.6" cy="1985.4" r="4.7"/><circle cx="1596.6" cy="1982.4" r="4.7"/><circle cx="1608.2" cy="1985.7" r="4.7"/><circle cx="1616.1" cy="1984.1" r="4.7"/><circle cx="1624.2" cy="2003.8" r="4.7"/><circle cx="1635" cy="2014.7" r="4.7"/><circle cx="1645.9" cy="2008.4" r="4.7"/><circle cx="1656.8" cy="2009.8" r="4.7"/><circle cx="1667.4" cy="2019.6" r="4.7"/><circle cx="1678.4" cy="2030" r="4.7"/><circle cx="1688.6" cy="2028.6" r="4.7"/><circle cx="1698.5" cy="2032.6" r="4.7"/><circle cx="1709.5" cy="2019.8" r="4.7"/><circle cx="1720.4" cy="2012.6" r="4.7"/><circle cx="1732.5" cy="2004.9" r="4.7"/><circle cx="1741.7" cy="2006.6" r="4.7"/><circle cx="1756.4" cy="2005.6" r="4.7"/>
</g>
<line x1="1071.2" y1="2166.9" x2="1755.8" y2="1959.3" stroke="#000" stroke-width="5.2" stroke-linecap="round"/>
<g stroke="#000" fill="none">
<path stroke-width="3" d="M1068.8 46.9V2298.7M1819.3 46.9V2298.7M1049.5 46.9H1838.6M1049.5 2298.7H1838.6" stroke-linecap="round"/>
<path stroke-width="3" stroke-linecap="round" d="M1049.5 109.45H1068.8M1819.3 109.45H1838.6M1049.5 172.00H1068.8M1819.3 172.00H1838.6M1049.5 234.55H1068.8M1819.3 234.55H1838.6M1049.5 297.10H1068.8M1819.3 297.10H1838.6M1049.5 359.65H1068.8M1819.3 359.65H1838.6M1049.5 422.20H1068.8M1819.3 422.20H1838.6M1049.5 484.75H1068.8M1819.3 484.75H1838.6M1049.5 547.30H1068.8M1819.3 547.30H1838.6M1049.5 609.85H1068.8M1819.3 609.85H1838.6M1049.5 672.40H1068.8M1819.3 672.40H1838.6M1049.5 734.95H1068.8M1819.3 734.95H1838.6M1049.5 797.50H1068.8M1819.3 797.50H1838.6M1049.5 860.05H1068.8M1819.3 860.05H1838.6M1049.5 922.60H1068.8M1819.3 922.60H1838.6M1049.5 985.15H1068.8M1819.3 985.15H1838.6M1049.5 1047.70H1068.8M1819.3 1047.70H1838.6M1049.5 1110.25H1068.8M1819.3 1110.25H1838.6M1049.5 1172.80H1068.8M1819.3 1172.80H1838.6M1049.5 1235.35H1068.8M1819.3 1235.35H1838.6M1049.5 1297.90H1068.8M1819.3 1297.90H1838.6M1049.5 1360.45H1068.8M1819.3 1360.45H1838.6M1049.5 1423.00H1068.8M1819.3 1423.00H1838.6M1049.5 1485.55H1068.8M1819.3 1485.55H1838.6M1049.5 1548.10H1068.8M1819.3 1548.10H1838.6M1049.5 1610.65H1068.8M1819.3 1610.65H1838.6M1049.5 1673.20H1068.8M1819.3 1673.20H1838.6M1049.5 1735.75H1068.8M1819.3 1735.75H1838.6M1049.5 1798.30H1068.8M1819.3 1798.30H1838.6M1049.5 1860.85H1068.8M1819.3 1860.85H1838.6M1049.5 1923.40H1068.8M1819.3 1923.40H1838.6M1049.5 1985.95H1068.8M1819.3 1985.95H1838.6M1049.5 2048.50H1068.8M1819.3 2048.50H1838.6M1049.5 2111.05H1068.8M1819.3 2111.05H1838.6M1049.5 2173.60H1068.8M1819.3 2173.60H1838.6M1049.5 2236.15H1068.8M1819.3 2236.15H1838.6M1162.58 2298.7V2317.3M1312.69 2298.7V2317.3M1462.82 2298.7V2317.3M1612.93 2298.7V2317.3M1763.06 2298.7V2317.3"/>
<path stroke-width="1.9" stroke-linecap="round" d="M1059 59.41H1068.8M1819.3 59.41H1829M1059 71.92H1068.8M1819.3 71.92H1829M1059 84.43H1068.8M1819.3 84.43H1829M1059 96.94H1068.8M1819.3 96.94H1829M1059 121.96H1068.8M1819.3 121.96H1829M1059 134.47H1068.8M1819.3 134.47H1829M1059 146.98H1068.8M1819.3 146.98H1829M1059 159.49H1068.8M1819.3 159.49H1829M1059 184.51H1068.8M1819.3 184.51H1829M1059 197.02H1068.8M1819.3 197.02H1829M1059 209.53H1068.8M1819.3 209.53H1829M1059 222.04H1068.8M1819.3 222.04H1829M1059 247.06H1068.8M1819.3 247.06H1829M1059 259.57H1068.8M1819.3 259.57H1829M1059 272.08H1068.8M1819.3 272.08H1829M1059 284.59H1068.8M1819.3 284.59H1829M1059 309.61H1068.8M1819.3 309.61H1829M1059 322.12H1068.8M1819.3 322.12H1829M1059 334.63H1068.8M1819.3 334.63H1829M1059 347.14H1068.8M1819.3 347.14H1829M1059 372.16H1068.8M1819.3 372.16H1829M1059 384.67H1068.8M1819.3 384.67H1829M1059 397.18H1068.8M1819.3 397.18H1829M1059 409.69H1068.8M1819.3 409.69H1829M1059 434.71H1068.8M1819.3 434.71H1829M1059 447.22H1068.8M1819.3 447.22H1829M1059 459.73H1068.8M1819.3 459.73H1829M1059 472.24H1068.8M1819.3 472.24H1829M1059 497.26H1068.8M1819.3 497.26H1829M1059 509.77H1068.8M1819.3 509.77H1829M1059 522.28H1068.8M1819.3 522.28H1829M1059 534.79H1068.8M1819.3 534.79H1829M1059 559.81H1068.8M1819.3 559.81H1829M1059 572.32H1068.8M1819.3 572.32H1829M1059 584.83H1068.8M1819.3 584.83H1829M1059 597.34H1068.8M1819.3 597.34H1829M1059 622.36H1068.8M1819.3 622.36H1829M1059 634.87H1068.8M1819.3 634.87H1829M1059 647.38H1068.8M1819.3 647.38H1829M1059 659.89H1068.8M1819.3 659.89H1829M1059 684.91H1068.8M1819.3 684.91H1829M1059 697.42H1068.8M1819.3 697.42H1829M1059 709.93H1068.8M1819.3 709.93H1829M1059 722.44H1068.8M1819.3 722.44H1829M1059 747.46H1068.8M1819.3 747.46H1829M1059 759.97H1068.8M1819.3 759.97H1829M1059 772.48H1068.8M1819.3 772.48H1829M1059 784.99H1068.8M1819.3 784.99H1829M1059 810.01H1068.8M1819.3 810.01H1829M1059 822.52H1068.8M1819.3 822.52H1829M1059 835.03H1068.8M1819.3 835.03H1829M1059 847.54H1068.8M1819.3 847.54H1829M1059 872.56H1068.8M1819.3 872.56H1829M1059 885.07H1068.8M1819.3 885.07H1829M1059 897.58H1068.8M1819.3 897.58H1829M1059 910.09H1068.8M1819.3 910.09H1829M1059 935.11H1068.8M1819.3 935.11H1829M1059 947.62H1068.8M1819.3 947.62H1829M1059 960.13H1068.8M1819.3 960.13H1829M1059 972.64H1068.8M1819.3 972.64H1829M1059 997.66H1068.8M1819.3 997.66H1829M1059 1010.17H1068.8M1819.3 1010.17H1829M1059 1022.68H1068.8M1819.3 1022.68H1829M1059 1035.19H1068.8M1819.3 1035.19H1829M1059 1060.21H1068.8M1819.3 1060.21H1829M1059 1072.72H1068.8M1819.3 1072.72H1829M1059 1085.23H1068.8M1819.3 1085.23H1829M1059 1097.74H1068.8M1819.3 1097.74H1829M1059 1122.76H1068.8M1819.3 1122.76H1829M1059 1135.27H1068.8M1819.3 1135.27H1829M1059 1147.78H1068.8M1819.3 1147.78H1829M1059 1160.29H1068.8M1819.3 1160.29H1829M1059 1185.31H1068.8M1819.3 1185.31H1829M1059 1197.82H1068.8M1819.3 1197.82H1829M1059 1210.33H1068.8M1819.3 1210.33H1829M1059 1222.84H1068.8M1819.3 1222.84H1829M1059 1247.86H1068.8M1819.3 1247.86H1829M1059 1260.37H1068.8M1819.3 1260.37H1829M1059 1272.88H1068.8M1819.3 1272.88H1829M1059 1285.39H1068.8M1819.3 1285.39H1829M1059 1310.41H1068.8M1819.3 1310.41H1829M1059 1322.92H1068.8M1819.3 1322.92H1829M1059 1335.43H1068.8M1819.3 1335.43H1829M1059 1347.94H1068.8M1819.3 1347.94H1829M1059 1372.96H1068.8M1819.3 1372.96H1829M1059 1385.47H1068.8M1819.3 1385.47H1829M1059 1397.98H1068.8M1819.3 1397.98H1829M1059 1410.49H1068.8M1819.3 1410.49H1829M1059 1435.51H1068.8M1819.3 1435.51H1829M1059 1448.02H1068.8M1819.3 1448.02H1829M1059 1460.53H1068.8M1819.3 1460.53H1829M1059 1473.04H1068.8M1819.3 1473.04H1829M1059 1498.06H1068.8M1819.3 1498.06H1829M1059 1510.57H1068.8M1819.3 1510.57H1829M1059 1523.08H1068.8M1819.3 1523.08H1829M1059 1535.59H1068.8M1819.3 1535.59H1829M1059 1560.61H1068.8M1819.3 1560.61H1829M1059 1573.12H1068.8M1819.3 1573.12H1829M1059 1585.63H1068.8M1819.3 1585.63H1829M1059 1598.14H1068.8M1819.3 1598.14H1829M1059 1623.16H1068.8M1819.3 1623.16H1829M1059 1635.67H1068.8M1819.3 1635.67H1829M1059 1648.18H1068.8M1819.3 1648.18H1829M1059 1660.69H1068.8M1819.3 1660.69H1829M1059 1685.71H1068.8M1819.3 1685.71H1829M1059 1698.22H1068.8M1819.3 1698.22H1829M1059 1710.73H1068.8M1819.3 1710.73H1829M1059 1723.24H1068.8M1819.3 1723.24H1829M1059 1748.26H1068.8M1819.3 1748.26H1829M1059 1760.77H1068.8M1819.3 1760.77H1829M1059 1773.28H1068.8M1819.3 1773.28H1829M1059 1785.79H1068.8M1819.3 1785.79H1829M1059 1810.81H1068.8M1819.3 1810.81H1829M1059 1823.32H1068.8M1819.3 1823.32H1829M1059 1835.83H1068.8M1819.3 1835.83H1829M1059 1848.34H1068.8M1819.3 1848.34H1829M1059 1873.36H1068.8M1819.3 1873.36H1829M1059 1885.87H1068.8M1819.3 1885.87H1829M1059 1898.38H1068.8M1819.3 1898.38H1829M1059 1910.89H1068.8M1819.3 1910.89H1829M1059 1935.91H1068.8M1819.3 1935.91H1829M1059 1948.42H1068.8M1819.3 1948.42H1829M1059 1960.93H1068.8M1819.3 1960.93H1829M1059 1973.44H1068.8M1819.3 1973.44H1829M1059 1998.46H1068.8M1819.3 1998.46H1829M1059 2010.97H1068.8M1819.3 2010.97H1829M1059 2023.48H1068.8M1819.3 2023.48H1829M1059 2035.99H1068.8M1819.3 2035.99H1829M1059 2061.01H1068.8M1819.3 2061.01H1829M1059 2073.52H1068.8M1819.3 2073.52H1829M1059 2086.03H1068.8M1819.3 2086.03H1829M1059 2098.54H1068.8M1819.3 2098.54H1829M1059 2123.56H1068.8M1819.3 2123.56H1829M1059 2136.07H1068.8M1819.3 2136.07H1829M1059 2148.58H1068.8M1819.3 2148.58H1829M1059 2161.09H1068.8M1819.3 2161.09H1829M1059 2186.11H1068.8M1819.3 2186.11H1829M1059 2198.62H1068.8M1819.3 2198.62H1829M1059 2211.13H1068.8M1819.3 2211.13H1829M1059 2223.64H1068.8M1819.3 2223.64H1829M1059 2248.66H1068.8M1819.3 2248.66H1829M1059 2261.17H1068.8M1819.3 2261.17H1829M1059 2273.68H1068.8M1819.3 2273.68H1829M1059 2286.19H1068.8M1819.3 2286.19H1829M1087.52 2298.7V2308M1125.05 2298.7V2308M1200.11 2298.7V2308M1237.63 2298.7V2308M1275.16 2298.7V2308M1350.22 2298.7V2308M1387.76 2298.7V2308M1425.29 2298.7V2308M1500.35 2298.7V2308M1537.88 2298.7V2308M1575.40 2298.7V2308M1650.47 2298.7V2308M1687.99 2298.7V2308M1725.53 2298.7V2308M1800.59 2298.7V2308"/>
</g>
<g class="ticklabels">
<text transform="translate(1032.05 56.7) scale(0.9709 1)" font-size="29.87" text-anchor="end">2.0</text>
<text transform="translate(1032.05 119.25) scale(0.9709 1)" font-size="29.87" text-anchor="end">1.5</text>
<text transform="translate(1032.05 181.8) scale(0.9709 1)" font-size="29.87" text-anchor="end">1.0</text>
<text transform="translate(1032.05 244.35) scale(0.9709 1)" font-size="29.87" text-anchor="end">0.5</text>
<text transform="translate(1032.05 306.9) scale(0.9709 1)" font-size="29.87" text-anchor="end">0.0</text>
<text transform="translate(1032.05 369.45) scale(0.9709 1)" font-size="29.87" text-anchor="end">-0.5</text>
<text transform="translate(1032.05 432) scale(0.9709 1)" font-size="29.87" text-anchor="end">-1.0</text>
<text transform="translate(1855.35 432) scale(0.9709 1)" font-size="29.87">2.0</text>
<text transform="translate(1855.35 494.55) scale(0.9709 1)" font-size="29.87">1.5</text>
<text transform="translate(1855.35 557.1) scale(0.9709 1)" font-size="29.87">1.0</text>
<text transform="translate(1855.35 619.65) scale(0.9709 1)" font-size="29.87">0.5</text>
<text transform="translate(1855.35 682.2) scale(0.9709 1)" font-size="29.87">0.0</text>
<text transform="translate(1855.35 744.75) scale(0.9709 1)" font-size="29.87">-0.5</text>
<text transform="translate(1855.35 807.3) scale(0.9709 1)" font-size="29.87">-1.0</text>
<text transform="translate(1032.05 807.3) scale(0.9709 1)" font-size="29.87" text-anchor="end">2.0</text>
<text transform="translate(1032.05 869.85) scale(0.9709 1)" font-size="29.87" text-anchor="end">1.5</text>
<text transform="translate(1032.05 932.4) scale(0.9709 1)" font-size="29.87" text-anchor="end">1.0</text>
<text transform="translate(1032.05 994.95) scale(0.9709 1)" font-size="29.87" text-anchor="end">0.5</text>
<text transform="translate(1032.05 1057.5) scale(0.9709 1)" font-size="29.87" text-anchor="end">0.0</text>
<text transform="translate(1032.05 1120.05) scale(0.9709 1)" font-size="29.87" text-anchor="end">-0.5</text>
<text transform="translate(1032.05 1182.6) scale(0.9709 1)" font-size="29.87" text-anchor="end">-1.0</text>
<text transform="translate(1855.35 1182.6) scale(0.9709 1)" font-size="29.87">2.0</text>
<text transform="translate(1855.35 1245.15) scale(0.9709 1)" font-size="29.87">1.5</text>
<text transform="translate(1855.35 1307.7) scale(0.9709 1)" font-size="29.87">1.0</text>
<text transform="translate(1855.35 1370.25) scale(0.9709 1)" font-size="29.87">0.5</text>
<text transform="translate(1855.35 1432.8) scale(0.9709 1)" font-size="29.87">0.0</text>
<text transform="translate(1855.35 1495.35) scale(0.9709 1)" font-size="29.87">-0.5</text>
<text transform="translate(1855.35 1557.9) scale(0.9709 1)" font-size="29.87">-1.0</text>
<text transform="translate(1032.05 1557.9) scale(0.9709 1)" font-size="29.87" text-anchor="end">2.0</text>
<text transform="translate(1032.05 1620.45) scale(0.9709 1)" font-size="29.87" text-anchor="end">1.5</text>
<text transform="translate(1032.05 1683) scale(0.9709 1)" font-size="29.87" text-anchor="end">1.0</text>
<text transform="translate(1032.05 1745.55) scale(0.9709 1)" font-size="29.87" text-anchor="end">0.5</text>
<text transform="translate(1032.05 1808.1) scale(0.9709 1)" font-size="29.87" text-anchor="end">0.0</text>
<text transform="translate(1032.05 1870.65) scale(0.9709 1)" font-size="29.87" text-anchor="end">-0.5</text>
<text transform="translate(1032.05 1933.2) scale(0.9709 1)" font-size="29.87" text-anchor="end">-1.0</text>
<text transform="translate(1855.35 1933.2) scale(0.9709 1)" font-size="29.87">2.0</text>
<text transform="translate(1855.35 1995.75) scale(0.9709 1)" font-size="29.87">1.5</text>
<text transform="translate(1855.35 2058.3) scale(0.9709 1)" font-size="29.87">1.0</text>
<text transform="translate(1855.35 2120.85) scale(0.9709 1)" font-size="29.87">0.5</text>
<text transform="translate(1855.35 2183.4) scale(0.9709 1)" font-size="29.87">0.0</text>
<text transform="translate(1855.35 2245.95) scale(0.9709 1)" font-size="29.87">-0.5</text>
<text transform="translate(1855.35 2308.5) scale(0.9709 1)" font-size="29.87">-1.0</text>
<text transform="translate(1162.58 2356.3) scale(0.9709 1)" font-size="29.87" text-anchor="middle">320</text>
<text transform="translate(1312.69 2356.3) scale(0.9709 1)" font-size="29.87" text-anchor="middle">360</text>
<text transform="translate(1462.82 2356.3) scale(0.9709 1)" font-size="29.87" text-anchor="middle">400</text>
<text transform="translate(1612.93 2356.3) scale(0.9709 1)" font-size="29.87" text-anchor="middle">440</text>
<text transform="translate(1763.06 2356.3) scale(0.9709 1)" font-size="29.87" text-anchor="middle">480</text>
</g>
<text transform="translate(1445.05 2391.2) scale(0.9709 1)" font-size="29.25" text-anchor="middle">CO<tspan font-size="20.18" dy="4.5">2</tspan><tspan font-size="20.18" dy="-1.7">_</tspan><tspan dy="-2.8">e (ppmv)</tspan></text>
<text transform="translate(1072.85 26.3) scale(0.9804 1)" font-size="38.86">HadCRUT v.s. CO<tspan font-size="24.09" dy="7">2_</tspan><tspan dy="-7">e at 6 Ocean Sites</tspan></text>
<g class="annotations">
<text transform="translate(1083.65 87.7) scale(0.9709 1)" font-size="31.51">Western Pacific(30<tspan font-size="18.76" dy="-13.2">o</tspan><tspan dy="13.2">N,160</tspan><tspan font-size="18.76" dy="-13.2">o</tspan><tspan dy="13.2">E)</tspan></text>
<text transform="translate(1083.65 118.1) scale(0.9709 1)" font-size="31.14" xml:space="preserve">Trend =  0.23±0.23<tspan font-size="18.76" dy="-13.2">o</tspan><tspan dy="13.2">C/100ppmv</tspan></text>
<text transform="translate(1083.65 463) scale(0.9709 1)" font-size="31.51">Eastern Pacific(20<tspan font-size="18.76" dy="-13.2">o</tspan><tspan dy="13.2">N,110</tspan><tspan font-size="18.76" dy="-13.2">o</tspan><tspan dy="13.2">W)</tspan></text>
<text transform="translate(1083.65 493.4) scale(0.9709 1)" font-size="31.14" xml:space="preserve">Trend =  0.37±0.13<tspan font-size="18.76" dy="-13.2">o</tspan><tspan dy="13.2">C/100ppmv</tspan></text>
<text transform="translate(1083.65 838.3) scale(0.9709 1)" font-size="31.51">Southern Pacific(30<tspan font-size="18.76" dy="-13.2">o</tspan><tspan dy="13.2">S,150</tspan><tspan font-size="18.76" dy="-13.2">o</tspan><tspan dy="13.2">W)</tspan></text>
<text transform="translate(1083.65 868.7) scale(0.9709 1)" font-size="31.14" xml:space="preserve">Trend =  0.62±0.11<tspan font-size="18.76" dy="-13.2">o</tspan><tspan dy="13.2">C/100ppmv</tspan></text>
<text transform="translate(1083.65 1213.6) scale(0.9709 1)" font-size="31.51">Western Atlantic(40<tspan font-size="18.76" dy="-13.2">o</tspan><tspan dy="13.2">N,50</tspan><tspan font-size="18.76" dy="-13.2">o</tspan><tspan dy="13.2">W)</tspan></text>
<text transform="translate(1083.65 1244) scale(0.9709 1)" font-size="31.14" xml:space="preserve">Trend =  0.21±0.43<tspan font-size="18.76" dy="-13.2">o</tspan><tspan dy="13.2">C/100ppmv</tspan></text>
<text transform="translate(1083.65 1588.9) scale(0.9709 1)" font-size="31.51">Eastern Atlantic(30<tspan font-size="18.76" dy="-13.2">o</tspan><tspan dy="13.2">N,30</tspan><tspan font-size="18.76" dy="-13.2">o</tspan><tspan dy="13.2">W)</tspan></text>
<text transform="translate(1083.65 1619.3) scale(0.9709 1)" font-size="31.14" xml:space="preserve">Trend =  0.49±0.13<tspan font-size="18.76" dy="-13.2">o</tspan><tspan dy="13.2">C/100ppmv</tspan></text>
<text transform="translate(1083.65 1964.2) scale(0.9709 1)" font-size="31.51">Indian Ocean(10<tspan font-size="18.76" dy="-13.2">o</tspan><tspan dy="13.2">S,60</tspan><tspan font-size="18.76" dy="-13.2">o</tspan><tspan dy="13.2">E)</tspan></text>
<text transform="translate(1083.65 1994.6) scale(0.9709 1)" font-size="31.14" xml:space="preserve">Trend =  0.91±0.26<tspan font-size="18.76" dy="-13.2">o</tspan><tspan dy="13.2">C/100ppmv</tspan></text>
</g>
<g class="legend">
<line x1="1479" y1="343.9" x2="1492.2" y2="343.9" stroke="#000" stroke-width="5" stroke-linecap="round"/>
<text transform="translate(1496.25 351) scale(1.0000 1)" font-size="30.50" letter-spacing="-0.09">Linear Regression</text>
<circle cx="1485.8" cy="384.8" r="4.7" fill="#ff0000"/>
<text transform="translate(1496.75 392.4) scale(1.0000 1)" font-size="30.50" letter-spacing="0.21">9-Year Running Average</text>
<circle cx="1485.8" cy="426" r="4.7" fill="#0000ff"/>
<text transform="translate(1497.25 436.4) scale(1.0000 1)" font-size="30.50" letter-spacing="-0.15">Annual Mean</text>
</g>
</g>
</svg></body></html>
